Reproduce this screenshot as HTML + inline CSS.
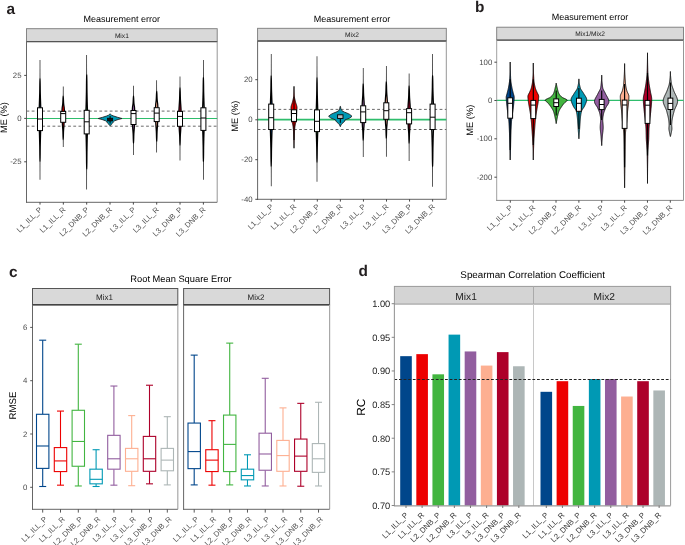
<!DOCTYPE html>
<html><head><meta charset="utf-8"><style>
html,body{margin:0;padding:0;background:#fff;width:685px;height:545px;overflow:hidden}
svg{display:block;will-change:transform}
text{font-family:"Liberation Sans", sans-serif;text-rendering:geometricPrecision}
</style></head><body>
<svg width="685" height="545" viewBox="0 0 685 545">
<rect width="685" height="545" fill="#fff"/>
<text x="6.6" y="14.2" font-size="15.4" font-weight="bold" fill="#231f20">a</text>
<text x="474.9" y="11.9" font-size="15.4" font-weight="bold" fill="#231f20">b</text>
<text x="8.9" y="277.1" font-size="15.4" font-weight="bold" fill="#231f20">c</text>
<text x="358.4" y="275.6" font-size="15.4" font-weight="bold" fill="#231f20">d</text>
<text x="121.85" y="22.10" font-size="9" fill="#000" text-anchor="middle" >Measurement error</text>
<rect x="26.50" y="28.70" width="190.70" height="12.90" fill="#d9d9d9" stroke="#7a7a7a" stroke-width="0.9" />
<line x1="26.50" y1="41.60" x2="217.20" y2="41.60" stroke="#555" stroke-width="1.3" />
<text x="121.85" y="37.80" font-size="6.6" fill="#1a1a1a" text-anchor="middle" >Mix1</text>
<line x1="217.20" y1="41.60" x2="217.20" y2="202.30" stroke="#8a8a8a" stroke-width="0.9" />
<line x1="26.50" y1="111.10" x2="217.20" y2="111.10" stroke="#5a5a5a" stroke-width="0.9" stroke-dasharray="2.8,2.4"/>
<line x1="26.50" y1="126.20" x2="217.20" y2="126.20" stroke="#5a5a5a" stroke-width="0.9" stroke-dasharray="2.8,2.4"/>
<line x1="26.50" y1="118.50" x2="217.20" y2="118.50" stroke="#2fbd6c" stroke-width="1.2" />
<path d="M40.32,59.90 40.32,60.50 40.32,61.10 40.32,61.70 40.32,62.30 40.32,62.89 40.32,63.49 40.32,64.09 40.32,64.69 40.32,65.29 40.32,65.89 40.32,66.49 40.32,67.09 40.32,67.69 40.32,68.29 40.33,68.88 40.33,69.48 40.33,70.08 40.33,70.68 40.33,71.28 40.33,71.88 40.33,72.48 40.34,73.08 40.34,73.68 40.34,74.28 40.34,74.88 40.35,75.47 40.35,76.07 40.35,76.67 40.36,77.27 40.36,77.87 40.36,77.90 40.51,78.47 40.62,78.90 40.63,79.07 40.66,79.67 40.68,80.27 40.71,80.86 40.73,81.46 40.75,82.06 40.76,82.66 40.78,83.26 40.79,83.86 40.80,84.46 40.81,85.06 40.82,85.66 40.83,86.26 40.83,86.85 40.84,87.45 40.85,88.05 40.85,88.65 40.86,89.25 40.87,89.85 40.88,90.45 40.89,91.05 40.90,91.65 40.91,92.25 40.92,92.84 40.93,93.35 40.93,93.44 40.95,94.04 40.97,94.64 40.98,95.24 41.00,95.84 41.02,96.44 41.03,97.04 41.05,97.64 41.07,98.24 41.09,98.83 41.11,99.43 41.13,100.03 41.15,100.63 41.17,101.23 41.19,101.83 41.21,102.43 41.23,103.03 41.25,103.63 41.27,104.23 41.29,104.80 41.29,104.82 41.31,105.42 41.34,106.02 41.37,106.62 41.39,107.22 41.40,107.80 41.40,107.82 41.40,108.42 41.40,109.02 41.40,109.62 41.40,110.22 41.40,110.81 41.40,111.41 41.40,112.01 41.40,112.61 41.40,113.21 41.39,113.81 41.39,114.41 41.39,115.01 41.39,115.61 41.39,116.21 41.39,116.80 41.38,117.40 41.38,118.00 41.38,118.60 41.38,119.20 41.38,119.80 41.37,120.40 41.37,121.00 41.37,121.60 41.36,122.20 41.36,122.79 41.36,123.39 41.35,123.99 41.35,124.59 41.34,125.19 41.34,125.79 41.34,126.39 41.33,126.99 41.33,127.59 41.32,128.19 41.32,128.78 41.31,129.38 41.31,129.98 41.30,130.58 41.30,130.60 41.29,131.18 41.27,131.78 41.24,132.38 41.22,132.98 41.20,133.58 41.20,133.60 41.18,134.18 41.16,134.77 41.14,135.37 41.13,135.97 41.11,136.57 41.10,137.17 41.08,137.77 41.06,138.37 41.05,138.97 41.03,139.57 41.02,140.17 41.01,140.76 40.99,141.36 40.98,141.96 40.96,142.56 40.95,143.16 40.94,143.76 40.92,144.36 40.91,144.96 40.90,145.56 40.89,145.85 40.89,146.16 40.87,146.75 40.87,147.35 40.86,147.95 40.85,148.55 40.84,149.15 40.84,149.75 40.83,150.35 40.82,150.95 40.82,151.55 40.81,152.15 40.81,152.74 40.80,153.34 40.80,153.94 40.79,154.54 40.78,155.14 40.77,155.74 40.76,156.34 40.75,156.94 40.74,157.54 40.72,158.14 40.71,158.73 40.69,159.33 40.67,159.93 40.64,160.53 40.62,161.10 40.62,161.13 40.44,161.73 40.36,162.10 40.36,162.33 40.35,162.93 40.35,163.53 40.35,164.13 40.35,164.72 40.34,165.32 40.34,165.92 40.34,166.52 40.34,167.12 40.33,167.72 40.33,168.32 40.33,168.92 40.33,169.52 40.33,170.12 40.33,170.71 40.33,171.31 40.32,171.91 40.32,172.51 40.32,173.11 40.32,173.71 40.32,174.31 40.32,174.91 40.32,175.51 40.32,176.11 40.32,176.70 40.32,177.30 40.32,177.90 40.32,178.50 40.32,179.10 40.32,179.70 L39.68,179.70 39.68,179.10 39.68,178.50 39.68,177.90 39.68,177.30 39.68,176.70 39.68,176.11 39.68,175.51 39.68,174.91 39.68,174.31 39.68,173.71 39.68,173.11 39.68,172.51 39.68,171.91 39.67,171.31 39.67,170.71 39.67,170.12 39.67,169.52 39.67,168.92 39.67,168.32 39.67,167.72 39.66,167.12 39.66,166.52 39.66,165.92 39.66,165.32 39.65,164.72 39.65,164.13 39.65,163.53 39.65,162.93 39.64,162.33 39.64,162.10 39.56,161.73 39.38,161.13 39.38,161.10 39.36,160.53 39.33,159.93 39.31,159.33 39.29,158.73 39.28,158.14 39.26,157.54 39.25,156.94 39.24,156.34 39.23,155.74 39.22,155.14 39.21,154.54 39.20,153.94 39.20,153.34 39.19,152.74 39.19,152.15 39.18,151.55 39.18,150.95 39.17,150.35 39.16,149.75 39.16,149.15 39.15,148.55 39.14,147.95 39.13,147.35 39.13,146.75 39.11,146.16 39.11,145.85 39.10,145.56 39.09,144.96 39.08,144.36 39.06,143.76 39.05,143.16 39.04,142.56 39.02,141.96 39.01,141.36 38.99,140.76 38.98,140.17 38.97,139.57 38.95,138.97 38.94,138.37 38.92,137.77 38.90,137.17 38.89,136.57 38.87,135.97 38.86,135.37 38.84,134.77 38.82,134.18 38.80,133.60 38.80,133.58 38.78,132.98 38.76,132.38 38.73,131.78 38.71,131.18 38.70,130.60 38.70,130.58 38.69,129.98 38.69,129.38 38.68,128.78 38.68,128.19 38.67,127.59 38.67,126.99 38.66,126.39 38.66,125.79 38.66,125.19 38.65,124.59 38.65,123.99 38.64,123.39 38.64,122.79 38.64,122.20 38.63,121.60 38.63,121.00 38.63,120.40 38.62,119.80 38.62,119.20 38.62,118.60 38.62,118.00 38.62,117.40 38.61,116.80 38.61,116.21 38.61,115.61 38.61,115.01 38.61,114.41 38.61,113.81 38.60,113.21 38.60,112.61 38.60,112.01 38.60,111.41 38.60,110.81 38.60,110.22 38.60,109.62 38.60,109.02 38.60,108.42 38.60,107.82 38.60,107.80 38.61,107.22 38.63,106.62 38.66,106.02 38.69,105.42 38.71,104.82 38.71,104.80 38.73,104.23 38.75,103.63 38.77,103.03 38.79,102.43 38.81,101.83 38.83,101.23 38.85,100.63 38.87,100.03 38.89,99.43 38.91,98.83 38.93,98.24 38.95,97.64 38.97,97.04 38.98,96.44 39.00,95.84 39.02,95.24 39.03,94.64 39.05,94.04 39.07,93.44 39.07,93.35 39.08,92.84 39.09,92.25 39.10,91.65 39.11,91.05 39.12,90.45 39.13,89.85 39.14,89.25 39.15,88.65 39.15,88.05 39.16,87.45 39.17,86.85 39.17,86.26 39.18,85.66 39.19,85.06 39.20,84.46 39.21,83.86 39.22,83.26 39.24,82.66 39.25,82.06 39.27,81.46 39.29,80.86 39.32,80.27 39.34,79.67 39.37,79.07 39.38,78.90 39.49,78.47 39.64,77.90 39.64,77.87 39.64,77.27 39.65,76.67 39.65,76.07 39.65,75.47 39.66,74.88 39.66,74.28 39.66,73.68 39.66,73.08 39.67,72.48 39.67,71.88 39.67,71.28 39.67,70.68 39.67,70.08 39.67,69.48 39.67,68.88 39.68,68.29 39.68,67.69 39.68,67.09 39.68,66.49 39.68,65.89 39.68,65.29 39.68,64.69 39.68,64.09 39.68,63.49 39.68,62.89 39.68,62.30 39.68,61.70 39.68,61.10 39.68,60.50 39.68,59.90 Z" fill="#000" stroke="none"/>
<path d="M40.00,59.90 40.00,60.50 40.00,61.10 40.00,61.70 40.00,62.30 40.00,62.89 40.00,63.49 40.00,64.09 40.00,64.69 40.00,65.29 40.00,65.89 40.00,66.49 40.00,67.09 40.00,67.69 40.00,68.29 40.00,68.88 40.00,69.48 40.00,70.08 40.00,70.68 40.00,71.28 40.00,71.88 40.00,72.48 40.00,73.08 40.00,73.68 40.00,74.28 40.00,74.88 40.00,75.47 40.00,76.07 40.00,76.67 40.00,77.27 40.00,77.87 40.00,77.90 40.00,78.47 40.00,78.90 40.00,79.07 40.00,79.67 40.00,80.27 40.00,80.86 40.00,81.46 40.00,82.06 40.00,82.66 40.00,83.26 40.00,83.86 40.00,84.46 40.00,85.06 40.00,85.66 40.00,86.26 40.00,86.85 40.00,87.45 40.00,88.05 40.00,88.65 40.00,89.25 40.00,89.85 40.00,90.45 40.00,91.05 40.00,91.65 40.00,92.25 40.00,92.84 40.00,93.35 40.00,93.44 40.00,94.04 40.00,94.64 40.00,95.24 40.00,95.84 40.00,96.44 40.00,97.04 40.00,97.64 40.00,98.24 40.00,98.83 40.00,99.43 40.00,100.03 40.00,100.63 40.00,101.23 40.00,101.83 40.00,102.43 40.00,103.03 40.00,103.63 40.02,104.23 40.04,104.80 40.04,104.82 40.06,105.42 40.09,106.02 40.12,106.62 40.14,107.22 40.15,107.80 40.15,107.82 40.15,108.42 40.15,109.02 40.15,109.62 40.15,110.22 40.15,110.81 40.15,111.41 40.15,112.01 40.15,112.61 40.15,113.21 40.14,113.81 40.14,114.41 40.14,115.01 40.14,115.61 40.14,116.21 40.14,116.80 40.13,117.40 40.13,118.00 40.13,118.60 40.13,119.20 40.13,119.80 40.12,120.40 40.12,121.00 40.12,121.60 40.11,122.20 40.11,122.79 40.11,123.39 40.10,123.99 40.10,124.59 40.09,125.19 40.09,125.79 40.09,126.39 40.08,126.99 40.08,127.59 40.07,128.19 40.07,128.78 40.06,129.38 40.06,129.98 40.05,130.58 40.05,130.60 40.04,131.18 40.02,131.78 40.00,132.38 40.00,132.98 40.00,133.58 40.00,133.60 40.00,134.18 40.00,134.77 40.00,135.37 40.00,135.97 40.00,136.57 40.00,137.17 40.00,137.77 40.00,138.37 40.00,138.97 40.00,139.57 40.00,140.17 40.00,140.76 40.00,141.36 40.00,141.96 40.00,142.56 40.00,143.16 40.00,143.76 40.00,144.36 40.00,144.96 40.00,145.56 40.00,145.85 40.00,146.16 40.00,146.75 40.00,147.35 40.00,147.95 40.00,148.55 40.00,149.15 40.00,149.75 40.00,150.35 40.00,150.95 40.00,151.55 40.00,152.15 40.00,152.74 40.00,153.34 40.00,153.94 40.00,154.54 40.00,155.14 40.00,155.74 40.00,156.34 40.00,156.94 40.00,157.54 40.00,158.14 40.00,158.73 40.00,159.33 40.00,159.93 40.00,160.53 40.00,161.10 40.00,161.13 40.00,161.73 40.00,162.10 40.00,162.33 40.00,162.93 40.00,163.53 40.00,164.13 40.00,164.72 40.00,165.32 40.00,165.92 40.00,166.52 40.00,167.12 40.00,167.72 40.00,168.32 40.00,168.92 40.00,169.52 40.00,170.12 40.00,170.71 40.00,171.31 40.00,171.91 40.00,172.51 40.00,173.11 40.00,173.71 40.00,174.31 40.00,174.91 40.00,175.51 40.00,176.11 40.00,176.70 40.00,177.30 40.00,177.90 40.00,178.50 40.00,179.10 40.00,179.70 L40.00,179.70 40.00,179.10 40.00,178.50 40.00,177.90 40.00,177.30 40.00,176.70 40.00,176.11 40.00,175.51 40.00,174.91 40.00,174.31 40.00,173.71 40.00,173.11 40.00,172.51 40.00,171.91 40.00,171.31 40.00,170.71 40.00,170.12 40.00,169.52 40.00,168.92 40.00,168.32 40.00,167.72 40.00,167.12 40.00,166.52 40.00,165.92 40.00,165.32 40.00,164.72 40.00,164.13 40.00,163.53 40.00,162.93 40.00,162.33 40.00,162.10 40.00,161.73 40.00,161.13 40.00,161.10 40.00,160.53 40.00,159.93 40.00,159.33 40.00,158.73 40.00,158.14 40.00,157.54 40.00,156.94 40.00,156.34 40.00,155.74 40.00,155.14 40.00,154.54 40.00,153.94 40.00,153.34 40.00,152.74 40.00,152.15 40.00,151.55 40.00,150.95 40.00,150.35 40.00,149.75 40.00,149.15 40.00,148.55 40.00,147.95 40.00,147.35 40.00,146.75 40.00,146.16 40.00,145.85 40.00,145.56 40.00,144.96 40.00,144.36 40.00,143.76 40.00,143.16 40.00,142.56 40.00,141.96 40.00,141.36 40.00,140.76 40.00,140.17 40.00,139.57 40.00,138.97 40.00,138.37 40.00,137.77 40.00,137.17 40.00,136.57 40.00,135.97 40.00,135.37 40.00,134.77 40.00,134.18 40.00,133.60 40.00,133.58 40.00,132.98 40.00,132.38 39.98,131.78 39.96,131.18 39.95,130.60 39.95,130.58 39.94,129.98 39.94,129.38 39.93,128.78 39.93,128.19 39.92,127.59 39.92,126.99 39.91,126.39 39.91,125.79 39.91,125.19 39.90,124.59 39.90,123.99 39.89,123.39 39.89,122.79 39.89,122.20 39.88,121.60 39.88,121.00 39.88,120.40 39.87,119.80 39.87,119.20 39.87,118.60 39.87,118.00 39.87,117.40 39.86,116.80 39.86,116.21 39.86,115.61 39.86,115.01 39.86,114.41 39.86,113.81 39.85,113.21 39.85,112.61 39.85,112.01 39.85,111.41 39.85,110.81 39.85,110.22 39.85,109.62 39.85,109.02 39.85,108.42 39.85,107.82 39.85,107.80 39.86,107.22 39.88,106.62 39.91,106.02 39.94,105.42 39.96,104.82 39.96,104.80 39.98,104.23 40.00,103.63 40.00,103.03 40.00,102.43 40.00,101.83 40.00,101.23 40.00,100.63 40.00,100.03 40.00,99.43 40.00,98.83 40.00,98.24 40.00,97.64 40.00,97.04 40.00,96.44 40.00,95.84 40.00,95.24 40.00,94.64 40.00,94.04 40.00,93.44 40.00,93.35 40.00,92.84 40.00,92.25 40.00,91.65 40.00,91.05 40.00,90.45 40.00,89.85 40.00,89.25 40.00,88.65 40.00,88.05 40.00,87.45 40.00,86.85 40.00,86.26 40.00,85.66 40.00,85.06 40.00,84.46 40.00,83.86 40.00,83.26 40.00,82.66 40.00,82.06 40.00,81.46 40.00,80.86 40.00,80.27 40.00,79.67 40.00,79.07 40.00,78.90 40.00,78.47 40.00,77.90 40.00,77.87 40.00,77.27 40.00,76.67 40.00,76.07 40.00,75.47 40.00,74.88 40.00,74.28 40.00,73.68 40.00,73.08 40.00,72.48 40.00,71.88 40.00,71.28 40.00,70.68 40.00,70.08 40.00,69.48 40.00,68.88 40.00,68.29 40.00,67.69 40.00,67.09 40.00,66.49 40.00,65.89 40.00,65.29 40.00,64.69 40.00,64.09 40.00,63.49 40.00,62.89 40.00,62.30 40.00,61.70 40.00,61.10 40.00,60.50 40.00,59.90 Z" fill="#00468B" stroke="none"/>
<rect x="37.50" y="107.80" width="5.00" height="22.80" fill="#fff" stroke="#000" stroke-width="1.0" />
<line x1="37.50" y1="119.00" x2="42.50" y2="119.00" stroke="#000" stroke-width="1.0" />
<path d="M63.52,86.40 63.52,86.70 63.52,87.01 63.52,87.31 63.52,87.61 63.52,87.92 63.52,88.22 63.52,88.52 63.52,88.82 63.52,89.13 63.52,89.43 63.52,89.73 63.52,90.04 63.53,90.34 63.53,90.64 63.53,90.95 63.53,91.25 63.53,91.55 63.53,91.85 63.53,92.16 63.53,92.46 63.54,92.76 63.54,93.07 63.54,93.37 63.54,93.67 63.55,93.98 63.55,94.28 63.55,94.58 63.56,94.88 63.56,95.19 63.56,95.30 63.58,95.49 63.67,95.79 63.78,96.10 63.82,96.30 63.83,96.40 63.87,96.70 63.90,97.01 63.93,97.31 63.95,97.61 63.98,97.91 64.00,98.22 64.02,98.52 64.04,98.82 64.05,99.13 64.07,99.43 64.08,99.73 64.10,100.03 64.11,100.34 64.12,100.64 64.14,100.94 64.15,101.25 64.16,101.55 64.18,101.85 64.19,102.16 64.21,102.46 64.23,102.76 64.25,103.06 64.27,103.37 64.30,103.67 64.31,103.85 64.32,103.97 64.36,104.28 64.39,104.58 64.43,104.88 64.47,105.19 64.52,105.49 64.57,105.79 64.61,106.09 64.66,106.40 64.71,106.70 64.75,107.00 64.79,107.31 64.83,107.61 64.86,107.91 64.89,108.22 64.90,108.40 64.91,108.52 64.93,108.82 64.95,109.12 64.97,109.43 64.99,109.73 65.01,110.03 65.02,110.34 65.04,110.64 65.04,110.94 65.05,111.25 65.05,111.40 65.05,111.55 65.05,111.85 65.05,112.16 65.04,112.46 65.04,112.76 65.04,113.06 65.03,113.37 65.02,113.67 65.02,113.97 65.01,114.28 65.00,114.58 64.99,114.88 64.98,115.19 64.97,115.49 64.96,115.79 64.95,116.09 64.94,116.40 64.93,116.70 64.92,117.00 64.91,117.31 64.89,117.61 64.88,117.91 64.87,118.22 64.86,118.52 64.84,118.82 64.83,119.12 64.82,119.43 64.80,119.73 64.79,120.03 64.78,120.34 64.77,120.64 64.75,120.94 64.74,121.25 64.73,121.55 64.72,121.85 64.71,122.15 64.70,122.30 64.69,122.46 64.68,122.76 64.67,123.06 64.66,123.37 64.65,123.67 64.64,123.97 64.63,124.28 64.61,124.58 64.60,124.88 64.59,125.18 64.58,125.30 64.57,125.49 64.55,125.79 64.53,126.09 64.51,126.40 64.49,126.70 64.47,127.00 64.44,127.31 64.42,127.61 64.39,127.91 64.36,128.21 64.34,128.52 64.31,128.82 64.29,129.12 64.26,129.43 64.24,129.73 64.22,130.03 64.20,130.34 64.18,130.64 64.17,130.80 64.16,130.94 64.15,131.24 64.14,131.55 64.12,131.85 64.11,132.15 64.10,132.46 64.09,132.76 64.08,133.06 64.08,133.37 64.07,133.67 64.06,133.97 64.05,134.27 64.04,134.58 64.04,134.88 64.03,135.18 64.02,135.49 64.01,135.79 64.00,136.09 63.99,136.39 63.98,136.70 63.97,137.00 63.95,137.30 63.94,137.61 63.92,137.91 63.90,138.21 63.88,138.52 63.86,138.82 63.84,139.12 63.82,139.30 63.80,139.43 63.71,139.73 63.60,140.03 63.56,140.30 63.56,140.33 63.56,140.64 63.55,140.94 63.55,141.24 63.54,141.55 63.54,141.85 63.54,142.15 63.54,142.45 63.53,142.76 63.53,143.06 63.53,143.36 63.53,143.67 63.53,143.97 63.52,144.27 63.52,144.58 63.52,144.88 63.52,145.18 63.52,145.49 63.52,145.79 63.52,146.09 63.52,146.39 63.52,146.70 63.52,147.00 L62.88,147.00 62.88,146.70 62.88,146.39 62.88,146.09 62.88,145.79 62.88,145.49 62.88,145.18 62.88,144.88 62.88,144.58 62.88,144.27 62.87,143.97 62.87,143.67 62.87,143.36 62.87,143.06 62.87,142.76 62.86,142.45 62.86,142.15 62.86,141.85 62.86,141.55 62.85,141.24 62.85,140.94 62.84,140.64 62.84,140.33 62.84,140.30 62.80,140.03 62.69,139.73 62.60,139.43 62.58,139.30 62.56,139.12 62.54,138.82 62.52,138.52 62.50,138.21 62.48,137.91 62.46,137.61 62.45,137.30 62.43,137.00 62.42,136.70 62.41,136.39 62.40,136.09 62.39,135.79 62.38,135.49 62.37,135.18 62.36,134.88 62.36,134.58 62.35,134.27 62.34,133.97 62.33,133.67 62.32,133.37 62.32,133.06 62.31,132.76 62.30,132.46 62.29,132.15 62.28,131.85 62.26,131.55 62.25,131.24 62.24,130.94 62.23,130.80 62.22,130.64 62.20,130.34 62.18,130.03 62.16,129.73 62.14,129.43 62.11,129.12 62.09,128.82 62.06,128.52 62.04,128.21 62.01,127.91 61.98,127.61 61.96,127.31 61.93,127.00 61.91,126.70 61.89,126.40 61.87,126.09 61.85,125.79 61.83,125.49 61.82,125.30 61.81,125.18 61.80,124.88 61.79,124.58 61.77,124.28 61.76,123.97 61.75,123.67 61.74,123.37 61.73,123.06 61.72,122.76 61.71,122.46 61.70,122.30 61.69,122.15 61.68,121.85 61.67,121.55 61.66,121.25 61.65,120.94 61.63,120.64 61.62,120.34 61.61,120.03 61.60,119.73 61.58,119.43 61.57,119.12 61.56,118.82 61.54,118.52 61.53,118.22 61.52,117.91 61.51,117.61 61.49,117.31 61.48,117.00 61.47,116.70 61.46,116.40 61.45,116.09 61.44,115.79 61.43,115.49 61.42,115.19 61.41,114.88 61.40,114.58 61.39,114.28 61.38,113.97 61.38,113.67 61.37,113.37 61.36,113.06 61.36,112.76 61.36,112.46 61.35,112.16 61.35,111.85 61.35,111.55 61.35,111.40 61.35,111.25 61.36,110.94 61.36,110.64 61.38,110.34 61.39,110.03 61.41,109.73 61.43,109.43 61.45,109.12 61.47,108.82 61.49,108.52 61.50,108.40 61.51,108.22 61.54,107.91 61.57,107.61 61.61,107.31 61.65,107.00 61.69,106.70 61.74,106.40 61.79,106.09 61.83,105.79 61.88,105.49 61.93,105.19 61.97,104.88 62.01,104.58 62.04,104.28 62.08,103.97 62.09,103.85 62.10,103.67 62.13,103.37 62.15,103.06 62.17,102.76 62.19,102.46 62.21,102.16 62.22,101.85 62.24,101.55 62.25,101.25 62.26,100.94 62.28,100.64 62.29,100.34 62.30,100.03 62.32,99.73 62.33,99.43 62.35,99.13 62.36,98.82 62.38,98.52 62.40,98.22 62.42,97.91 62.45,97.61 62.47,97.31 62.50,97.01 62.53,96.70 62.57,96.40 62.58,96.30 62.62,96.10 62.73,95.79 62.82,95.49 62.84,95.30 62.84,95.19 62.84,94.88 62.85,94.58 62.85,94.28 62.85,93.98 62.86,93.67 62.86,93.37 62.86,93.07 62.86,92.76 62.87,92.46 62.87,92.16 62.87,91.85 62.87,91.55 62.87,91.25 62.87,90.95 62.87,90.64 62.87,90.34 62.88,90.04 62.88,89.73 62.88,89.43 62.88,89.13 62.88,88.82 62.88,88.52 62.88,88.22 62.88,87.92 62.88,87.61 62.88,87.31 62.88,87.01 62.88,86.70 62.88,86.40 Z" fill="#000" stroke="none"/>
<path d="M63.20,86.40 63.20,86.70 63.20,87.01 63.20,87.31 63.20,87.61 63.20,87.92 63.20,88.22 63.20,88.52 63.20,88.82 63.20,89.13 63.20,89.43 63.20,89.73 63.20,90.04 63.20,90.34 63.20,90.64 63.20,90.95 63.20,91.25 63.20,91.55 63.20,91.85 63.20,92.16 63.20,92.46 63.20,92.76 63.20,93.07 63.20,93.37 63.20,93.67 63.20,93.98 63.20,94.28 63.20,94.58 63.20,94.88 63.20,95.19 63.20,95.30 63.20,95.49 63.20,95.79 63.20,96.10 63.20,96.30 63.20,96.40 63.20,96.70 63.20,97.01 63.20,97.31 63.20,97.61 63.20,97.91 63.20,98.22 63.20,98.52 63.20,98.82 63.20,99.13 63.20,99.43 63.20,99.73 63.20,100.03 63.20,100.34 63.20,100.64 63.20,100.94 63.20,101.25 63.20,101.55 63.20,101.85 63.20,102.16 63.20,102.46 63.20,102.76 63.20,103.06 63.20,103.37 63.20,103.67 63.20,103.85 63.20,103.97 63.20,104.28 63.20,104.58 63.20,104.88 63.22,105.19 63.27,105.49 63.32,105.79 63.36,106.09 63.41,106.40 63.46,106.70 63.50,107.00 63.54,107.31 63.58,107.61 63.61,107.91 63.64,108.22 63.65,108.40 63.66,108.52 63.68,108.82 63.70,109.12 63.72,109.43 63.74,109.73 63.76,110.03 63.77,110.34 63.79,110.64 63.79,110.94 63.80,111.25 63.80,111.40 63.80,111.55 63.80,111.85 63.80,112.16 63.79,112.46 63.79,112.76 63.79,113.06 63.78,113.37 63.77,113.67 63.77,113.97 63.76,114.28 63.75,114.58 63.74,114.88 63.73,115.19 63.72,115.49 63.71,115.79 63.70,116.09 63.69,116.40 63.68,116.70 63.67,117.00 63.66,117.31 63.64,117.61 63.63,117.91 63.62,118.22 63.61,118.52 63.59,118.82 63.58,119.12 63.57,119.43 63.55,119.73 63.54,120.03 63.53,120.34 63.52,120.64 63.50,120.94 63.49,121.25 63.48,121.55 63.47,121.85 63.46,122.15 63.45,122.30 63.44,122.46 63.43,122.76 63.42,123.06 63.41,123.37 63.40,123.67 63.39,123.97 63.38,124.28 63.36,124.58 63.35,124.88 63.34,125.18 63.33,125.30 63.32,125.49 63.30,125.79 63.28,126.09 63.26,126.40 63.24,126.70 63.22,127.00 63.20,127.31 63.20,127.61 63.20,127.91 63.20,128.21 63.20,128.52 63.20,128.82 63.20,129.12 63.20,129.43 63.20,129.73 63.20,130.03 63.20,130.34 63.20,130.64 63.20,130.80 63.20,130.94 63.20,131.24 63.20,131.55 63.20,131.85 63.20,132.15 63.20,132.46 63.20,132.76 63.20,133.06 63.20,133.37 63.20,133.67 63.20,133.97 63.20,134.27 63.20,134.58 63.20,134.88 63.20,135.18 63.20,135.49 63.20,135.79 63.20,136.09 63.20,136.39 63.20,136.70 63.20,137.00 63.20,137.30 63.20,137.61 63.20,137.91 63.20,138.21 63.20,138.52 63.20,138.82 63.20,139.12 63.20,139.30 63.20,139.43 63.20,139.73 63.20,140.03 63.20,140.30 63.20,140.33 63.20,140.64 63.20,140.94 63.20,141.24 63.20,141.55 63.20,141.85 63.20,142.15 63.20,142.45 63.20,142.76 63.20,143.06 63.20,143.36 63.20,143.67 63.20,143.97 63.20,144.27 63.20,144.58 63.20,144.88 63.20,145.18 63.20,145.49 63.20,145.79 63.20,146.09 63.20,146.39 63.20,146.70 63.20,147.00 L63.20,147.00 63.20,146.70 63.20,146.39 63.20,146.09 63.20,145.79 63.20,145.49 63.20,145.18 63.20,144.88 63.20,144.58 63.20,144.27 63.20,143.97 63.20,143.67 63.20,143.36 63.20,143.06 63.20,142.76 63.20,142.45 63.20,142.15 63.20,141.85 63.20,141.55 63.20,141.24 63.20,140.94 63.20,140.64 63.20,140.33 63.20,140.30 63.20,140.03 63.20,139.73 63.20,139.43 63.20,139.30 63.20,139.12 63.20,138.82 63.20,138.52 63.20,138.21 63.20,137.91 63.20,137.61 63.20,137.30 63.20,137.00 63.20,136.70 63.20,136.39 63.20,136.09 63.20,135.79 63.20,135.49 63.20,135.18 63.20,134.88 63.20,134.58 63.20,134.27 63.20,133.97 63.20,133.67 63.20,133.37 63.20,133.06 63.20,132.76 63.20,132.46 63.20,132.15 63.20,131.85 63.20,131.55 63.20,131.24 63.20,130.94 63.20,130.80 63.20,130.64 63.20,130.34 63.20,130.03 63.20,129.73 63.20,129.43 63.20,129.12 63.20,128.82 63.20,128.52 63.20,128.21 63.20,127.91 63.20,127.61 63.20,127.31 63.18,127.00 63.16,126.70 63.14,126.40 63.12,126.09 63.10,125.79 63.08,125.49 63.07,125.30 63.06,125.18 63.05,124.88 63.04,124.58 63.02,124.28 63.01,123.97 63.00,123.67 62.99,123.37 62.98,123.06 62.97,122.76 62.96,122.46 62.95,122.30 62.94,122.15 62.93,121.85 62.92,121.55 62.91,121.25 62.90,120.94 62.88,120.64 62.87,120.34 62.86,120.03 62.85,119.73 62.83,119.43 62.82,119.12 62.81,118.82 62.79,118.52 62.78,118.22 62.77,117.91 62.76,117.61 62.74,117.31 62.73,117.00 62.72,116.70 62.71,116.40 62.70,116.09 62.69,115.79 62.68,115.49 62.67,115.19 62.66,114.88 62.65,114.58 62.64,114.28 62.63,113.97 62.63,113.67 62.62,113.37 62.61,113.06 62.61,112.76 62.61,112.46 62.60,112.16 62.60,111.85 62.60,111.55 62.60,111.40 62.60,111.25 62.61,110.94 62.61,110.64 62.63,110.34 62.64,110.03 62.66,109.73 62.68,109.43 62.70,109.12 62.72,108.82 62.74,108.52 62.75,108.40 62.76,108.22 62.79,107.91 62.82,107.61 62.86,107.31 62.90,107.00 62.94,106.70 62.99,106.40 63.04,106.09 63.08,105.79 63.13,105.49 63.18,105.19 63.20,104.88 63.20,104.58 63.20,104.28 63.20,103.97 63.20,103.85 63.20,103.67 63.20,103.37 63.20,103.06 63.20,102.76 63.20,102.46 63.20,102.16 63.20,101.85 63.20,101.55 63.20,101.25 63.20,100.94 63.20,100.64 63.20,100.34 63.20,100.03 63.20,99.73 63.20,99.43 63.20,99.13 63.20,98.82 63.20,98.52 63.20,98.22 63.20,97.91 63.20,97.61 63.20,97.31 63.20,97.01 63.20,96.70 63.20,96.40 63.20,96.30 63.20,96.10 63.20,95.79 63.20,95.49 63.20,95.30 63.20,95.19 63.20,94.88 63.20,94.58 63.20,94.28 63.20,93.98 63.20,93.67 63.20,93.37 63.20,93.07 63.20,92.76 63.20,92.46 63.20,92.16 63.20,91.85 63.20,91.55 63.20,91.25 63.20,90.95 63.20,90.64 63.20,90.34 63.20,90.04 63.20,89.73 63.20,89.43 63.20,89.13 63.20,88.82 63.20,88.52 63.20,88.22 63.20,87.92 63.20,87.61 63.20,87.31 63.20,87.01 63.20,86.70 63.20,86.40 Z" fill="#ED0000" stroke="none"/>
<rect x="60.70" y="111.40" width="5.00" height="10.90" fill="#fff" stroke="#000" stroke-width="1.0" />
<line x1="60.70" y1="113.60" x2="65.70" y2="113.60" stroke="#000" stroke-width="1.0" />
<path d="M87.02,55.00 87.02,55.67 87.02,56.34 87.02,57.02 87.02,57.69 87.02,58.36 87.02,59.03 87.02,59.70 87.02,60.38 87.02,61.05 87.02,61.72 87.02,62.39 87.02,63.06 87.02,63.74 87.03,64.41 87.03,65.08 87.03,65.75 87.03,66.42 87.03,67.10 87.03,67.77 87.04,68.44 87.04,69.11 87.04,69.78 87.04,70.46 87.05,71.13 87.05,71.80 87.05,72.47 87.06,73.14 87.06,73.82 87.06,74.00 87.18,74.49 87.32,75.00 87.33,75.16 87.36,75.83 87.38,76.50 87.40,77.18 87.42,77.85 87.44,78.52 87.46,79.19 87.47,79.86 87.48,80.54 87.50,81.21 87.51,81.88 87.51,82.55 87.52,83.22 87.53,83.90 87.54,84.57 87.54,85.24 87.55,85.91 87.55,86.58 87.56,87.26 87.57,87.93 87.57,88.60 87.58,89.27 87.59,89.94 87.60,90.62 87.61,91.29 87.62,91.96 87.63,92.63 87.63,92.65 87.65,93.30 87.66,93.98 87.67,94.65 87.69,95.32 87.70,95.99 87.72,96.66 87.73,97.34 87.75,98.01 87.76,98.68 87.78,99.35 87.79,100.02 87.81,100.70 87.82,101.37 87.84,102.04 87.86,102.71 87.88,103.38 87.89,104.06 87.91,104.73 87.93,105.40 87.95,106.07 87.97,106.74 87.99,107.30 87.99,107.42 88.02,108.09 88.05,108.76 88.08,109.43 88.10,110.10 88.10,110.30 88.10,110.78 88.10,111.45 88.10,112.12 88.10,112.79 88.10,113.46 88.10,114.14 88.10,114.81 88.10,115.48 88.09,116.15 88.09,116.82 88.09,117.50 88.09,118.17 88.09,118.84 88.09,119.51 88.08,120.18 88.08,120.86 88.08,121.53 88.08,122.20 88.07,122.87 88.07,123.54 88.07,124.22 88.07,124.89 88.06,125.56 88.06,126.23 88.05,126.90 88.05,127.58 88.05,128.25 88.04,128.92 88.04,129.59 88.03,130.26 88.03,130.94 88.02,131.61 88.01,132.28 88.01,132.95 88.00,133.62 88.00,133.90 87.99,134.30 87.97,134.97 87.94,135.64 87.92,136.31 87.90,136.90 87.89,136.98 87.88,137.66 87.86,138.33 87.84,139.00 87.82,139.67 87.81,140.34 87.79,141.02 87.78,141.69 87.76,142.36 87.75,143.03 87.74,143.70 87.72,144.38 87.71,145.05 87.70,145.72 87.68,146.39 87.67,147.06 87.66,147.74 87.65,148.41 87.63,149.08 87.62,149.75 87.61,150.42 87.60,151.10 87.59,151.35 87.58,151.77 87.57,152.44 87.57,153.11 87.56,153.78 87.55,154.46 87.54,155.13 87.54,155.80 87.53,156.47 87.53,157.14 87.52,157.82 87.52,158.49 87.51,159.16 87.51,159.83 87.50,160.50 87.49,161.18 87.49,161.85 87.48,162.52 87.47,163.19 87.46,163.86 87.44,164.54 87.43,165.21 87.41,165.88 87.40,166.55 87.38,167.22 87.35,167.90 87.33,168.57 87.32,168.80 87.21,169.24 87.06,169.80 87.06,169.91 87.06,170.58 87.05,171.26 87.05,171.93 87.05,172.60 87.04,173.27 87.04,173.94 87.04,174.62 87.04,175.29 87.03,175.96 87.03,176.63 87.03,177.30 87.03,177.98 87.03,178.65 87.03,179.32 87.03,179.99 87.02,180.66 87.02,181.34 87.02,182.01 87.02,182.68 87.02,183.35 87.02,184.02 87.02,184.70 87.02,185.37 87.02,186.04 87.02,186.71 87.02,187.38 87.02,188.06 87.02,188.73 87.02,189.40 L86.38,189.40 86.38,188.73 86.38,188.06 86.38,187.38 86.38,186.71 86.38,186.04 86.38,185.37 86.38,184.70 86.38,184.02 86.38,183.35 86.38,182.68 86.38,182.01 86.38,181.34 86.38,180.66 86.37,179.99 86.37,179.32 86.37,178.65 86.37,177.98 86.37,177.30 86.37,176.63 86.37,175.96 86.36,175.29 86.36,174.62 86.36,173.94 86.36,173.27 86.35,172.60 86.35,171.93 86.35,171.26 86.34,170.58 86.34,169.91 86.34,169.80 86.19,169.24 86.08,168.80 86.07,168.57 86.05,167.90 86.02,167.22 86.00,166.55 85.99,165.88 85.97,165.21 85.96,164.54 85.94,163.86 85.93,163.19 85.92,162.52 85.91,161.85 85.91,161.18 85.90,160.50 85.89,159.83 85.89,159.16 85.88,158.49 85.88,157.82 85.87,157.14 85.87,156.47 85.86,155.80 85.86,155.13 85.85,154.46 85.84,153.78 85.83,153.11 85.83,152.44 85.82,151.77 85.81,151.35 85.80,151.10 85.79,150.42 85.78,149.75 85.77,149.08 85.75,148.41 85.74,147.74 85.73,147.06 85.72,146.39 85.70,145.72 85.69,145.05 85.68,144.38 85.66,143.70 85.65,143.03 85.64,142.36 85.62,141.69 85.61,141.02 85.59,140.34 85.58,139.67 85.56,139.00 85.54,138.33 85.52,137.66 85.51,136.98 85.50,136.90 85.48,136.31 85.46,135.64 85.43,134.97 85.41,134.30 85.40,133.90 85.40,133.62 85.39,132.95 85.39,132.28 85.38,131.61 85.37,130.94 85.37,130.26 85.36,129.59 85.36,128.92 85.35,128.25 85.35,127.58 85.35,126.90 85.34,126.23 85.34,125.56 85.33,124.89 85.33,124.22 85.33,123.54 85.33,122.87 85.32,122.20 85.32,121.53 85.32,120.86 85.32,120.18 85.31,119.51 85.31,118.84 85.31,118.17 85.31,117.50 85.31,116.82 85.31,116.15 85.30,115.48 85.30,114.81 85.30,114.14 85.30,113.46 85.30,112.79 85.30,112.12 85.30,111.45 85.30,110.78 85.30,110.30 85.30,110.10 85.32,109.43 85.35,108.76 85.38,108.09 85.41,107.42 85.41,107.30 85.43,106.74 85.45,106.07 85.47,105.40 85.49,104.73 85.51,104.06 85.52,103.38 85.54,102.71 85.56,102.04 85.58,101.37 85.59,100.70 85.61,100.02 85.62,99.35 85.64,98.68 85.65,98.01 85.67,97.34 85.68,96.66 85.70,95.99 85.71,95.32 85.73,94.65 85.74,93.98 85.75,93.30 85.77,92.65 85.77,92.63 85.78,91.96 85.79,91.29 85.80,90.62 85.81,89.94 85.82,89.27 85.83,88.60 85.83,87.93 85.84,87.26 85.85,86.58 85.85,85.91 85.86,85.24 85.86,84.57 85.87,83.90 85.88,83.22 85.89,82.55 85.89,81.88 85.90,81.21 85.92,80.54 85.93,79.86 85.94,79.19 85.96,78.52 85.98,77.85 86.00,77.18 86.02,76.50 86.04,75.83 86.07,75.16 86.08,75.00 86.22,74.49 86.34,74.00 86.34,73.82 86.34,73.14 86.35,72.47 86.35,71.80 86.35,71.13 86.36,70.46 86.36,69.78 86.36,69.11 86.36,68.44 86.37,67.77 86.37,67.10 86.37,66.42 86.37,65.75 86.37,65.08 86.37,64.41 86.38,63.74 86.38,63.06 86.38,62.39 86.38,61.72 86.38,61.05 86.38,60.38 86.38,59.70 86.38,59.03 86.38,58.36 86.38,57.69 86.38,57.02 86.38,56.34 86.38,55.67 86.38,55.00 Z" fill="#000" stroke="none"/>
<path d="M86.70,55.00 86.70,55.67 86.70,56.34 86.70,57.02 86.70,57.69 86.70,58.36 86.70,59.03 86.70,59.70 86.70,60.38 86.70,61.05 86.70,61.72 86.70,62.39 86.70,63.06 86.70,63.74 86.70,64.41 86.70,65.08 86.70,65.75 86.70,66.42 86.70,67.10 86.70,67.77 86.70,68.44 86.70,69.11 86.70,69.78 86.70,70.46 86.70,71.13 86.70,71.80 86.70,72.47 86.70,73.14 86.70,73.82 86.70,74.00 86.70,74.49 86.70,75.00 86.70,75.16 86.70,75.83 86.70,76.50 86.70,77.18 86.70,77.85 86.70,78.52 86.70,79.19 86.70,79.86 86.70,80.54 86.70,81.21 86.70,81.88 86.70,82.55 86.70,83.22 86.70,83.90 86.70,84.57 86.70,85.24 86.70,85.91 86.70,86.58 86.70,87.26 86.70,87.93 86.70,88.60 86.70,89.27 86.70,89.94 86.70,90.62 86.70,91.29 86.70,91.96 86.70,92.63 86.70,92.65 86.70,93.30 86.70,93.98 86.70,94.65 86.70,95.32 86.70,95.99 86.70,96.66 86.70,97.34 86.70,98.01 86.70,98.68 86.70,99.35 86.70,100.02 86.70,100.70 86.70,101.37 86.70,102.04 86.70,102.71 86.70,103.38 86.70,104.06 86.70,104.73 86.70,105.40 86.70,106.07 86.72,106.74 86.74,107.30 86.74,107.42 86.77,108.09 86.80,108.76 86.83,109.43 86.85,110.10 86.85,110.30 86.85,110.78 86.85,111.45 86.85,112.12 86.85,112.79 86.85,113.46 86.85,114.14 86.85,114.81 86.85,115.48 86.84,116.15 86.84,116.82 86.84,117.50 86.84,118.17 86.84,118.84 86.84,119.51 86.83,120.18 86.83,120.86 86.83,121.53 86.83,122.20 86.82,122.87 86.82,123.54 86.82,124.22 86.82,124.89 86.81,125.56 86.81,126.23 86.80,126.90 86.80,127.58 86.80,128.25 86.79,128.92 86.79,129.59 86.78,130.26 86.78,130.94 86.77,131.61 86.76,132.28 86.76,132.95 86.75,133.62 86.75,133.90 86.74,134.30 86.72,134.97 86.70,135.64 86.70,136.31 86.70,136.90 86.70,136.98 86.70,137.66 86.70,138.33 86.70,139.00 86.70,139.67 86.70,140.34 86.70,141.02 86.70,141.69 86.70,142.36 86.70,143.03 86.70,143.70 86.70,144.38 86.70,145.05 86.70,145.72 86.70,146.39 86.70,147.06 86.70,147.74 86.70,148.41 86.70,149.08 86.70,149.75 86.70,150.42 86.70,151.10 86.70,151.35 86.70,151.77 86.70,152.44 86.70,153.11 86.70,153.78 86.70,154.46 86.70,155.13 86.70,155.80 86.70,156.47 86.70,157.14 86.70,157.82 86.70,158.49 86.70,159.16 86.70,159.83 86.70,160.50 86.70,161.18 86.70,161.85 86.70,162.52 86.70,163.19 86.70,163.86 86.70,164.54 86.70,165.21 86.70,165.88 86.70,166.55 86.70,167.22 86.70,167.90 86.70,168.57 86.70,168.80 86.70,169.24 86.70,169.80 86.70,169.91 86.70,170.58 86.70,171.26 86.70,171.93 86.70,172.60 86.70,173.27 86.70,173.94 86.70,174.62 86.70,175.29 86.70,175.96 86.70,176.63 86.70,177.30 86.70,177.98 86.70,178.65 86.70,179.32 86.70,179.99 86.70,180.66 86.70,181.34 86.70,182.01 86.70,182.68 86.70,183.35 86.70,184.02 86.70,184.70 86.70,185.37 86.70,186.04 86.70,186.71 86.70,187.38 86.70,188.06 86.70,188.73 86.70,189.40 L86.70,189.40 86.70,188.73 86.70,188.06 86.70,187.38 86.70,186.71 86.70,186.04 86.70,185.37 86.70,184.70 86.70,184.02 86.70,183.35 86.70,182.68 86.70,182.01 86.70,181.34 86.70,180.66 86.70,179.99 86.70,179.32 86.70,178.65 86.70,177.98 86.70,177.30 86.70,176.63 86.70,175.96 86.70,175.29 86.70,174.62 86.70,173.94 86.70,173.27 86.70,172.60 86.70,171.93 86.70,171.26 86.70,170.58 86.70,169.91 86.70,169.80 86.70,169.24 86.70,168.80 86.70,168.57 86.70,167.90 86.70,167.22 86.70,166.55 86.70,165.88 86.70,165.21 86.70,164.54 86.70,163.86 86.70,163.19 86.70,162.52 86.70,161.85 86.70,161.18 86.70,160.50 86.70,159.83 86.70,159.16 86.70,158.49 86.70,157.82 86.70,157.14 86.70,156.47 86.70,155.80 86.70,155.13 86.70,154.46 86.70,153.78 86.70,153.11 86.70,152.44 86.70,151.77 86.70,151.35 86.70,151.10 86.70,150.42 86.70,149.75 86.70,149.08 86.70,148.41 86.70,147.74 86.70,147.06 86.70,146.39 86.70,145.72 86.70,145.05 86.70,144.38 86.70,143.70 86.70,143.03 86.70,142.36 86.70,141.69 86.70,141.02 86.70,140.34 86.70,139.67 86.70,139.00 86.70,138.33 86.70,137.66 86.70,136.98 86.70,136.90 86.70,136.31 86.70,135.64 86.68,134.97 86.66,134.30 86.65,133.90 86.65,133.62 86.64,132.95 86.64,132.28 86.63,131.61 86.62,130.94 86.62,130.26 86.61,129.59 86.61,128.92 86.60,128.25 86.60,127.58 86.60,126.90 86.59,126.23 86.59,125.56 86.58,124.89 86.58,124.22 86.58,123.54 86.58,122.87 86.57,122.20 86.57,121.53 86.57,120.86 86.57,120.18 86.56,119.51 86.56,118.84 86.56,118.17 86.56,117.50 86.56,116.82 86.56,116.15 86.55,115.48 86.55,114.81 86.55,114.14 86.55,113.46 86.55,112.79 86.55,112.12 86.55,111.45 86.55,110.78 86.55,110.30 86.55,110.10 86.57,109.43 86.60,108.76 86.63,108.09 86.66,107.42 86.66,107.30 86.68,106.74 86.70,106.07 86.70,105.40 86.70,104.73 86.70,104.06 86.70,103.38 86.70,102.71 86.70,102.04 86.70,101.37 86.70,100.70 86.70,100.02 86.70,99.35 86.70,98.68 86.70,98.01 86.70,97.34 86.70,96.66 86.70,95.99 86.70,95.32 86.70,94.65 86.70,93.98 86.70,93.30 86.70,92.65 86.70,92.63 86.70,91.96 86.70,91.29 86.70,90.62 86.70,89.94 86.70,89.27 86.70,88.60 86.70,87.93 86.70,87.26 86.70,86.58 86.70,85.91 86.70,85.24 86.70,84.57 86.70,83.90 86.70,83.22 86.70,82.55 86.70,81.88 86.70,81.21 86.70,80.54 86.70,79.86 86.70,79.19 86.70,78.52 86.70,77.85 86.70,77.18 86.70,76.50 86.70,75.83 86.70,75.16 86.70,75.00 86.70,74.49 86.70,74.00 86.70,73.82 86.70,73.14 86.70,72.47 86.70,71.80 86.70,71.13 86.70,70.46 86.70,69.78 86.70,69.11 86.70,68.44 86.70,67.77 86.70,67.10 86.70,66.42 86.70,65.75 86.70,65.08 86.70,64.41 86.70,63.74 86.70,63.06 86.70,62.39 86.70,61.72 86.70,61.05 86.70,60.38 86.70,59.70 86.70,59.03 86.70,58.36 86.70,57.69 86.70,57.02 86.70,56.34 86.70,55.67 86.70,55.00 Z" fill="#42B540" stroke="none"/>
<rect x="84.20" y="110.30" width="5.00" height="23.60" fill="#fff" stroke="#000" stroke-width="1.0" />
<line x1="84.20" y1="121.80" x2="89.20" y2="121.80" stroke="#000" stroke-width="1.0" />
<path d="M133.82,85.70 133.82,86.05 133.82,86.39 133.82,86.74 133.82,87.09 133.82,87.44 133.82,87.78 133.82,88.13 133.82,88.48 133.82,88.82 133.82,89.17 133.82,89.52 133.82,89.86 133.83,90.21 133.83,90.56 133.83,90.91 133.83,91.25 133.83,91.60 133.83,91.95 133.83,92.29 133.84,92.64 133.84,92.99 133.84,93.33 133.84,93.68 133.85,94.03 133.85,94.38 133.85,94.72 133.86,95.07 133.86,95.40 133.86,95.42 133.93,95.76 134.05,96.11 134.12,96.40 134.13,96.46 134.17,96.80 134.20,97.15 134.24,97.50 134.26,97.84 134.29,98.19 134.31,98.54 134.33,98.89 134.35,99.23 134.37,99.58 134.38,99.93 134.40,100.27 134.42,100.62 134.43,100.97 134.45,101.31 134.47,101.66 134.49,102.01 134.51,102.36 134.53,102.70 134.56,103.05 134.59,103.40 134.59,103.45 134.62,103.74 134.67,104.09 134.72,104.44 134.77,104.78 134.83,105.13 134.89,105.48 134.94,105.83 135.00,106.17 135.05,106.52 135.10,106.87 135.13,107.21 135.16,107.50 135.16,107.56 135.18,107.91 135.21,108.25 135.23,108.60 135.25,108.95 135.27,109.30 135.28,109.64 135.29,109.99 135.30,110.34 135.30,110.50 135.30,110.68 135.30,111.03 135.30,111.38 135.30,111.72 135.30,112.07 135.30,112.42 135.29,112.77 135.29,113.11 135.29,113.46 135.29,113.81 135.28,114.15 135.28,114.50 135.28,114.85 135.27,115.19 135.27,115.54 135.26,115.89 135.26,116.24 135.26,116.58 135.25,116.93 135.25,117.28 135.24,117.62 135.23,117.97 135.23,118.32 135.22,118.66 135.22,119.01 135.21,119.36 135.20,119.71 135.20,120.05 135.19,120.40 135.18,120.75 135.18,121.09 135.17,121.44 135.16,121.79 135.15,122.13 135.15,122.48 135.14,122.83 135.13,123.18 135.12,123.52 135.11,123.87 135.11,124.22 135.10,124.50 135.10,124.56 135.09,124.91 135.08,125.26 135.06,125.60 135.05,125.95 135.03,126.30 135.02,126.65 135.00,126.99 134.98,127.34 134.97,127.50 134.96,127.69 134.94,128.03 134.92,128.38 134.89,128.73 134.87,129.07 134.84,129.42 134.81,129.77 134.78,130.12 134.75,130.46 134.72,130.81 134.69,131.16 134.66,131.50 134.63,131.85 134.61,132.20 134.58,132.54 134.56,132.89 134.53,133.24 134.51,133.59 134.51,133.60 134.49,133.93 134.48,134.28 134.46,134.63 134.45,134.97 134.44,135.32 134.42,135.67 134.41,136.01 134.40,136.36 134.39,136.71 134.39,137.06 134.38,137.40 134.37,137.75 134.36,138.10 134.35,138.44 134.34,138.79 134.33,139.14 134.31,139.48 134.30,139.83 134.29,140.18 134.27,140.53 134.25,140.87 134.23,141.22 134.21,141.57 134.18,141.91 134.16,142.26 134.13,142.61 134.12,142.70 134.07,142.95 133.94,143.30 133.86,143.65 133.86,143.70 133.86,144.00 133.85,144.34 133.85,144.69 133.85,145.04 133.85,145.38 133.84,145.73 133.84,146.08 133.84,146.43 133.84,146.77 133.84,147.12 133.83,147.47 133.83,147.81 133.83,148.16 133.83,148.51 133.83,148.85 133.83,149.20 133.83,149.55 133.83,149.89 133.82,150.24 133.82,150.59 133.82,150.94 133.82,151.28 133.82,151.63 133.82,151.98 133.82,152.32 133.82,152.67 133.82,153.02 133.82,153.37 133.82,153.71 133.82,154.06 133.82,154.41 133.82,154.75 133.82,155.10 L133.18,155.10 133.18,154.75 133.18,154.41 133.18,154.06 133.18,153.71 133.18,153.37 133.18,153.02 133.18,152.67 133.18,152.32 133.18,151.98 133.18,151.63 133.18,151.28 133.18,150.94 133.18,150.59 133.18,150.24 133.17,149.89 133.17,149.55 133.17,149.20 133.17,148.85 133.17,148.51 133.17,148.16 133.17,147.81 133.17,147.47 133.16,147.12 133.16,146.77 133.16,146.43 133.16,146.08 133.16,145.73 133.15,145.38 133.15,145.04 133.15,144.69 133.15,144.34 133.14,144.00 133.14,143.70 133.14,143.65 133.06,143.30 132.93,142.95 132.88,142.70 132.87,142.61 132.84,142.26 132.82,141.91 132.79,141.57 132.77,141.22 132.75,140.87 132.73,140.53 132.71,140.18 132.70,139.83 132.69,139.48 132.67,139.14 132.66,138.79 132.65,138.44 132.64,138.10 132.63,137.75 132.62,137.40 132.61,137.06 132.61,136.71 132.60,136.36 132.59,136.01 132.58,135.67 132.56,135.32 132.55,134.97 132.54,134.63 132.52,134.28 132.51,133.93 132.49,133.60 132.49,133.59 132.47,133.24 132.44,132.89 132.42,132.54 132.39,132.20 132.37,131.85 132.34,131.50 132.31,131.16 132.28,130.81 132.25,130.46 132.22,130.12 132.19,129.77 132.16,129.42 132.13,129.07 132.11,128.73 132.08,128.38 132.06,128.03 132.04,127.69 132.03,127.50 132.02,127.34 132.00,126.99 131.98,126.65 131.97,126.30 131.95,125.95 131.94,125.60 131.92,125.26 131.91,124.91 131.90,124.56 131.90,124.50 131.89,124.22 131.89,123.87 131.88,123.52 131.87,123.18 131.86,122.83 131.85,122.48 131.85,122.13 131.84,121.79 131.83,121.44 131.82,121.09 131.82,120.75 131.81,120.40 131.80,120.05 131.80,119.71 131.79,119.36 131.78,119.01 131.78,118.66 131.77,118.32 131.77,117.97 131.76,117.62 131.75,117.28 131.75,116.93 131.74,116.58 131.74,116.24 131.74,115.89 131.73,115.54 131.73,115.19 131.72,114.85 131.72,114.50 131.72,114.15 131.71,113.81 131.71,113.46 131.71,113.11 131.71,112.77 131.70,112.42 131.70,112.07 131.70,111.72 131.70,111.38 131.70,111.03 131.70,110.68 131.70,110.50 131.70,110.34 131.71,109.99 131.72,109.64 131.73,109.30 131.75,108.95 131.77,108.60 131.79,108.25 131.82,107.91 131.84,107.56 131.84,107.50 131.87,107.21 131.90,106.87 131.95,106.52 132.00,106.17 132.06,105.83 132.11,105.48 132.17,105.13 132.23,104.78 132.28,104.44 132.33,104.09 132.38,103.74 132.41,103.45 132.41,103.40 132.44,103.05 132.47,102.70 132.49,102.36 132.51,102.01 132.53,101.66 132.55,101.31 132.57,100.97 132.58,100.62 132.60,100.27 132.62,99.93 132.63,99.58 132.65,99.23 132.67,98.89 132.69,98.54 132.71,98.19 132.74,97.84 132.76,97.50 132.80,97.15 132.83,96.80 132.87,96.46 132.88,96.40 132.95,96.11 133.07,95.76 133.14,95.42 133.14,95.40 133.14,95.07 133.15,94.72 133.15,94.38 133.15,94.03 133.16,93.68 133.16,93.33 133.16,92.99 133.16,92.64 133.17,92.29 133.17,91.95 133.17,91.60 133.17,91.25 133.17,90.91 133.17,90.56 133.17,90.21 133.18,89.86 133.18,89.52 133.18,89.17 133.18,88.82 133.18,88.48 133.18,88.13 133.18,87.78 133.18,87.44 133.18,87.09 133.18,86.74 133.18,86.39 133.18,86.05 133.18,85.70 Z" fill="#000" stroke="none"/>
<path d="M133.50,85.70 133.50,86.05 133.50,86.39 133.50,86.74 133.50,87.09 133.50,87.44 133.50,87.78 133.50,88.13 133.50,88.48 133.50,88.82 133.50,89.17 133.50,89.52 133.50,89.86 133.50,90.21 133.50,90.56 133.50,90.91 133.50,91.25 133.50,91.60 133.50,91.95 133.50,92.29 133.50,92.64 133.50,92.99 133.50,93.33 133.50,93.68 133.50,94.03 133.50,94.38 133.50,94.72 133.50,95.07 133.50,95.40 133.50,95.42 133.50,95.76 133.50,96.11 133.50,96.40 133.50,96.46 133.50,96.80 133.50,97.15 133.50,97.50 133.50,97.84 133.50,98.19 133.50,98.54 133.50,98.89 133.50,99.23 133.50,99.58 133.50,99.93 133.50,100.27 133.50,100.62 133.50,100.97 133.50,101.31 133.50,101.66 133.50,102.01 133.50,102.36 133.50,102.70 133.50,103.05 133.50,103.40 133.50,103.45 133.50,103.74 133.50,104.09 133.50,104.44 133.52,104.78 133.58,105.13 133.64,105.48 133.69,105.83 133.75,106.17 133.80,106.52 133.85,106.87 133.88,107.21 133.91,107.50 133.91,107.56 133.93,107.91 133.96,108.25 133.98,108.60 134.00,108.95 134.02,109.30 134.03,109.64 134.04,109.99 134.05,110.34 134.05,110.50 134.05,110.68 134.05,111.03 134.05,111.38 134.05,111.72 134.05,112.07 134.05,112.42 134.04,112.77 134.04,113.11 134.04,113.46 134.04,113.81 134.03,114.15 134.03,114.50 134.03,114.85 134.02,115.19 134.02,115.54 134.01,115.89 134.01,116.24 134.01,116.58 134.00,116.93 134.00,117.28 133.99,117.62 133.98,117.97 133.98,118.32 133.97,118.66 133.97,119.01 133.96,119.36 133.95,119.71 133.95,120.05 133.94,120.40 133.93,120.75 133.93,121.09 133.92,121.44 133.91,121.79 133.90,122.13 133.90,122.48 133.89,122.83 133.88,123.18 133.87,123.52 133.86,123.87 133.86,124.22 133.85,124.50 133.85,124.56 133.84,124.91 133.83,125.26 133.81,125.60 133.80,125.95 133.78,126.30 133.77,126.65 133.75,126.99 133.73,127.34 133.72,127.50 133.71,127.69 133.69,128.03 133.67,128.38 133.64,128.73 133.62,129.07 133.59,129.42 133.56,129.77 133.53,130.12 133.50,130.46 133.50,130.81 133.50,131.16 133.50,131.50 133.50,131.85 133.50,132.20 133.50,132.54 133.50,132.89 133.50,133.24 133.50,133.59 133.50,133.60 133.50,133.93 133.50,134.28 133.50,134.63 133.50,134.97 133.50,135.32 133.50,135.67 133.50,136.01 133.50,136.36 133.50,136.71 133.50,137.06 133.50,137.40 133.50,137.75 133.50,138.10 133.50,138.44 133.50,138.79 133.50,139.14 133.50,139.48 133.50,139.83 133.50,140.18 133.50,140.53 133.50,140.87 133.50,141.22 133.50,141.57 133.50,141.91 133.50,142.26 133.50,142.61 133.50,142.70 133.50,142.95 133.50,143.30 133.50,143.65 133.50,143.70 133.50,144.00 133.50,144.34 133.50,144.69 133.50,145.04 133.50,145.38 133.50,145.73 133.50,146.08 133.50,146.43 133.50,146.77 133.50,147.12 133.50,147.47 133.50,147.81 133.50,148.16 133.50,148.51 133.50,148.85 133.50,149.20 133.50,149.55 133.50,149.89 133.50,150.24 133.50,150.59 133.50,150.94 133.50,151.28 133.50,151.63 133.50,151.98 133.50,152.32 133.50,152.67 133.50,153.02 133.50,153.37 133.50,153.71 133.50,154.06 133.50,154.41 133.50,154.75 133.50,155.10 L133.50,155.10 133.50,154.75 133.50,154.41 133.50,154.06 133.50,153.71 133.50,153.37 133.50,153.02 133.50,152.67 133.50,152.32 133.50,151.98 133.50,151.63 133.50,151.28 133.50,150.94 133.50,150.59 133.50,150.24 133.50,149.89 133.50,149.55 133.50,149.20 133.50,148.85 133.50,148.51 133.50,148.16 133.50,147.81 133.50,147.47 133.50,147.12 133.50,146.77 133.50,146.43 133.50,146.08 133.50,145.73 133.50,145.38 133.50,145.04 133.50,144.69 133.50,144.34 133.50,144.00 133.50,143.70 133.50,143.65 133.50,143.30 133.50,142.95 133.50,142.70 133.50,142.61 133.50,142.26 133.50,141.91 133.50,141.57 133.50,141.22 133.50,140.87 133.50,140.53 133.50,140.18 133.50,139.83 133.50,139.48 133.50,139.14 133.50,138.79 133.50,138.44 133.50,138.10 133.50,137.75 133.50,137.40 133.50,137.06 133.50,136.71 133.50,136.36 133.50,136.01 133.50,135.67 133.50,135.32 133.50,134.97 133.50,134.63 133.50,134.28 133.50,133.93 133.50,133.60 133.50,133.59 133.50,133.24 133.50,132.89 133.50,132.54 133.50,132.20 133.50,131.85 133.50,131.50 133.50,131.16 133.50,130.81 133.50,130.46 133.47,130.12 133.44,129.77 133.41,129.42 133.38,129.07 133.36,128.73 133.33,128.38 133.31,128.03 133.29,127.69 133.28,127.50 133.27,127.34 133.25,126.99 133.23,126.65 133.22,126.30 133.20,125.95 133.19,125.60 133.17,125.26 133.16,124.91 133.15,124.56 133.15,124.50 133.14,124.22 133.14,123.87 133.13,123.52 133.12,123.18 133.11,122.83 133.10,122.48 133.10,122.13 133.09,121.79 133.08,121.44 133.07,121.09 133.07,120.75 133.06,120.40 133.05,120.05 133.05,119.71 133.04,119.36 133.03,119.01 133.03,118.66 133.02,118.32 133.02,117.97 133.01,117.62 133.00,117.28 133.00,116.93 132.99,116.58 132.99,116.24 132.99,115.89 132.98,115.54 132.98,115.19 132.97,114.85 132.97,114.50 132.97,114.15 132.96,113.81 132.96,113.46 132.96,113.11 132.96,112.77 132.95,112.42 132.95,112.07 132.95,111.72 132.95,111.38 132.95,111.03 132.95,110.68 132.95,110.50 132.95,110.34 132.96,109.99 132.97,109.64 132.98,109.30 133.00,108.95 133.02,108.60 133.04,108.25 133.07,107.91 133.09,107.56 133.09,107.50 133.12,107.21 133.15,106.87 133.20,106.52 133.25,106.17 133.31,105.83 133.36,105.48 133.42,105.13 133.48,104.78 133.50,104.44 133.50,104.09 133.50,103.74 133.50,103.45 133.50,103.40 133.50,103.05 133.50,102.70 133.50,102.36 133.50,102.01 133.50,101.66 133.50,101.31 133.50,100.97 133.50,100.62 133.50,100.27 133.50,99.93 133.50,99.58 133.50,99.23 133.50,98.89 133.50,98.54 133.50,98.19 133.50,97.84 133.50,97.50 133.50,97.15 133.50,96.80 133.50,96.46 133.50,96.40 133.50,96.11 133.50,95.76 133.50,95.42 133.50,95.40 133.50,95.07 133.50,94.72 133.50,94.38 133.50,94.03 133.50,93.68 133.50,93.33 133.50,92.99 133.50,92.64 133.50,92.29 133.50,91.95 133.50,91.60 133.50,91.25 133.50,90.91 133.50,90.56 133.50,90.21 133.50,89.86 133.50,89.52 133.50,89.17 133.50,88.82 133.50,88.48 133.50,88.13 133.50,87.78 133.50,87.44 133.50,87.09 133.50,86.74 133.50,86.39 133.50,86.05 133.50,85.70 Z" fill="#925E9F" stroke="none"/>
<rect x="131.00" y="110.50" width="5.00" height="14.00" fill="#fff" stroke="#000" stroke-width="1.0" />
<line x1="131.00" y1="113.60" x2="136.00" y2="113.60" stroke="#000" stroke-width="1.0" />
<path d="M157.02,80.20 157.02,80.56 157.02,80.92 157.02,81.29 157.02,81.65 157.02,82.01 157.02,82.37 157.02,82.73 157.02,83.10 157.02,83.46 157.02,83.82 157.02,84.18 157.02,84.54 157.03,84.91 157.03,85.27 157.03,85.63 157.03,85.99 157.03,86.35 157.03,86.72 157.03,87.08 157.04,87.44 157.04,87.80 157.04,88.16 157.04,88.53 157.05,88.89 157.05,89.25 157.05,89.61 157.05,89.97 157.06,90.34 157.06,90.50 157.08,90.70 157.20,91.06 157.31,91.42 157.32,91.50 157.35,91.78 157.39,92.15 157.42,92.51 157.45,92.87 157.47,93.23 157.50,93.59 157.52,93.96 157.54,94.32 157.56,94.68 157.57,95.04 157.59,95.40 157.60,95.77 157.61,96.13 157.63,96.49 157.64,96.85 157.66,97.21 157.67,97.58 157.69,97.94 157.71,98.30 157.73,98.66 157.75,99.02 157.78,99.39 157.79,99.60 157.80,99.75 157.84,100.11 157.87,100.47 157.92,100.83 157.96,101.20 158.01,101.56 158.05,101.92 158.10,102.28 158.15,102.64 158.19,103.01 158.23,103.37 158.27,103.73 158.31,104.09 158.34,104.45 158.36,104.70 158.36,104.82 158.39,105.18 158.41,105.54 158.43,105.90 158.46,106.26 158.47,106.63 158.49,106.99 158.50,107.35 158.50,107.70 158.50,107.71 158.50,108.07 158.50,108.44 158.50,108.80 158.50,109.16 158.50,109.52 158.49,109.88 158.49,110.25 158.49,110.61 158.49,110.97 158.48,111.33 158.48,111.69 158.48,112.06 158.47,112.42 158.47,112.78 158.46,113.14 158.46,113.50 158.45,113.87 158.45,114.23 158.44,114.59 158.44,114.95 158.43,115.31 158.42,115.68 158.42,116.04 158.41,116.40 158.41,116.76 158.40,117.12 158.39,117.49 158.38,117.85 158.38,118.21 158.37,118.57 158.36,118.93 158.35,119.30 158.35,119.66 158.34,120.02 158.33,120.38 158.32,120.74 158.31,121.11 158.30,121.47 158.30,121.60 158.29,121.83 158.28,122.19 158.27,122.55 158.25,122.92 158.24,123.28 158.22,123.64 158.20,124.00 158.18,124.36 158.17,124.60 158.17,124.73 158.15,125.09 158.12,125.45 158.10,125.81 158.08,126.17 158.05,126.54 158.02,126.90 158.00,127.26 157.97,127.62 157.94,127.98 157.91,128.35 157.88,128.71 157.86,129.07 157.83,129.43 157.80,129.79 157.78,130.16 157.76,130.52 157.74,130.88 157.72,131.24 157.71,131.30 157.70,131.60 157.68,131.97 157.67,132.33 157.65,132.69 157.64,133.05 157.63,133.41 157.62,133.78 157.61,134.14 157.60,134.50 157.59,134.86 157.58,135.22 157.57,135.59 157.56,135.95 157.55,136.31 157.54,136.67 157.53,137.03 157.52,137.40 157.51,137.76 157.50,138.12 157.48,138.48 157.46,138.84 157.45,139.21 157.42,139.57 157.40,139.93 157.38,140.29 157.35,140.65 157.32,141.00 157.32,141.02 157.22,141.38 157.10,141.74 157.06,142.00 157.06,142.10 157.06,142.46 157.05,142.83 157.05,143.19 157.05,143.55 157.04,143.91 157.04,144.27 157.04,144.64 157.04,145.00 157.03,145.36 157.03,145.72 157.03,146.08 157.03,146.45 157.03,146.81 157.03,147.17 157.03,147.53 157.02,147.89 157.02,148.26 157.02,148.62 157.02,148.98 157.02,149.34 157.02,149.70 157.02,150.07 157.02,150.43 157.02,150.79 157.02,151.15 157.02,151.51 157.02,151.88 157.02,152.24 157.02,152.60 L156.38,152.60 156.38,152.24 156.38,151.88 156.38,151.51 156.38,151.15 156.38,150.79 156.38,150.43 156.38,150.07 156.38,149.70 156.38,149.34 156.38,148.98 156.38,148.62 156.38,148.26 156.38,147.89 156.37,147.53 156.37,147.17 156.37,146.81 156.37,146.45 156.37,146.08 156.37,145.72 156.37,145.36 156.36,145.00 156.36,144.64 156.36,144.27 156.36,143.91 156.35,143.55 156.35,143.19 156.35,142.83 156.34,142.46 156.34,142.10 156.34,142.00 156.30,141.74 156.18,141.38 156.08,141.02 156.08,141.00 156.05,140.65 156.02,140.29 156.00,139.93 155.98,139.57 155.95,139.21 155.94,138.84 155.92,138.48 155.90,138.12 155.89,137.76 155.88,137.40 155.87,137.03 155.86,136.67 155.85,136.31 155.84,135.95 155.83,135.59 155.82,135.22 155.81,134.86 155.80,134.50 155.79,134.14 155.78,133.78 155.77,133.41 155.76,133.05 155.75,132.69 155.73,132.33 155.72,131.97 155.70,131.60 155.69,131.30 155.68,131.24 155.66,130.88 155.64,130.52 155.62,130.16 155.60,129.79 155.57,129.43 155.54,129.07 155.52,128.71 155.49,128.35 155.46,127.98 155.43,127.62 155.40,127.26 155.38,126.90 155.35,126.54 155.32,126.17 155.30,125.81 155.28,125.45 155.25,125.09 155.23,124.73 155.23,124.60 155.22,124.36 155.20,124.00 155.18,123.64 155.16,123.28 155.15,122.92 155.13,122.55 155.12,122.19 155.11,121.83 155.10,121.60 155.10,121.47 155.09,121.11 155.08,120.74 155.07,120.38 155.06,120.02 155.05,119.66 155.05,119.30 155.04,118.93 155.03,118.57 155.02,118.21 155.02,117.85 155.01,117.49 155.00,117.12 154.99,116.76 154.99,116.40 154.98,116.04 154.98,115.68 154.97,115.31 154.96,114.95 154.96,114.59 154.95,114.23 154.95,113.87 154.94,113.50 154.94,113.14 154.93,112.78 154.93,112.42 154.92,112.06 154.92,111.69 154.92,111.33 154.91,110.97 154.91,110.61 154.91,110.25 154.91,109.88 154.90,109.52 154.90,109.16 154.90,108.80 154.90,108.44 154.90,108.07 154.90,107.71 154.90,107.70 154.90,107.35 154.91,106.99 154.93,106.63 154.94,106.26 154.97,105.90 154.99,105.54 155.01,105.18 155.04,104.82 155.04,104.70 155.06,104.45 155.09,104.09 155.13,103.73 155.17,103.37 155.21,103.01 155.25,102.64 155.30,102.28 155.35,101.92 155.39,101.56 155.44,101.20 155.48,100.83 155.53,100.47 155.56,100.11 155.60,99.75 155.61,99.60 155.62,99.39 155.65,99.02 155.67,98.66 155.69,98.30 155.71,97.94 155.73,97.58 155.74,97.21 155.76,96.85 155.77,96.49 155.79,96.13 155.80,95.77 155.81,95.40 155.83,95.04 155.84,94.68 155.86,94.32 155.88,93.96 155.90,93.59 155.93,93.23 155.95,92.87 155.98,92.51 156.01,92.15 156.05,91.78 156.08,91.50 156.09,91.42 156.20,91.06 156.32,90.70 156.34,90.50 156.34,90.34 156.35,89.97 156.35,89.61 156.35,89.25 156.35,88.89 156.36,88.53 156.36,88.16 156.36,87.80 156.36,87.44 156.37,87.08 156.37,86.72 156.37,86.35 156.37,85.99 156.37,85.63 156.37,85.27 156.37,84.91 156.38,84.54 156.38,84.18 156.38,83.82 156.38,83.46 156.38,83.10 156.38,82.73 156.38,82.37 156.38,82.01 156.38,81.65 156.38,81.29 156.38,80.92 156.38,80.56 156.38,80.20 Z" fill="#000" stroke="none"/>
<path d="M156.70,80.20 156.70,80.56 156.70,80.92 156.70,81.29 156.70,81.65 156.70,82.01 156.70,82.37 156.70,82.73 156.70,83.10 156.70,83.46 156.70,83.82 156.70,84.18 156.70,84.54 156.70,84.91 156.70,85.27 156.70,85.63 156.70,85.99 156.70,86.35 156.70,86.72 156.70,87.08 156.70,87.44 156.70,87.80 156.70,88.16 156.70,88.53 156.70,88.89 156.70,89.25 156.70,89.61 156.70,89.97 156.70,90.34 156.70,90.50 156.70,90.70 156.70,91.06 156.70,91.42 156.70,91.50 156.70,91.78 156.70,92.15 156.70,92.51 156.70,92.87 156.70,93.23 156.70,93.59 156.70,93.96 156.70,94.32 156.70,94.68 156.70,95.04 156.70,95.40 156.70,95.77 156.70,96.13 156.70,96.49 156.70,96.85 156.70,97.21 156.70,97.58 156.70,97.94 156.70,98.30 156.70,98.66 156.70,99.02 156.70,99.39 156.70,99.60 156.70,99.75 156.70,100.11 156.70,100.47 156.70,100.83 156.71,101.20 156.76,101.56 156.80,101.92 156.85,102.28 156.90,102.64 156.94,103.01 156.98,103.37 157.02,103.73 157.06,104.09 157.09,104.45 157.11,104.70 157.11,104.82 157.14,105.18 157.16,105.54 157.18,105.90 157.21,106.26 157.22,106.63 157.24,106.99 157.25,107.35 157.25,107.70 157.25,107.71 157.25,108.07 157.25,108.44 157.25,108.80 157.25,109.16 157.25,109.52 157.24,109.88 157.24,110.25 157.24,110.61 157.24,110.97 157.23,111.33 157.23,111.69 157.23,112.06 157.22,112.42 157.22,112.78 157.21,113.14 157.21,113.50 157.20,113.87 157.20,114.23 157.19,114.59 157.19,114.95 157.18,115.31 157.17,115.68 157.17,116.04 157.16,116.40 157.16,116.76 157.15,117.12 157.14,117.49 157.13,117.85 157.13,118.21 157.12,118.57 157.11,118.93 157.10,119.30 157.10,119.66 157.09,120.02 157.08,120.38 157.07,120.74 157.06,121.11 157.05,121.47 157.05,121.60 157.04,121.83 157.03,122.19 157.02,122.55 157.00,122.92 156.99,123.28 156.97,123.64 156.95,124.00 156.93,124.36 156.92,124.60 156.92,124.73 156.90,125.09 156.87,125.45 156.85,125.81 156.83,126.17 156.80,126.54 156.77,126.90 156.75,127.26 156.72,127.62 156.70,127.98 156.70,128.35 156.70,128.71 156.70,129.07 156.70,129.43 156.70,129.79 156.70,130.16 156.70,130.52 156.70,130.88 156.70,131.24 156.70,131.30 156.70,131.60 156.70,131.97 156.70,132.33 156.70,132.69 156.70,133.05 156.70,133.41 156.70,133.78 156.70,134.14 156.70,134.50 156.70,134.86 156.70,135.22 156.70,135.59 156.70,135.95 156.70,136.31 156.70,136.67 156.70,137.03 156.70,137.40 156.70,137.76 156.70,138.12 156.70,138.48 156.70,138.84 156.70,139.21 156.70,139.57 156.70,139.93 156.70,140.29 156.70,140.65 156.70,141.00 156.70,141.02 156.70,141.38 156.70,141.74 156.70,142.00 156.70,142.10 156.70,142.46 156.70,142.83 156.70,143.19 156.70,143.55 156.70,143.91 156.70,144.27 156.70,144.64 156.70,145.00 156.70,145.36 156.70,145.72 156.70,146.08 156.70,146.45 156.70,146.81 156.70,147.17 156.70,147.53 156.70,147.89 156.70,148.26 156.70,148.62 156.70,148.98 156.70,149.34 156.70,149.70 156.70,150.07 156.70,150.43 156.70,150.79 156.70,151.15 156.70,151.51 156.70,151.88 156.70,152.24 156.70,152.60 L156.70,152.60 156.70,152.24 156.70,151.88 156.70,151.51 156.70,151.15 156.70,150.79 156.70,150.43 156.70,150.07 156.70,149.70 156.70,149.34 156.70,148.98 156.70,148.62 156.70,148.26 156.70,147.89 156.70,147.53 156.70,147.17 156.70,146.81 156.70,146.45 156.70,146.08 156.70,145.72 156.70,145.36 156.70,145.00 156.70,144.64 156.70,144.27 156.70,143.91 156.70,143.55 156.70,143.19 156.70,142.83 156.70,142.46 156.70,142.10 156.70,142.00 156.70,141.74 156.70,141.38 156.70,141.02 156.70,141.00 156.70,140.65 156.70,140.29 156.70,139.93 156.70,139.57 156.70,139.21 156.70,138.84 156.70,138.48 156.70,138.12 156.70,137.76 156.70,137.40 156.70,137.03 156.70,136.67 156.70,136.31 156.70,135.95 156.70,135.59 156.70,135.22 156.70,134.86 156.70,134.50 156.70,134.14 156.70,133.78 156.70,133.41 156.70,133.05 156.70,132.69 156.70,132.33 156.70,131.97 156.70,131.60 156.70,131.30 156.70,131.24 156.70,130.88 156.70,130.52 156.70,130.16 156.70,129.79 156.70,129.43 156.70,129.07 156.70,128.71 156.70,128.35 156.70,127.98 156.68,127.62 156.65,127.26 156.63,126.90 156.60,126.54 156.57,126.17 156.55,125.81 156.53,125.45 156.50,125.09 156.48,124.73 156.48,124.60 156.47,124.36 156.45,124.00 156.43,123.64 156.41,123.28 156.40,122.92 156.38,122.55 156.37,122.19 156.36,121.83 156.35,121.60 156.35,121.47 156.34,121.11 156.33,120.74 156.32,120.38 156.31,120.02 156.30,119.66 156.30,119.30 156.29,118.93 156.28,118.57 156.27,118.21 156.27,117.85 156.26,117.49 156.25,117.12 156.24,116.76 156.24,116.40 156.23,116.04 156.23,115.68 156.22,115.31 156.21,114.95 156.21,114.59 156.20,114.23 156.20,113.87 156.19,113.50 156.19,113.14 156.18,112.78 156.18,112.42 156.17,112.06 156.17,111.69 156.17,111.33 156.16,110.97 156.16,110.61 156.16,110.25 156.16,109.88 156.15,109.52 156.15,109.16 156.15,108.80 156.15,108.44 156.15,108.07 156.15,107.71 156.15,107.70 156.15,107.35 156.16,106.99 156.18,106.63 156.19,106.26 156.22,105.90 156.24,105.54 156.26,105.18 156.29,104.82 156.29,104.70 156.31,104.45 156.34,104.09 156.38,103.73 156.42,103.37 156.46,103.01 156.50,102.64 156.55,102.28 156.60,101.92 156.64,101.56 156.69,101.20 156.70,100.83 156.70,100.47 156.70,100.11 156.70,99.75 156.70,99.60 156.70,99.39 156.70,99.02 156.70,98.66 156.70,98.30 156.70,97.94 156.70,97.58 156.70,97.21 156.70,96.85 156.70,96.49 156.70,96.13 156.70,95.77 156.70,95.40 156.70,95.04 156.70,94.68 156.70,94.32 156.70,93.96 156.70,93.59 156.70,93.23 156.70,92.87 156.70,92.51 156.70,92.15 156.70,91.78 156.70,91.50 156.70,91.42 156.70,91.06 156.70,90.70 156.70,90.50 156.70,90.34 156.70,89.97 156.70,89.61 156.70,89.25 156.70,88.89 156.70,88.53 156.70,88.16 156.70,87.80 156.70,87.44 156.70,87.08 156.70,86.72 156.70,86.35 156.70,85.99 156.70,85.63 156.70,85.27 156.70,84.91 156.70,84.54 156.70,84.18 156.70,83.82 156.70,83.46 156.70,83.10 156.70,82.73 156.70,82.37 156.70,82.01 156.70,81.65 156.70,81.29 156.70,80.92 156.70,80.56 156.70,80.20 Z" fill="#FDAF91" stroke="none"/>
<rect x="154.20" y="107.70" width="5.00" height="13.90" fill="#fff" stroke="#000" stroke-width="1.0" />
<line x1="154.20" y1="113.10" x2="159.20" y2="113.10" stroke="#000" stroke-width="1.0" />
<path d="M180.32,76.40 180.32,76.82 180.32,77.24 180.32,77.66 180.32,78.08 180.32,78.50 180.32,78.92 180.32,79.34 180.32,79.76 180.32,80.18 180.32,80.60 180.32,81.02 180.33,81.44 180.33,81.86 180.33,82.28 180.33,82.70 180.33,83.12 180.33,83.54 180.34,83.96 180.34,84.38 180.34,84.80 180.34,85.22 180.35,85.64 180.35,86.06 180.35,86.48 180.36,86.90 180.36,87.00 180.42,87.32 180.56,87.74 180.62,88.00 180.63,88.16 180.67,88.58 180.70,89.00 180.72,89.42 180.75,89.84 180.77,90.26 180.79,90.68 180.81,91.10 180.83,91.52 180.84,91.94 180.86,92.36 180.87,92.78 180.88,93.20 180.89,93.62 180.90,94.04 180.91,94.46 180.92,94.88 180.93,95.30 180.94,95.72 180.95,96.14 180.96,96.56 180.97,96.98 180.99,97.40 181.00,97.82 181.01,98.24 181.03,98.66 181.04,99.08 181.06,99.50 181.07,99.70 181.08,99.92 181.10,100.34 181.13,100.76 181.15,101.18 181.18,101.60 181.20,102.02 181.23,102.44 181.26,102.86 181.28,103.28 181.31,103.70 181.34,104.12 181.37,104.54 181.40,104.96 181.43,105.38 181.45,105.80 181.48,106.22 181.51,106.64 181.53,107.06 181.56,107.48 181.58,107.90 181.61,108.32 181.61,108.40 181.63,108.74 181.65,109.16 181.68,109.58 181.71,110.00 181.73,110.42 181.74,110.84 181.75,111.26 181.75,111.40 181.75,111.68 181.75,112.10 181.75,112.52 181.75,112.94 181.74,113.36 181.74,113.78 181.74,114.20 181.73,114.62 181.73,115.04 181.73,115.46 181.72,115.88 181.71,116.30 181.71,116.72 181.70,117.14 181.70,117.56 181.69,117.98 181.68,118.40 181.67,118.82 181.67,119.24 181.66,119.66 181.65,120.08 181.64,120.50 181.63,120.92 181.62,121.34 181.61,121.76 181.60,122.18 181.59,122.60 181.58,123.02 181.57,123.44 181.56,123.86 181.55,124.28 181.54,124.70 181.53,125.12 181.52,125.54 181.51,125.96 181.50,126.30 181.50,126.38 181.49,126.80 181.47,127.22 181.45,127.64 181.44,128.06 181.42,128.48 181.40,128.90 181.38,129.30 181.38,129.32 181.36,129.74 181.33,130.16 181.31,130.58 181.28,131.00 181.25,131.42 181.22,131.84 181.19,132.26 181.16,132.68 181.13,133.10 181.10,133.52 181.07,133.94 181.05,134.36 181.02,134.78 181.00,135.20 180.97,135.62 180.97,135.65 180.95,136.04 180.94,136.46 180.92,136.88 180.91,137.30 180.90,137.72 180.89,138.14 180.88,138.56 180.87,138.98 180.86,139.40 180.85,139.82 180.84,140.24 180.83,140.66 180.82,141.08 180.80,141.50 180.79,141.92 180.78,142.34 180.76,142.76 180.74,143.18 180.72,143.60 180.69,144.02 180.66,144.44 180.63,144.86 180.62,145.00 180.56,145.28 180.41,145.70 180.36,146.00 180.36,146.12 180.36,146.54 180.35,146.96 180.35,147.38 180.35,147.80 180.35,148.22 180.34,148.64 180.34,149.06 180.34,149.48 180.34,149.90 180.34,150.32 180.33,150.74 180.33,151.16 180.33,151.58 180.33,152.00 180.33,152.42 180.33,152.84 180.33,153.26 180.33,153.68 180.32,154.10 180.32,154.52 180.32,154.94 180.32,155.36 180.32,155.78 180.32,156.20 180.32,156.62 180.32,157.04 180.32,157.46 180.32,157.88 180.32,158.30 180.32,158.72 180.32,159.14 180.32,159.56 180.32,159.98 180.32,160.40 L179.68,160.40 179.68,159.98 179.68,159.56 179.68,159.14 179.68,158.72 179.68,158.30 179.68,157.88 179.68,157.46 179.68,157.04 179.68,156.62 179.68,156.20 179.68,155.78 179.68,155.36 179.68,154.94 179.68,154.52 179.68,154.10 179.67,153.68 179.67,153.26 179.67,152.84 179.67,152.42 179.67,152.00 179.67,151.58 179.67,151.16 179.67,150.74 179.66,150.32 179.66,149.90 179.66,149.48 179.66,149.06 179.66,148.64 179.65,148.22 179.65,147.80 179.65,147.38 179.65,146.96 179.64,146.54 179.64,146.12 179.64,146.00 179.59,145.70 179.44,145.28 179.38,145.00 179.37,144.86 179.34,144.44 179.31,144.02 179.28,143.60 179.26,143.18 179.24,142.76 179.22,142.34 179.21,141.92 179.20,141.50 179.18,141.08 179.17,140.66 179.16,140.24 179.15,139.82 179.14,139.40 179.13,138.98 179.12,138.56 179.11,138.14 179.10,137.72 179.09,137.30 179.08,136.88 179.06,136.46 179.05,136.04 179.03,135.65 179.03,135.62 179.00,135.20 178.98,134.78 178.95,134.36 178.93,133.94 178.90,133.52 178.87,133.10 178.84,132.68 178.81,132.26 178.78,131.84 178.75,131.42 178.72,131.00 178.69,130.58 178.67,130.16 178.64,129.74 178.62,129.32 178.62,129.30 178.60,128.90 178.58,128.48 178.56,128.06 178.55,127.64 178.53,127.22 178.51,126.80 178.50,126.38 178.50,126.30 178.49,125.96 178.48,125.54 178.47,125.12 178.46,124.70 178.45,124.28 178.44,123.86 178.43,123.44 178.42,123.02 178.41,122.60 178.40,122.18 178.39,121.76 178.38,121.34 178.37,120.92 178.36,120.50 178.35,120.08 178.34,119.66 178.33,119.24 178.33,118.82 178.32,118.40 178.31,117.98 178.30,117.56 178.30,117.14 178.29,116.72 178.29,116.30 178.28,115.88 178.27,115.46 178.27,115.04 178.27,114.62 178.26,114.20 178.26,113.78 178.26,113.36 178.25,112.94 178.25,112.52 178.25,112.10 178.25,111.68 178.25,111.40 178.25,111.26 178.26,110.84 178.27,110.42 178.29,110.00 178.32,109.58 178.35,109.16 178.37,108.74 178.39,108.40 178.39,108.32 178.42,107.90 178.44,107.48 178.47,107.06 178.49,106.64 178.52,106.22 178.55,105.80 178.57,105.38 178.60,104.96 178.63,104.54 178.66,104.12 178.69,103.70 178.72,103.28 178.74,102.86 178.77,102.44 178.80,102.02 178.82,101.60 178.85,101.18 178.87,100.76 178.90,100.34 178.92,99.92 178.93,99.70 178.94,99.50 178.96,99.08 178.97,98.66 178.99,98.24 179.00,97.82 179.01,97.40 179.03,96.98 179.04,96.56 179.05,96.14 179.06,95.72 179.07,95.30 179.08,94.88 179.09,94.46 179.10,94.04 179.11,93.62 179.12,93.20 179.13,92.78 179.14,92.36 179.16,91.94 179.17,91.52 179.19,91.10 179.21,90.68 179.23,90.26 179.25,89.84 179.28,89.42 179.30,89.00 179.33,88.58 179.37,88.16 179.38,88.00 179.44,87.74 179.58,87.32 179.64,87.00 179.64,86.90 179.65,86.48 179.65,86.06 179.65,85.64 179.66,85.22 179.66,84.80 179.66,84.38 179.66,83.96 179.67,83.54 179.67,83.12 179.67,82.70 179.67,82.28 179.67,81.86 179.67,81.44 179.68,81.02 179.68,80.60 179.68,80.18 179.68,79.76 179.68,79.34 179.68,78.92 179.68,78.50 179.68,78.08 179.68,77.66 179.68,77.24 179.68,76.82 179.68,76.40 Z" fill="#000" stroke="none"/>
<path d="M180.00,76.40 180.00,76.82 180.00,77.24 180.00,77.66 180.00,78.08 180.00,78.50 180.00,78.92 180.00,79.34 180.00,79.76 180.00,80.18 180.00,80.60 180.00,81.02 180.00,81.44 180.00,81.86 180.00,82.28 180.00,82.70 180.00,83.12 180.00,83.54 180.00,83.96 180.00,84.38 180.00,84.80 180.00,85.22 180.00,85.64 180.00,86.06 180.00,86.48 180.00,86.90 180.00,87.00 180.00,87.32 180.00,87.74 180.00,88.00 180.00,88.16 180.00,88.58 180.00,89.00 180.00,89.42 180.00,89.84 180.00,90.26 180.00,90.68 180.00,91.10 180.00,91.52 180.00,91.94 180.00,92.36 180.00,92.78 180.00,93.20 180.00,93.62 180.00,94.04 180.00,94.46 180.00,94.88 180.00,95.30 180.00,95.72 180.00,96.14 180.00,96.56 180.00,96.98 180.00,97.40 180.00,97.82 180.00,98.24 180.00,98.66 180.00,99.08 180.00,99.50 180.00,99.70 180.00,99.92 180.00,100.34 180.00,100.76 180.00,101.18 180.00,101.60 180.00,102.02 180.00,102.44 180.01,102.86 180.03,103.28 180.06,103.70 180.09,104.12 180.12,104.54 180.15,104.96 180.18,105.38 180.20,105.80 180.23,106.22 180.26,106.64 180.28,107.06 180.31,107.48 180.33,107.90 180.36,108.32 180.36,108.40 180.38,108.74 180.40,109.16 180.43,109.58 180.46,110.00 180.48,110.42 180.49,110.84 180.50,111.26 180.50,111.40 180.50,111.68 180.50,112.10 180.50,112.52 180.50,112.94 180.49,113.36 180.49,113.78 180.49,114.20 180.48,114.62 180.48,115.04 180.48,115.46 180.47,115.88 180.46,116.30 180.46,116.72 180.45,117.14 180.45,117.56 180.44,117.98 180.43,118.40 180.42,118.82 180.42,119.24 180.41,119.66 180.40,120.08 180.39,120.50 180.38,120.92 180.37,121.34 180.36,121.76 180.35,122.18 180.34,122.60 180.33,123.02 180.32,123.44 180.31,123.86 180.30,124.28 180.29,124.70 180.28,125.12 180.27,125.54 180.26,125.96 180.25,126.30 180.25,126.38 180.24,126.80 180.22,127.22 180.20,127.64 180.19,128.06 180.17,128.48 180.15,128.90 180.13,129.30 180.13,129.32 180.11,129.74 180.08,130.16 180.06,130.58 180.03,131.00 180.00,131.42 180.00,131.84 180.00,132.26 180.00,132.68 180.00,133.10 180.00,133.52 180.00,133.94 180.00,134.36 180.00,134.78 180.00,135.20 180.00,135.62 180.00,135.65 180.00,136.04 180.00,136.46 180.00,136.88 180.00,137.30 180.00,137.72 180.00,138.14 180.00,138.56 180.00,138.98 180.00,139.40 180.00,139.82 180.00,140.24 180.00,140.66 180.00,141.08 180.00,141.50 180.00,141.92 180.00,142.34 180.00,142.76 180.00,143.18 180.00,143.60 180.00,144.02 180.00,144.44 180.00,144.86 180.00,145.00 180.00,145.28 180.00,145.70 180.00,146.00 180.00,146.12 180.00,146.54 180.00,146.96 180.00,147.38 180.00,147.80 180.00,148.22 180.00,148.64 180.00,149.06 180.00,149.48 180.00,149.90 180.00,150.32 180.00,150.74 180.00,151.16 180.00,151.58 180.00,152.00 180.00,152.42 180.00,152.84 180.00,153.26 180.00,153.68 180.00,154.10 180.00,154.52 180.00,154.94 180.00,155.36 180.00,155.78 180.00,156.20 180.00,156.62 180.00,157.04 180.00,157.46 180.00,157.88 180.00,158.30 180.00,158.72 180.00,159.14 180.00,159.56 180.00,159.98 180.00,160.40 L180.00,160.40 180.00,159.98 180.00,159.56 180.00,159.14 180.00,158.72 180.00,158.30 180.00,157.88 180.00,157.46 180.00,157.04 180.00,156.62 180.00,156.20 180.00,155.78 180.00,155.36 180.00,154.94 180.00,154.52 180.00,154.10 180.00,153.68 180.00,153.26 180.00,152.84 180.00,152.42 180.00,152.00 180.00,151.58 180.00,151.16 180.00,150.74 180.00,150.32 180.00,149.90 180.00,149.48 180.00,149.06 180.00,148.64 180.00,148.22 180.00,147.80 180.00,147.38 180.00,146.96 180.00,146.54 180.00,146.12 180.00,146.00 180.00,145.70 180.00,145.28 180.00,145.00 180.00,144.86 180.00,144.44 180.00,144.02 180.00,143.60 180.00,143.18 180.00,142.76 180.00,142.34 180.00,141.92 180.00,141.50 180.00,141.08 180.00,140.66 180.00,140.24 180.00,139.82 180.00,139.40 180.00,138.98 180.00,138.56 180.00,138.14 180.00,137.72 180.00,137.30 180.00,136.88 180.00,136.46 180.00,136.04 180.00,135.65 180.00,135.62 180.00,135.20 180.00,134.78 180.00,134.36 180.00,133.94 180.00,133.52 180.00,133.10 180.00,132.68 180.00,132.26 180.00,131.84 180.00,131.42 179.97,131.00 179.94,130.58 179.92,130.16 179.89,129.74 179.87,129.32 179.87,129.30 179.85,128.90 179.83,128.48 179.81,128.06 179.80,127.64 179.78,127.22 179.76,126.80 179.75,126.38 179.75,126.30 179.74,125.96 179.73,125.54 179.72,125.12 179.71,124.70 179.70,124.28 179.69,123.86 179.68,123.44 179.67,123.02 179.66,122.60 179.65,122.18 179.64,121.76 179.63,121.34 179.62,120.92 179.61,120.50 179.60,120.08 179.59,119.66 179.58,119.24 179.58,118.82 179.57,118.40 179.56,117.98 179.55,117.56 179.55,117.14 179.54,116.72 179.54,116.30 179.53,115.88 179.52,115.46 179.52,115.04 179.52,114.62 179.51,114.20 179.51,113.78 179.51,113.36 179.50,112.94 179.50,112.52 179.50,112.10 179.50,111.68 179.50,111.40 179.50,111.26 179.51,110.84 179.52,110.42 179.54,110.00 179.57,109.58 179.60,109.16 179.62,108.74 179.64,108.40 179.64,108.32 179.67,107.90 179.69,107.48 179.72,107.06 179.74,106.64 179.77,106.22 179.80,105.80 179.82,105.38 179.85,104.96 179.88,104.54 179.91,104.12 179.94,103.70 179.97,103.28 179.99,102.86 180.00,102.44 180.00,102.02 180.00,101.60 180.00,101.18 180.00,100.76 180.00,100.34 180.00,99.92 180.00,99.70 180.00,99.50 180.00,99.08 180.00,98.66 180.00,98.24 180.00,97.82 180.00,97.40 180.00,96.98 180.00,96.56 180.00,96.14 180.00,95.72 180.00,95.30 180.00,94.88 180.00,94.46 180.00,94.04 180.00,93.62 180.00,93.20 180.00,92.78 180.00,92.36 180.00,91.94 180.00,91.52 180.00,91.10 180.00,90.68 180.00,90.26 180.00,89.84 180.00,89.42 180.00,89.00 180.00,88.58 180.00,88.16 180.00,88.00 180.00,87.74 180.00,87.32 180.00,87.00 180.00,86.90 180.00,86.48 180.00,86.06 180.00,85.64 180.00,85.22 180.00,84.80 180.00,84.38 180.00,83.96 180.00,83.54 180.00,83.12 180.00,82.70 180.00,82.28 180.00,81.86 180.00,81.44 180.00,81.02 180.00,80.60 180.00,80.18 180.00,79.76 180.00,79.34 180.00,78.92 180.00,78.50 180.00,78.08 180.00,77.66 180.00,77.24 180.00,76.82 180.00,76.40 Z" fill="#AD002A" stroke="none"/>
<rect x="177.50" y="111.40" width="5.00" height="14.90" fill="#fff" stroke="#000" stroke-width="1.0" />
<line x1="177.50" y1="116.40" x2="182.50" y2="116.40" stroke="#000" stroke-width="1.0" />
<path d="M203.72,59.90 203.72,60.50 203.72,61.10 203.72,61.70 203.72,62.30 203.72,62.89 203.72,63.49 203.72,64.09 203.72,64.69 203.72,65.29 203.72,65.89 203.72,66.49 203.72,67.09 203.72,67.69 203.73,68.29 203.73,68.88 203.73,69.48 203.73,70.08 203.73,70.68 203.73,71.28 203.73,71.88 203.74,72.48 203.74,73.08 203.74,73.68 203.74,74.28 203.75,74.88 203.75,75.47 203.75,76.07 203.76,76.67 203.76,77.00 203.81,77.27 204.00,77.87 204.02,78.00 204.04,78.47 204.07,79.07 204.09,79.67 204.12,80.27 204.14,80.86 204.15,81.46 204.17,82.06 204.18,82.66 204.19,83.26 204.20,83.86 204.21,84.46 204.22,85.06 204.23,85.66 204.24,86.26 204.24,86.85 204.25,87.45 204.25,88.05 204.26,88.65 204.27,89.25 204.28,89.85 204.28,90.45 204.29,91.05 204.30,91.65 204.32,92.25 204.33,92.84 204.33,92.90 204.35,93.44 204.36,94.04 204.38,94.64 204.39,95.24 204.41,95.84 204.43,96.44 204.44,97.04 204.46,97.64 204.48,98.24 204.50,98.83 204.51,99.43 204.53,100.03 204.55,100.63 204.57,101.23 204.59,101.83 204.61,102.43 204.63,103.03 204.65,103.63 204.67,104.23 204.69,104.80 204.69,104.82 204.71,105.42 204.74,106.02 204.77,106.62 204.79,107.22 204.80,107.80 204.80,107.82 204.80,108.42 204.80,109.02 204.80,109.62 204.80,110.22 204.80,110.81 204.80,111.41 204.80,112.01 204.80,112.61 204.80,113.21 204.79,113.81 204.79,114.41 204.79,115.01 204.79,115.61 204.79,116.21 204.79,116.80 204.78,117.40 204.78,118.00 204.78,118.60 204.78,119.20 204.77,119.80 204.77,120.40 204.77,121.00 204.77,121.60 204.76,122.20 204.76,122.79 204.76,123.39 204.75,123.99 204.75,124.59 204.74,125.19 204.74,125.79 204.73,126.39 204.73,126.99 204.73,127.59 204.72,128.19 204.72,128.78 204.71,129.38 204.70,129.98 204.70,130.40 204.70,130.58 204.68,131.18 204.66,131.78 204.63,132.38 204.61,132.98 204.60,133.40 204.59,133.58 204.57,134.18 204.56,134.77 204.54,135.37 204.52,135.97 204.51,136.57 204.49,137.17 204.47,137.77 204.46,138.37 204.44,138.97 204.43,139.57 204.42,140.17 204.40,140.76 204.39,141.36 204.37,141.96 204.36,142.56 204.35,143.16 204.33,143.76 204.32,144.36 204.31,144.96 204.29,145.56 204.29,145.70 204.28,146.16 204.27,146.75 204.26,147.35 204.25,147.95 204.25,148.55 204.24,149.15 204.23,149.75 204.23,150.35 204.22,150.95 204.22,151.55 204.21,152.15 204.21,152.74 204.20,153.34 204.20,153.94 204.19,154.54 204.18,155.14 204.17,155.74 204.16,156.34 204.15,156.94 204.14,157.54 204.12,158.14 204.10,158.73 204.08,159.33 204.06,159.93 204.04,160.53 204.02,161.00 204.00,161.13 203.81,161.73 203.76,162.00 203.76,162.33 203.75,162.93 203.75,163.53 203.75,164.13 203.75,164.72 203.74,165.32 203.74,165.92 203.74,166.52 203.74,167.12 203.73,167.72 203.73,168.32 203.73,168.92 203.73,169.52 203.73,170.12 203.73,170.71 203.73,171.31 203.72,171.91 203.72,172.51 203.72,173.11 203.72,173.71 203.72,174.31 203.72,174.91 203.72,175.51 203.72,176.11 203.72,176.70 203.72,177.30 203.72,177.90 203.72,178.50 203.72,179.10 203.72,179.70 L203.08,179.70 203.08,179.10 203.08,178.50 203.08,177.90 203.08,177.30 203.08,176.70 203.08,176.11 203.08,175.51 203.08,174.91 203.08,174.31 203.08,173.71 203.08,173.11 203.08,172.51 203.08,171.91 203.07,171.31 203.07,170.71 203.07,170.12 203.07,169.52 203.07,168.92 203.07,168.32 203.07,167.72 203.06,167.12 203.06,166.52 203.06,165.92 203.06,165.32 203.05,164.72 203.05,164.13 203.05,163.53 203.05,162.93 203.04,162.33 203.04,162.00 202.99,161.73 202.80,161.13 202.78,161.00 202.76,160.53 202.74,159.93 202.72,159.33 202.70,158.73 202.68,158.14 202.66,157.54 202.65,156.94 202.64,156.34 202.63,155.74 202.62,155.14 202.61,154.54 202.60,153.94 202.60,153.34 202.59,152.74 202.59,152.15 202.58,151.55 202.58,150.95 202.57,150.35 202.57,149.75 202.56,149.15 202.55,148.55 202.55,147.95 202.54,147.35 202.53,146.75 202.52,146.16 202.51,145.70 202.51,145.56 202.49,144.96 202.48,144.36 202.47,143.76 202.45,143.16 202.44,142.56 202.43,141.96 202.41,141.36 202.40,140.76 202.38,140.17 202.37,139.57 202.36,138.97 202.34,138.37 202.33,137.77 202.31,137.17 202.29,136.57 202.28,135.97 202.26,135.37 202.24,134.77 202.23,134.18 202.21,133.58 202.20,133.40 202.19,132.98 202.17,132.38 202.14,131.78 202.12,131.18 202.10,130.58 202.10,130.40 202.10,129.98 202.09,129.38 202.08,128.78 202.08,128.19 202.07,127.59 202.07,126.99 202.07,126.39 202.06,125.79 202.06,125.19 202.05,124.59 202.05,123.99 202.04,123.39 202.04,122.79 202.04,122.20 202.03,121.60 202.03,121.00 202.03,120.40 202.03,119.80 202.02,119.20 202.02,118.60 202.02,118.00 202.02,117.40 202.01,116.80 202.01,116.21 202.01,115.61 202.01,115.01 202.01,114.41 202.01,113.81 202.00,113.21 202.00,112.61 202.00,112.01 202.00,111.41 202.00,110.81 202.00,110.22 202.00,109.62 202.00,109.02 202.00,108.42 202.00,107.82 202.00,107.80 202.01,107.22 202.03,106.62 202.06,106.02 202.09,105.42 202.11,104.82 202.11,104.80 202.13,104.23 202.15,103.63 202.17,103.03 202.19,102.43 202.21,101.83 202.23,101.23 202.25,100.63 202.27,100.03 202.29,99.43 202.30,98.83 202.32,98.24 202.34,97.64 202.36,97.04 202.37,96.44 202.39,95.84 202.41,95.24 202.42,94.64 202.44,94.04 202.45,93.44 202.47,92.90 202.47,92.84 202.48,92.25 202.50,91.65 202.51,91.05 202.52,90.45 202.52,89.85 202.53,89.25 202.54,88.65 202.55,88.05 202.55,87.45 202.56,86.85 202.56,86.26 202.57,85.66 202.58,85.06 202.59,84.46 202.60,83.86 202.61,83.26 202.62,82.66 202.63,82.06 202.65,81.46 202.66,80.86 202.68,80.27 202.71,79.67 202.73,79.07 202.76,78.47 202.78,78.00 202.80,77.87 202.99,77.27 203.04,77.00 203.04,76.67 203.05,76.07 203.05,75.47 203.05,74.88 203.06,74.28 203.06,73.68 203.06,73.08 203.06,72.48 203.07,71.88 203.07,71.28 203.07,70.68 203.07,70.08 203.07,69.48 203.07,68.88 203.07,68.29 203.08,67.69 203.08,67.09 203.08,66.49 203.08,65.89 203.08,65.29 203.08,64.69 203.08,64.09 203.08,63.49 203.08,62.89 203.08,62.30 203.08,61.70 203.08,61.10 203.08,60.50 203.08,59.90 Z" fill="#000" stroke="none"/>
<path d="M203.40,59.90 203.40,60.50 203.40,61.10 203.40,61.70 203.40,62.30 203.40,62.89 203.40,63.49 203.40,64.09 203.40,64.69 203.40,65.29 203.40,65.89 203.40,66.49 203.40,67.09 203.40,67.69 203.40,68.29 203.40,68.88 203.40,69.48 203.40,70.08 203.40,70.68 203.40,71.28 203.40,71.88 203.40,72.48 203.40,73.08 203.40,73.68 203.40,74.28 203.40,74.88 203.40,75.47 203.40,76.07 203.40,76.67 203.40,77.00 203.40,77.27 203.40,77.87 203.40,78.00 203.40,78.47 203.40,79.07 203.40,79.67 203.40,80.27 203.40,80.86 203.40,81.46 203.40,82.06 203.40,82.66 203.40,83.26 203.40,83.86 203.40,84.46 203.40,85.06 203.40,85.66 203.40,86.26 203.40,86.85 203.40,87.45 203.40,88.05 203.40,88.65 203.40,89.25 203.40,89.85 203.40,90.45 203.40,91.05 203.40,91.65 203.40,92.25 203.40,92.84 203.40,92.90 203.40,93.44 203.40,94.04 203.40,94.64 203.40,95.24 203.40,95.84 203.40,96.44 203.40,97.04 203.40,97.64 203.40,98.24 203.40,98.83 203.40,99.43 203.40,100.03 203.40,100.63 203.40,101.23 203.40,101.83 203.40,102.43 203.40,103.03 203.40,103.63 203.42,104.23 203.44,104.80 203.44,104.82 203.46,105.42 203.49,106.02 203.52,106.62 203.54,107.22 203.55,107.80 203.55,107.82 203.55,108.42 203.55,109.02 203.55,109.62 203.55,110.22 203.55,110.81 203.55,111.41 203.55,112.01 203.55,112.61 203.55,113.21 203.54,113.81 203.54,114.41 203.54,115.01 203.54,115.61 203.54,116.21 203.54,116.80 203.53,117.40 203.53,118.00 203.53,118.60 203.53,119.20 203.52,119.80 203.52,120.40 203.52,121.00 203.52,121.60 203.51,122.20 203.51,122.79 203.51,123.39 203.50,123.99 203.50,124.59 203.49,125.19 203.49,125.79 203.48,126.39 203.48,126.99 203.48,127.59 203.47,128.19 203.47,128.78 203.46,129.38 203.45,129.98 203.45,130.40 203.45,130.58 203.43,131.18 203.41,131.78 203.40,132.38 203.40,132.98 203.40,133.40 203.40,133.58 203.40,134.18 203.40,134.77 203.40,135.37 203.40,135.97 203.40,136.57 203.40,137.17 203.40,137.77 203.40,138.37 203.40,138.97 203.40,139.57 203.40,140.17 203.40,140.76 203.40,141.36 203.40,141.96 203.40,142.56 203.40,143.16 203.40,143.76 203.40,144.36 203.40,144.96 203.40,145.56 203.40,145.70 203.40,146.16 203.40,146.75 203.40,147.35 203.40,147.95 203.40,148.55 203.40,149.15 203.40,149.75 203.40,150.35 203.40,150.95 203.40,151.55 203.40,152.15 203.40,152.74 203.40,153.34 203.40,153.94 203.40,154.54 203.40,155.14 203.40,155.74 203.40,156.34 203.40,156.94 203.40,157.54 203.40,158.14 203.40,158.73 203.40,159.33 203.40,159.93 203.40,160.53 203.40,161.00 203.40,161.13 203.40,161.73 203.40,162.00 203.40,162.33 203.40,162.93 203.40,163.53 203.40,164.13 203.40,164.72 203.40,165.32 203.40,165.92 203.40,166.52 203.40,167.12 203.40,167.72 203.40,168.32 203.40,168.92 203.40,169.52 203.40,170.12 203.40,170.71 203.40,171.31 203.40,171.91 203.40,172.51 203.40,173.11 203.40,173.71 203.40,174.31 203.40,174.91 203.40,175.51 203.40,176.11 203.40,176.70 203.40,177.30 203.40,177.90 203.40,178.50 203.40,179.10 203.40,179.70 L203.40,179.70 203.40,179.10 203.40,178.50 203.40,177.90 203.40,177.30 203.40,176.70 203.40,176.11 203.40,175.51 203.40,174.91 203.40,174.31 203.40,173.71 203.40,173.11 203.40,172.51 203.40,171.91 203.40,171.31 203.40,170.71 203.40,170.12 203.40,169.52 203.40,168.92 203.40,168.32 203.40,167.72 203.40,167.12 203.40,166.52 203.40,165.92 203.40,165.32 203.40,164.72 203.40,164.13 203.40,163.53 203.40,162.93 203.40,162.33 203.40,162.00 203.40,161.73 203.40,161.13 203.40,161.00 203.40,160.53 203.40,159.93 203.40,159.33 203.40,158.73 203.40,158.14 203.40,157.54 203.40,156.94 203.40,156.34 203.40,155.74 203.40,155.14 203.40,154.54 203.40,153.94 203.40,153.34 203.40,152.74 203.40,152.15 203.40,151.55 203.40,150.95 203.40,150.35 203.40,149.75 203.40,149.15 203.40,148.55 203.40,147.95 203.40,147.35 203.40,146.75 203.40,146.16 203.40,145.70 203.40,145.56 203.40,144.96 203.40,144.36 203.40,143.76 203.40,143.16 203.40,142.56 203.40,141.96 203.40,141.36 203.40,140.76 203.40,140.17 203.40,139.57 203.40,138.97 203.40,138.37 203.40,137.77 203.40,137.17 203.40,136.57 203.40,135.97 203.40,135.37 203.40,134.77 203.40,134.18 203.40,133.58 203.40,133.40 203.40,132.98 203.40,132.38 203.39,131.78 203.37,131.18 203.35,130.58 203.35,130.40 203.35,129.98 203.34,129.38 203.33,128.78 203.33,128.19 203.32,127.59 203.32,126.99 203.32,126.39 203.31,125.79 203.31,125.19 203.30,124.59 203.30,123.99 203.29,123.39 203.29,122.79 203.29,122.20 203.28,121.60 203.28,121.00 203.28,120.40 203.28,119.80 203.27,119.20 203.27,118.60 203.27,118.00 203.27,117.40 203.26,116.80 203.26,116.21 203.26,115.61 203.26,115.01 203.26,114.41 203.26,113.81 203.25,113.21 203.25,112.61 203.25,112.01 203.25,111.41 203.25,110.81 203.25,110.22 203.25,109.62 203.25,109.02 203.25,108.42 203.25,107.82 203.25,107.80 203.26,107.22 203.28,106.62 203.31,106.02 203.34,105.42 203.36,104.82 203.36,104.80 203.38,104.23 203.40,103.63 203.40,103.03 203.40,102.43 203.40,101.83 203.40,101.23 203.40,100.63 203.40,100.03 203.40,99.43 203.40,98.83 203.40,98.24 203.40,97.64 203.40,97.04 203.40,96.44 203.40,95.84 203.40,95.24 203.40,94.64 203.40,94.04 203.40,93.44 203.40,92.90 203.40,92.84 203.40,92.25 203.40,91.65 203.40,91.05 203.40,90.45 203.40,89.85 203.40,89.25 203.40,88.65 203.40,88.05 203.40,87.45 203.40,86.85 203.40,86.26 203.40,85.66 203.40,85.06 203.40,84.46 203.40,83.86 203.40,83.26 203.40,82.66 203.40,82.06 203.40,81.46 203.40,80.86 203.40,80.27 203.40,79.67 203.40,79.07 203.40,78.47 203.40,78.00 203.40,77.87 203.40,77.27 203.40,77.00 203.40,76.67 203.40,76.07 203.40,75.47 203.40,74.88 203.40,74.28 203.40,73.68 203.40,73.08 203.40,72.48 203.40,71.88 203.40,71.28 203.40,70.68 203.40,70.08 203.40,69.48 203.40,68.88 203.40,68.29 203.40,67.69 203.40,67.09 203.40,66.49 203.40,65.89 203.40,65.29 203.40,64.69 203.40,64.09 203.40,63.49 203.40,62.89 203.40,62.30 203.40,61.70 203.40,61.10 203.40,60.50 203.40,59.90 Z" fill="#ADB6B6" stroke="none"/>
<rect x="200.90" y="107.80" width="5.00" height="22.60" fill="#fff" stroke="#000" stroke-width="1.0" />
<line x1="200.90" y1="118.00" x2="205.90" y2="118.00" stroke="#000" stroke-width="1.0" />
<path d="M110.40,114.10 111.60,115.20 113.60,116.00 117.60,117.30 121.95,118.50 118.10,119.50 114.60,120.80 113.30,122.00 112.10,123.50 110.40,125.60 L109.80,125.60 108.10,123.50 106.90,122.00 105.60,120.80 102.10,119.50 98.25,118.50 102.60,117.30 106.60,116.00 108.60,115.20 109.80,114.10 Z" fill="#0099B4" stroke="#1a1a1a" stroke-width="0.85" stroke-linejoin="round"/>
<line x1="110.10" y1="116.00" x2="110.10" y2="123.50" stroke="#000" stroke-width="1.0" />
<rect x="107.50" y="118.20" width="5.20" height="2.80" fill="#111" stroke="#000" stroke-width="0.7" />
<line x1="26.50" y1="41.60" x2="26.50" y2="202.80" stroke="#666" stroke-width="1.0" />
<line x1="26.00" y1="202.30" x2="217.20" y2="202.30" stroke="#666" stroke-width="1.0" />
<line x1="40.00" y1="202.30" x2="40.00" y2="204.60" stroke="#333" stroke-width="0.9" />
<line x1="63.34" y1="202.30" x2="63.34" y2="204.60" stroke="#333" stroke-width="0.9" />
<line x1="86.68" y1="202.30" x2="86.68" y2="204.60" stroke="#333" stroke-width="0.9" />
<line x1="110.02" y1="202.30" x2="110.02" y2="204.60" stroke="#333" stroke-width="0.9" />
<line x1="133.36" y1="202.30" x2="133.36" y2="204.60" stroke="#333" stroke-width="0.9" />
<line x1="156.70" y1="202.30" x2="156.70" y2="204.60" stroke="#333" stroke-width="0.9" />
<line x1="180.04" y1="202.30" x2="180.04" y2="204.60" stroke="#333" stroke-width="0.9" />
<line x1="203.38" y1="202.30" x2="203.38" y2="204.60" stroke="#333" stroke-width="0.9" />
<line x1="24.20" y1="75.40" x2="26.50" y2="75.40" stroke="#333" stroke-width="0.9" />
<text x="21.50" y="78.00" font-size="7.8" fill="#4d4d4d" text-anchor="end" >25</text>
<line x1="24.20" y1="118.40" x2="26.50" y2="118.40" stroke="#333" stroke-width="0.9" />
<text x="21.50" y="121.00" font-size="7.8" fill="#4d4d4d" text-anchor="end" >0</text>
<line x1="24.20" y1="161.80" x2="26.50" y2="161.80" stroke="#333" stroke-width="0.9" />
<text x="21.50" y="164.40" font-size="7.8" fill="#4d4d4d" text-anchor="end" >-25</text>
<text transform="translate(38.80,206.20) rotate(-45)" x="0" y="5.47" font-size="7.6" fill="#4d4d4d" text-anchor="end">L1_ILL_P</text>
<text transform="translate(62.14,206.20) rotate(-45)" x="0" y="5.47" font-size="7.6" fill="#4d4d4d" text-anchor="end">L1_ILL_R</text>
<text transform="translate(85.48,206.20) rotate(-45)" x="0" y="5.47" font-size="7.6" fill="#4d4d4d" text-anchor="end">L2_DNB_P</text>
<text transform="translate(108.82,206.20) rotate(-45)" x="0" y="5.47" font-size="7.6" fill="#4d4d4d" text-anchor="end">L2_DNB_R</text>
<text transform="translate(132.16,206.20) rotate(-45)" x="0" y="5.47" font-size="7.6" fill="#4d4d4d" text-anchor="end">L3_ILL_P</text>
<text transform="translate(155.50,206.20) rotate(-45)" x="0" y="5.47" font-size="7.6" fill="#4d4d4d" text-anchor="end">L3_ILL_R</text>
<text transform="translate(178.84,206.20) rotate(-45)" x="0" y="5.47" font-size="7.6" fill="#4d4d4d" text-anchor="end">L3_DNB_P</text>
<text transform="translate(202.18,206.20) rotate(-45)" x="0" y="5.47" font-size="7.6" fill="#4d4d4d" text-anchor="end">L3_DNB_R</text>
<text x="351.95" y="21.50" font-size="9" fill="#000" text-anchor="middle" >Measurement error</text>
<rect x="257.60" y="28.30" width="188.70" height="12.70" fill="#d9d9d9" stroke="#7a7a7a" stroke-width="0.9" />
<line x1="257.60" y1="41.00" x2="446.30" y2="41.00" stroke="#555" stroke-width="1.3" />
<text x="351.95" y="37.20" font-size="6.6" fill="#1a1a1a" text-anchor="middle" >Mix2</text>
<line x1="446.30" y1="41.00" x2="446.30" y2="199.30" stroke="#8a8a8a" stroke-width="0.9" />
<line x1="257.60" y1="109.40" x2="446.30" y2="109.40" stroke="#5a5a5a" stroke-width="0.9" stroke-dasharray="2.8,2.4"/>
<line x1="257.60" y1="129.50" x2="446.30" y2="129.50" stroke="#5a5a5a" stroke-width="0.9" stroke-dasharray="2.8,2.4"/>
<line x1="257.60" y1="119.60" x2="446.30" y2="119.60" stroke="#2fbd6c" stroke-width="1.6" />
<path d="M271.52,54.10 271.52,54.76 271.52,55.42 271.52,56.08 271.52,56.74 271.52,57.41 271.52,58.07 271.52,58.73 271.52,59.39 271.52,60.05 271.52,60.71 271.52,61.37 271.52,62.03 271.52,62.69 271.52,63.35 271.53,64.02 271.53,64.68 271.53,65.34 271.53,66.00 271.53,66.66 271.53,67.32 271.53,67.98 271.53,68.64 271.54,69.30 271.54,69.96 271.54,70.62 271.54,71.29 271.55,71.95 271.55,72.61 271.55,73.27 271.55,73.93 271.56,74.59 271.56,75.00 271.60,75.25 271.81,75.91 271.82,76.00 271.85,76.57 271.88,77.24 271.91,77.90 271.94,78.56 271.96,79.22 271.98,79.88 271.99,80.54 272.01,81.20 272.02,81.86 272.03,82.52 272.04,83.18 272.05,83.84 272.06,84.51 272.06,85.17 272.07,85.83 272.08,86.49 272.09,87.15 272.10,87.81 272.11,88.47 272.13,89.13 272.14,89.79 272.15,90.05 272.16,90.46 272.18,91.12 272.20,91.78 272.22,92.44 272.25,93.10 272.27,93.76 272.29,94.42 272.31,95.08 272.34,95.74 272.36,96.40 272.38,97.07 272.41,97.73 272.43,98.39 272.46,99.05 272.48,99.71 272.51,100.37 272.53,101.03 272.53,101.10 272.56,101.69 272.59,102.35 272.62,103.01 272.64,103.68 272.65,104.10 272.65,104.34 272.65,105.00 272.66,105.66 272.66,106.32 272.66,106.98 272.67,107.64 272.67,108.30 272.67,108.96 272.67,109.62 272.67,110.29 272.68,110.95 272.68,111.61 272.68,112.27 272.68,112.93 272.68,113.59 272.69,114.25 272.69,114.91 272.69,115.57 272.69,116.23 272.69,116.90 272.69,117.56 272.69,118.22 272.69,118.88 272.69,119.54 272.70,120.20 272.70,120.86 272.70,121.52 272.70,122.18 272.70,122.84 272.70,123.51 272.70,124.17 272.70,124.83 272.70,125.49 272.70,126.15 272.70,126.81 272.70,127.47 272.70,128.13 272.70,128.79 272.70,129.45 272.70,129.50 272.69,130.12 272.66,130.78 272.63,131.44 272.60,132.10 272.58,132.50 272.57,132.76 272.55,133.42 272.53,134.08 272.51,134.74 272.49,135.40 272.47,136.06 272.45,136.73 272.43,137.39 272.41,138.05 272.39,138.71 272.37,139.37 272.36,140.03 272.34,140.69 272.32,141.35 272.31,142.01 272.29,142.67 272.27,143.34 272.26,144.00 272.24,144.66 272.23,145.32 272.21,145.98 272.20,146.64 272.18,147.30 272.17,147.75 272.17,147.96 272.15,148.62 272.14,149.28 272.13,149.95 272.12,150.61 272.11,151.27 272.10,151.93 272.10,152.59 272.09,153.25 272.08,153.91 272.08,154.57 272.07,155.23 272.07,155.89 272.06,156.56 272.05,157.22 272.04,157.88 272.03,158.54 272.02,159.20 272.01,159.86 272.00,160.52 271.99,161.18 271.97,161.84 271.95,162.50 271.93,163.17 271.91,163.83 271.89,164.49 271.86,165.15 271.83,165.81 271.82,166.00 271.70,166.47 271.56,167.00 271.56,167.13 271.56,167.79 271.55,168.45 271.55,169.11 271.55,169.78 271.54,170.44 271.54,171.10 271.54,171.76 271.54,172.42 271.53,173.08 271.53,173.74 271.53,174.40 271.53,175.06 271.53,175.72 271.53,176.39 271.53,177.05 271.52,177.71 271.52,178.37 271.52,179.03 271.52,179.69 271.52,180.35 271.52,181.01 271.52,181.67 271.52,182.33 271.52,183.00 271.52,183.66 271.52,184.32 271.52,184.98 271.52,185.64 271.52,186.30 L270.88,186.30 270.88,185.64 270.88,184.98 270.88,184.32 270.88,183.66 270.88,183.00 270.88,182.33 270.88,181.67 270.88,181.01 270.88,180.35 270.88,179.69 270.88,179.03 270.88,178.37 270.88,177.71 270.87,177.05 270.87,176.39 270.87,175.72 270.87,175.06 270.87,174.40 270.87,173.74 270.87,173.08 270.86,172.42 270.86,171.76 270.86,171.10 270.86,170.44 270.85,169.78 270.85,169.11 270.85,168.45 270.84,167.79 270.84,167.13 270.84,167.00 270.70,166.47 270.58,166.00 270.57,165.81 270.54,165.15 270.51,164.49 270.49,163.83 270.47,163.17 270.45,162.50 270.43,161.84 270.41,161.18 270.40,160.52 270.39,159.86 270.38,159.20 270.37,158.54 270.36,157.88 270.35,157.22 270.34,156.56 270.33,155.89 270.33,155.23 270.32,154.57 270.32,153.91 270.31,153.25 270.30,152.59 270.30,151.93 270.29,151.27 270.28,150.61 270.27,149.95 270.26,149.28 270.25,148.62 270.23,147.96 270.23,147.75 270.22,147.30 270.20,146.64 270.19,145.98 270.17,145.32 270.16,144.66 270.14,144.00 270.13,143.34 270.11,142.67 270.09,142.01 270.08,141.35 270.06,140.69 270.04,140.03 270.03,139.37 270.01,138.71 269.99,138.05 269.97,137.39 269.95,136.73 269.93,136.06 269.91,135.40 269.89,134.74 269.87,134.08 269.85,133.42 269.83,132.76 269.82,132.50 269.80,132.10 269.77,131.44 269.74,130.78 269.71,130.12 269.70,129.50 269.70,129.45 269.70,128.79 269.70,128.13 269.70,127.47 269.70,126.81 269.70,126.15 269.70,125.49 269.70,124.83 269.70,124.17 269.70,123.51 269.70,122.84 269.70,122.18 269.70,121.52 269.70,120.86 269.70,120.20 269.71,119.54 269.71,118.88 269.71,118.22 269.71,117.56 269.71,116.90 269.71,116.23 269.71,115.57 269.71,114.91 269.71,114.25 269.72,113.59 269.72,112.93 269.72,112.27 269.72,111.61 269.72,110.95 269.73,110.29 269.73,109.62 269.73,108.96 269.73,108.30 269.73,107.64 269.74,106.98 269.74,106.32 269.74,105.66 269.75,105.00 269.75,104.34 269.75,104.10 269.76,103.68 269.78,103.01 269.81,102.35 269.84,101.69 269.87,101.10 269.87,101.03 269.89,100.37 269.92,99.71 269.94,99.05 269.97,98.39 269.99,97.73 270.02,97.07 270.04,96.40 270.06,95.74 270.09,95.08 270.11,94.42 270.13,93.76 270.15,93.10 270.18,92.44 270.20,91.78 270.22,91.12 270.24,90.46 270.25,90.05 270.26,89.79 270.27,89.13 270.29,88.47 270.30,87.81 270.31,87.15 270.32,86.49 270.33,85.83 270.34,85.17 270.34,84.51 270.35,83.84 270.36,83.18 270.37,82.52 270.38,81.86 270.39,81.20 270.41,80.54 270.42,79.88 270.44,79.22 270.46,78.56 270.49,77.90 270.52,77.24 270.55,76.57 270.58,76.00 270.59,75.91 270.80,75.25 270.84,75.00 270.84,74.59 270.85,73.93 270.85,73.27 270.85,72.61 270.85,71.95 270.86,71.29 270.86,70.62 270.86,69.96 270.86,69.30 270.87,68.64 270.87,67.98 270.87,67.32 270.87,66.66 270.87,66.00 270.87,65.34 270.87,64.68 270.87,64.02 270.88,63.35 270.88,62.69 270.88,62.03 270.88,61.37 270.88,60.71 270.88,60.05 270.88,59.39 270.88,58.73 270.88,58.07 270.88,57.41 270.88,56.74 270.88,56.08 270.88,55.42 270.88,54.76 270.88,54.10 Z" fill="#000" stroke="none"/>
<path d="M271.20,54.10 271.20,54.76 271.20,55.42 271.20,56.08 271.20,56.74 271.20,57.41 271.20,58.07 271.20,58.73 271.20,59.39 271.20,60.05 271.20,60.71 271.20,61.37 271.20,62.03 271.20,62.69 271.20,63.35 271.20,64.02 271.20,64.68 271.20,65.34 271.20,66.00 271.20,66.66 271.20,67.32 271.20,67.98 271.20,68.64 271.20,69.30 271.20,69.96 271.20,70.62 271.20,71.29 271.20,71.95 271.20,72.61 271.20,73.27 271.20,73.93 271.20,74.59 271.20,75.00 271.20,75.25 271.20,75.91 271.20,76.00 271.20,76.57 271.20,77.24 271.20,77.90 271.20,78.56 271.20,79.22 271.20,79.88 271.20,80.54 271.20,81.20 271.20,81.86 271.20,82.52 271.20,83.18 271.20,83.84 271.20,84.51 271.20,85.17 271.20,85.83 271.20,86.49 271.20,87.15 271.20,87.81 271.20,88.47 271.20,89.13 271.20,89.79 271.20,90.05 271.20,90.46 271.20,91.12 271.20,91.78 271.20,92.44 271.20,93.10 271.20,93.76 271.20,94.42 271.20,95.08 271.20,95.74 271.20,96.40 271.20,97.07 271.20,97.73 271.20,98.39 271.21,99.05 271.23,99.71 271.26,100.37 271.28,101.03 271.28,101.10 271.31,101.69 271.34,102.35 271.37,103.01 271.39,103.68 271.40,104.10 271.40,104.34 271.40,105.00 271.41,105.66 271.41,106.32 271.41,106.98 271.42,107.64 271.42,108.30 271.42,108.96 271.42,109.62 271.42,110.29 271.43,110.95 271.43,111.61 271.43,112.27 271.43,112.93 271.43,113.59 271.44,114.25 271.44,114.91 271.44,115.57 271.44,116.23 271.44,116.90 271.44,117.56 271.44,118.22 271.44,118.88 271.44,119.54 271.45,120.20 271.45,120.86 271.45,121.52 271.45,122.18 271.45,122.84 271.45,123.51 271.45,124.17 271.45,124.83 271.45,125.49 271.45,126.15 271.45,126.81 271.45,127.47 271.45,128.13 271.45,128.79 271.45,129.45 271.45,129.50 271.44,130.12 271.41,130.78 271.38,131.44 271.35,132.10 271.33,132.50 271.32,132.76 271.30,133.42 271.28,134.08 271.26,134.74 271.24,135.40 271.22,136.06 271.20,136.73 271.20,137.39 271.20,138.05 271.20,138.71 271.20,139.37 271.20,140.03 271.20,140.69 271.20,141.35 271.20,142.01 271.20,142.67 271.20,143.34 271.20,144.00 271.20,144.66 271.20,145.32 271.20,145.98 271.20,146.64 271.20,147.30 271.20,147.75 271.20,147.96 271.20,148.62 271.20,149.28 271.20,149.95 271.20,150.61 271.20,151.27 271.20,151.93 271.20,152.59 271.20,153.25 271.20,153.91 271.20,154.57 271.20,155.23 271.20,155.89 271.20,156.56 271.20,157.22 271.20,157.88 271.20,158.54 271.20,159.20 271.20,159.86 271.20,160.52 271.20,161.18 271.20,161.84 271.20,162.50 271.20,163.17 271.20,163.83 271.20,164.49 271.20,165.15 271.20,165.81 271.20,166.00 271.20,166.47 271.20,167.00 271.20,167.13 271.20,167.79 271.20,168.45 271.20,169.11 271.20,169.78 271.20,170.44 271.20,171.10 271.20,171.76 271.20,172.42 271.20,173.08 271.20,173.74 271.20,174.40 271.20,175.06 271.20,175.72 271.20,176.39 271.20,177.05 271.20,177.71 271.20,178.37 271.20,179.03 271.20,179.69 271.20,180.35 271.20,181.01 271.20,181.67 271.20,182.33 271.20,183.00 271.20,183.66 271.20,184.32 271.20,184.98 271.20,185.64 271.20,186.30 L271.20,186.30 271.20,185.64 271.20,184.98 271.20,184.32 271.20,183.66 271.20,183.00 271.20,182.33 271.20,181.67 271.20,181.01 271.20,180.35 271.20,179.69 271.20,179.03 271.20,178.37 271.20,177.71 271.20,177.05 271.20,176.39 271.20,175.72 271.20,175.06 271.20,174.40 271.20,173.74 271.20,173.08 271.20,172.42 271.20,171.76 271.20,171.10 271.20,170.44 271.20,169.78 271.20,169.11 271.20,168.45 271.20,167.79 271.20,167.13 271.20,167.00 271.20,166.47 271.20,166.00 271.20,165.81 271.20,165.15 271.20,164.49 271.20,163.83 271.20,163.17 271.20,162.50 271.20,161.84 271.20,161.18 271.20,160.52 271.20,159.86 271.20,159.20 271.20,158.54 271.20,157.88 271.20,157.22 271.20,156.56 271.20,155.89 271.20,155.23 271.20,154.57 271.20,153.91 271.20,153.25 271.20,152.59 271.20,151.93 271.20,151.27 271.20,150.61 271.20,149.95 271.20,149.28 271.20,148.62 271.20,147.96 271.20,147.75 271.20,147.30 271.20,146.64 271.20,145.98 271.20,145.32 271.20,144.66 271.20,144.00 271.20,143.34 271.20,142.67 271.20,142.01 271.20,141.35 271.20,140.69 271.20,140.03 271.20,139.37 271.20,138.71 271.20,138.05 271.20,137.39 271.20,136.73 271.18,136.06 271.16,135.40 271.14,134.74 271.12,134.08 271.10,133.42 271.08,132.76 271.07,132.50 271.05,132.10 271.02,131.44 270.99,130.78 270.96,130.12 270.95,129.50 270.95,129.45 270.95,128.79 270.95,128.13 270.95,127.47 270.95,126.81 270.95,126.15 270.95,125.49 270.95,124.83 270.95,124.17 270.95,123.51 270.95,122.84 270.95,122.18 270.95,121.52 270.95,120.86 270.95,120.20 270.96,119.54 270.96,118.88 270.96,118.22 270.96,117.56 270.96,116.90 270.96,116.23 270.96,115.57 270.96,114.91 270.96,114.25 270.97,113.59 270.97,112.93 270.97,112.27 270.97,111.61 270.97,110.95 270.98,110.29 270.98,109.62 270.98,108.96 270.98,108.30 270.98,107.64 270.99,106.98 270.99,106.32 270.99,105.66 271.00,105.00 271.00,104.34 271.00,104.10 271.01,103.68 271.03,103.01 271.06,102.35 271.09,101.69 271.12,101.10 271.12,101.03 271.14,100.37 271.17,99.71 271.19,99.05 271.20,98.39 271.20,97.73 271.20,97.07 271.20,96.40 271.20,95.74 271.20,95.08 271.20,94.42 271.20,93.76 271.20,93.10 271.20,92.44 271.20,91.78 271.20,91.12 271.20,90.46 271.20,90.05 271.20,89.79 271.20,89.13 271.20,88.47 271.20,87.81 271.20,87.15 271.20,86.49 271.20,85.83 271.20,85.17 271.20,84.51 271.20,83.84 271.20,83.18 271.20,82.52 271.20,81.86 271.20,81.20 271.20,80.54 271.20,79.88 271.20,79.22 271.20,78.56 271.20,77.90 271.20,77.24 271.20,76.57 271.20,76.00 271.20,75.91 271.20,75.25 271.20,75.00 271.20,74.59 271.20,73.93 271.20,73.27 271.20,72.61 271.20,71.95 271.20,71.29 271.20,70.62 271.20,69.96 271.20,69.30 271.20,68.64 271.20,67.98 271.20,67.32 271.20,66.66 271.20,66.00 271.20,65.34 271.20,64.68 271.20,64.02 271.20,63.35 271.20,62.69 271.20,62.03 271.20,61.37 271.20,60.71 271.20,60.05 271.20,59.39 271.20,58.73 271.20,58.07 271.20,57.41 271.20,56.74 271.20,56.08 271.20,55.42 271.20,54.76 271.20,54.10 Z" fill="#00468B" stroke="none"/>
<rect x="268.70" y="104.10" width="5.00" height="25.40" fill="#fff" stroke="#000" stroke-width="1.0" />
<line x1="268.70" y1="117.70" x2="273.70" y2="117.70" stroke="#000" stroke-width="1.0" />
<path d="M294.00,86.40 294.00,86.71 294.00,87.02 294.00,87.33 294.01,87.64 294.01,87.95 294.01,88.25 294.02,88.56 294.03,88.87 294.03,89.18 294.04,89.49 294.05,89.80 294.06,90.11 294.07,90.42 294.08,90.73 294.09,91.04 294.10,91.34 294.11,91.65 294.13,91.96 294.14,92.27 294.15,92.58 294.17,92.89 294.18,93.20 294.20,93.51 294.22,93.82 294.23,94.12 294.25,94.43 294.27,94.74 294.29,95.05 294.31,95.36 294.33,95.67 294.35,95.98 294.37,96.29 294.39,96.60 294.40,96.70 294.42,96.91 294.45,97.22 294.49,97.52 294.54,97.83 294.59,98.14 294.65,98.45 294.72,98.76 294.79,99.07 294.86,99.38 294.94,99.69 295.02,100.00 295.10,100.31 295.18,100.61 295.26,100.92 295.34,101.23 295.41,101.54 295.49,101.85 295.50,101.90 295.56,102.16 295.65,102.47 295.74,102.78 295.84,103.09 295.94,103.39 296.04,103.70 296.15,104.01 296.26,104.32 296.36,104.63 296.46,104.94 296.56,105.25 296.65,105.56 296.74,105.87 296.81,106.18 296.88,106.48 296.93,106.79 296.97,107.10 296.99,107.41 297.00,107.70 297.00,107.72 296.99,108.03 296.98,108.34 296.96,108.65 296.93,108.96 296.90,109.27 296.87,109.58 296.84,109.88 296.82,110.19 296.80,110.50 296.80,110.50 296.79,110.81 296.77,111.12 296.76,111.43 296.75,111.74 296.74,112.05 296.73,112.36 296.72,112.66 296.71,112.97 296.70,113.28 296.69,113.59 296.68,113.90 296.67,114.21 296.66,114.52 296.65,114.83 296.64,115.14 296.63,115.45 296.61,115.75 296.60,116.00 296.60,116.06 296.58,116.37 296.56,116.68 296.54,116.99 296.52,117.30 296.50,117.61 296.48,117.92 296.45,118.23 296.43,118.54 296.40,118.84 296.37,119.15 296.34,119.46 296.31,119.77 296.27,120.08 296.24,120.39 296.20,120.70 296.16,121.01 296.11,121.32 296.10,121.40 296.06,121.63 295.99,121.94 295.91,122.24 295.82,122.55 295.72,122.86 295.62,123.17 295.53,123.48 295.45,123.79 295.40,124.00 295.38,124.10 295.32,124.41 295.25,124.72 295.19,125.03 295.14,125.33 295.08,125.64 295.02,125.95 294.97,126.26 294.92,126.57 294.88,126.88 294.84,127.19 294.80,127.50 294.77,127.81 294.75,128.00 294.74,128.12 294.71,128.42 294.69,128.73 294.66,129.04 294.64,129.35 294.62,129.66 294.60,129.97 294.58,130.28 294.56,130.59 294.54,130.90 294.52,131.20 294.50,131.51 294.49,131.82 294.47,132.13 294.46,132.44 294.44,132.75 294.43,133.06 294.42,133.37 294.40,133.68 294.39,133.99 294.38,134.29 294.37,134.60 294.35,134.91 294.35,135.00 294.34,135.22 294.33,135.53 294.32,135.84 294.31,136.15 294.30,136.46 294.28,136.77 294.27,137.08 294.26,137.38 294.25,137.69 294.24,138.00 294.23,138.31 294.22,138.62 294.21,138.93 294.20,139.24 294.19,139.55 294.18,139.86 294.17,140.17 294.16,140.47 294.15,140.78 294.14,141.09 294.13,141.40 294.12,141.71 294.11,142.02 294.10,142.33 294.10,142.64 294.09,142.95 294.08,143.26 294.07,143.56 294.06,143.87 294.06,144.18 294.05,144.49 294.05,144.80 294.04,145.11 294.03,145.42 294.03,145.73 294.02,146.04 294.02,146.35 294.02,146.65 294.01,146.96 294.01,147.27 294.00,147.58 294.00,147.89 294.00,148.20 L294.00,148.20 294.00,147.89 294.00,147.58 293.99,147.27 293.99,146.96 293.98,146.65 293.98,146.35 293.98,146.04 293.97,145.73 293.97,145.42 293.96,145.11 293.95,144.80 293.95,144.49 293.94,144.18 293.94,143.87 293.93,143.56 293.92,143.26 293.91,142.95 293.90,142.64 293.90,142.33 293.89,142.02 293.88,141.71 293.87,141.40 293.86,141.09 293.85,140.78 293.84,140.47 293.83,140.17 293.82,139.86 293.81,139.55 293.80,139.24 293.79,138.93 293.78,138.62 293.77,138.31 293.76,138.00 293.75,137.69 293.74,137.38 293.73,137.08 293.72,136.77 293.70,136.46 293.69,136.15 293.68,135.84 293.67,135.53 293.66,135.22 293.65,135.00 293.65,134.91 293.63,134.60 293.62,134.29 293.61,133.99 293.60,133.68 293.58,133.37 293.57,133.06 293.56,132.75 293.54,132.44 293.53,132.13 293.51,131.82 293.50,131.51 293.48,131.20 293.46,130.90 293.44,130.59 293.42,130.28 293.40,129.97 293.38,129.66 293.36,129.35 293.34,129.04 293.31,128.73 293.29,128.42 293.26,128.12 293.25,128.00 293.23,127.81 293.20,127.50 293.16,127.19 293.12,126.88 293.08,126.57 293.03,126.26 292.98,125.95 292.92,125.64 292.86,125.33 292.81,125.03 292.75,124.72 292.68,124.41 292.62,124.10 292.60,124.00 292.55,123.79 292.47,123.48 292.38,123.17 292.28,122.86 292.18,122.55 292.09,122.24 292.01,121.94 291.94,121.63 291.90,121.40 291.89,121.32 291.84,121.01 291.80,120.70 291.76,120.39 291.73,120.08 291.69,119.77 291.66,119.46 291.63,119.15 291.60,118.84 291.57,118.54 291.55,118.23 291.52,117.92 291.50,117.61 291.48,117.30 291.46,116.99 291.44,116.68 291.42,116.37 291.40,116.06 291.40,116.00 291.39,115.75 291.37,115.45 291.36,115.14 291.35,114.83 291.34,114.52 291.33,114.21 291.32,113.90 291.31,113.59 291.30,113.28 291.29,112.97 291.28,112.66 291.27,112.36 291.26,112.05 291.25,111.74 291.24,111.43 291.23,111.12 291.21,110.81 291.20,110.50 291.20,110.50 291.18,110.19 291.16,109.88 291.13,109.58 291.10,109.27 291.07,108.96 291.04,108.65 291.02,108.34 291.01,108.03 291.00,107.72 291.00,107.70 291.01,107.41 291.03,107.10 291.07,106.79 291.12,106.48 291.19,106.18 291.26,105.87 291.35,105.56 291.44,105.25 291.54,104.94 291.64,104.63 291.74,104.32 291.85,104.01 291.96,103.70 292.06,103.39 292.16,103.09 292.26,102.78 292.35,102.47 292.44,102.16 292.50,101.90 292.51,101.85 292.59,101.54 292.66,101.23 292.74,100.92 292.82,100.61 292.90,100.31 292.98,100.00 293.06,99.69 293.14,99.38 293.21,99.07 293.28,98.76 293.35,98.45 293.41,98.14 293.46,97.83 293.51,97.52 293.55,97.22 293.58,96.91 293.60,96.70 293.61,96.60 293.63,96.29 293.65,95.98 293.67,95.67 293.69,95.36 293.71,95.05 293.73,94.74 293.75,94.43 293.77,94.12 293.78,93.82 293.80,93.51 293.82,93.20 293.83,92.89 293.85,92.58 293.86,92.27 293.87,91.96 293.89,91.65 293.90,91.34 293.91,91.04 293.92,90.73 293.93,90.42 293.94,90.11 293.95,89.80 293.96,89.49 293.97,89.18 293.97,88.87 293.98,88.56 293.99,88.25 293.99,87.95 293.99,87.64 294.00,87.33 294.00,87.02 294.00,86.71 294.00,86.40 Z" fill="#ED0000" stroke="#000" stroke-width="0.9" stroke-linejoin="round"/>
<line x1="294.00" y1="96.70" x2="294.00" y2="140.00" stroke="#000" stroke-width="1.0" />
<rect x="291.50" y="109.80" width="5.00" height="11.60" fill="#fff" stroke="#000" stroke-width="1.0" />
<line x1="291.50" y1="113.50" x2="296.50" y2="113.50" stroke="#000" stroke-width="1.0" />
<path d="M317.32,56.20 317.32,56.83 317.32,57.46 317.32,58.08 317.32,58.71 317.32,59.34 317.32,59.97 317.32,60.60 317.32,61.22 317.32,61.85 317.32,62.48 317.32,63.11 317.32,63.74 317.32,64.36 317.32,64.99 317.32,65.62 317.33,66.25 317.33,66.88 317.33,67.50 317.33,68.13 317.33,68.76 317.33,69.39 317.33,70.02 317.33,70.64 317.34,71.27 317.34,71.90 317.34,72.53 317.34,73.16 317.34,73.78 317.35,74.41 317.35,75.04 317.35,75.67 317.36,76.30 317.36,76.92 317.36,77.00 317.50,77.55 317.62,78.00 317.63,78.18 317.66,78.81 317.68,79.44 317.71,80.06 317.73,80.69 317.74,81.32 317.76,81.95 317.77,82.58 317.79,83.20 317.80,83.83 317.81,84.46 317.82,85.09 317.82,85.72 317.83,86.34 317.84,86.97 317.84,87.60 317.85,88.23 317.86,88.86 317.86,89.48 317.87,90.11 317.88,90.74 317.89,91.37 317.89,92.00 317.91,92.62 317.92,93.25 317.93,93.88 317.93,93.95 317.94,94.51 317.96,95.14 317.97,95.76 317.99,96.39 318.01,97.02 318.02,97.65 318.04,98.28 318.05,98.90 318.07,99.53 318.09,100.16 318.10,100.79 318.12,101.42 318.14,102.04 318.16,102.67 318.18,103.30 318.19,103.93 318.21,104.56 318.23,105.18 318.25,105.81 318.27,106.44 318.29,106.90 318.29,107.07 318.32,107.70 318.35,108.32 318.38,108.95 318.40,109.58 318.40,109.90 318.40,110.21 318.40,110.84 318.40,111.46 318.40,112.09 318.40,112.72 318.40,113.35 318.40,113.98 318.40,114.60 318.40,115.23 318.40,115.86 318.40,116.49 318.40,117.12 318.40,117.74 318.40,118.37 318.40,119.00 318.40,119.63 318.40,120.26 318.40,120.88 318.40,121.51 318.40,122.14 318.40,122.77 318.40,123.40 318.40,124.02 318.40,124.65 318.40,125.28 318.40,125.91 318.40,126.54 318.40,127.16 318.40,127.79 318.40,128.42 318.40,129.05 318.40,129.68 318.40,130.30 318.40,130.93 318.40,131.56 318.40,131.60 318.39,132.19 318.37,132.82 318.34,133.44 318.31,134.07 318.29,134.60 318.28,134.70 318.26,135.33 318.24,135.96 318.22,136.58 318.20,137.21 318.18,137.84 318.16,138.47 318.14,139.10 318.12,139.72 318.11,140.35 318.09,140.98 318.07,141.61 318.05,142.24 318.03,142.86 318.02,143.49 318.00,144.12 317.98,144.75 317.97,145.38 317.95,146.00 317.94,146.63 317.93,146.80 317.92,147.26 317.91,147.89 317.90,148.52 317.89,149.14 317.88,149.77 317.87,150.40 317.86,151.03 317.86,151.66 317.85,152.28 317.84,152.91 317.84,153.54 317.83,154.17 317.82,154.80 317.81,155.42 317.80,156.05 317.79,156.68 317.78,157.31 317.77,157.94 317.75,158.56 317.73,159.19 317.71,159.82 317.69,160.45 317.66,161.08 317.63,161.70 317.62,162.00 317.55,162.33 317.36,162.96 317.36,163.00 317.36,163.59 317.35,164.22 317.35,164.84 317.35,165.47 317.34,166.10 317.34,166.73 317.34,167.36 317.34,167.98 317.33,168.61 317.33,169.24 317.33,169.87 317.33,170.50 317.33,171.12 317.33,171.75 317.33,172.38 317.32,173.01 317.32,173.64 317.32,174.26 317.32,174.89 317.32,175.52 317.32,176.15 317.32,176.78 317.32,177.40 317.32,178.03 317.32,178.66 317.32,179.29 317.32,179.92 317.32,180.54 317.32,181.17 317.32,181.80 L316.68,181.80 316.68,181.17 316.68,180.54 316.68,179.92 316.68,179.29 316.68,178.66 316.68,178.03 316.68,177.40 316.68,176.78 316.68,176.15 316.68,175.52 316.68,174.89 316.68,174.26 316.68,173.64 316.68,173.01 316.67,172.38 316.67,171.75 316.67,171.12 316.67,170.50 316.67,169.87 316.67,169.24 316.67,168.61 316.66,167.98 316.66,167.36 316.66,166.73 316.66,166.10 316.65,165.47 316.65,164.84 316.65,164.22 316.64,163.59 316.64,163.00 316.64,162.96 316.45,162.33 316.38,162.00 316.37,161.70 316.34,161.08 316.31,160.45 316.29,159.82 316.27,159.19 316.25,158.56 316.23,157.94 316.22,157.31 316.21,156.68 316.20,156.05 316.19,155.42 316.18,154.80 316.17,154.17 316.16,153.54 316.16,152.91 316.15,152.28 316.14,151.66 316.14,151.03 316.13,150.40 316.12,149.77 316.11,149.14 316.10,148.52 316.09,147.89 316.08,147.26 316.07,146.80 316.06,146.63 316.05,146.00 316.03,145.38 316.02,144.75 316.00,144.12 315.98,143.49 315.97,142.86 315.95,142.24 315.93,141.61 315.91,140.98 315.89,140.35 315.88,139.72 315.86,139.10 315.84,138.47 315.82,137.84 315.80,137.21 315.78,136.58 315.76,135.96 315.74,135.33 315.72,134.70 315.71,134.60 315.69,134.07 315.66,133.44 315.63,132.82 315.61,132.19 315.60,131.60 315.60,131.56 315.60,130.93 315.60,130.30 315.60,129.68 315.60,129.05 315.60,128.42 315.60,127.79 315.60,127.16 315.60,126.54 315.60,125.91 315.60,125.28 315.60,124.65 315.60,124.02 315.60,123.40 315.60,122.77 315.60,122.14 315.60,121.51 315.60,120.88 315.60,120.26 315.60,119.63 315.60,119.00 315.60,118.37 315.60,117.74 315.60,117.12 315.60,116.49 315.60,115.86 315.60,115.23 315.60,114.60 315.60,113.98 315.60,113.35 315.60,112.72 315.60,112.09 315.60,111.46 315.60,110.84 315.60,110.21 315.60,109.90 315.60,109.58 315.62,108.95 315.65,108.32 315.68,107.70 315.71,107.07 315.71,106.90 315.73,106.44 315.75,105.81 315.77,105.18 315.79,104.56 315.81,103.93 315.82,103.30 315.84,102.67 315.86,102.04 315.88,101.42 315.90,100.79 315.91,100.16 315.93,99.53 315.95,98.90 315.96,98.28 315.98,97.65 315.99,97.02 316.01,96.39 316.03,95.76 316.04,95.14 316.06,94.51 316.07,93.95 316.07,93.88 316.08,93.25 316.09,92.62 316.11,92.00 316.11,91.37 316.12,90.74 316.13,90.11 316.14,89.48 316.14,88.86 316.15,88.23 316.16,87.60 316.16,86.97 316.17,86.34 316.18,85.72 316.18,85.09 316.19,84.46 316.20,83.83 316.21,83.20 316.23,82.58 316.24,81.95 316.26,81.32 316.27,80.69 316.29,80.06 316.32,79.44 316.34,78.81 316.37,78.18 316.38,78.00 316.50,77.55 316.64,77.00 316.64,76.92 316.64,76.30 316.65,75.67 316.65,75.04 316.65,74.41 316.66,73.78 316.66,73.16 316.66,72.53 316.66,71.90 316.66,71.27 316.67,70.64 316.67,70.02 316.67,69.39 316.67,68.76 316.67,68.13 316.67,67.50 316.67,66.88 316.67,66.25 316.68,65.62 316.68,64.99 316.68,64.36 316.68,63.74 316.68,63.11 316.68,62.48 316.68,61.85 316.68,61.22 316.68,60.60 316.68,59.97 316.68,59.34 316.68,58.71 316.68,58.08 316.68,57.46 316.68,56.83 316.68,56.20 Z" fill="#000" stroke="none"/>
<path d="M317.00,56.20 317.00,56.83 317.00,57.46 317.00,58.08 317.00,58.71 317.00,59.34 317.00,59.97 317.00,60.60 317.00,61.22 317.00,61.85 317.00,62.48 317.00,63.11 317.00,63.74 317.00,64.36 317.00,64.99 317.00,65.62 317.00,66.25 317.00,66.88 317.00,67.50 317.00,68.13 317.00,68.76 317.00,69.39 317.00,70.02 317.00,70.64 317.00,71.27 317.00,71.90 317.00,72.53 317.00,73.16 317.00,73.78 317.00,74.41 317.00,75.04 317.00,75.67 317.00,76.30 317.00,76.92 317.00,77.00 317.00,77.55 317.00,78.00 317.00,78.18 317.00,78.81 317.00,79.44 317.00,80.06 317.00,80.69 317.00,81.32 317.00,81.95 317.00,82.58 317.00,83.20 317.00,83.83 317.00,84.46 317.00,85.09 317.00,85.72 317.00,86.34 317.00,86.97 317.00,87.60 317.00,88.23 317.00,88.86 317.00,89.48 317.00,90.11 317.00,90.74 317.00,91.37 317.00,92.00 317.00,92.62 317.00,93.25 317.00,93.88 317.00,93.95 317.00,94.51 317.00,95.14 317.00,95.76 317.00,96.39 317.00,97.02 317.00,97.65 317.00,98.28 317.00,98.90 317.00,99.53 317.00,100.16 317.00,100.79 317.00,101.42 317.00,102.04 317.00,102.67 317.00,103.30 317.00,103.93 317.00,104.56 317.00,105.18 317.00,105.81 317.02,106.44 317.04,106.90 317.04,107.07 317.07,107.70 317.10,108.32 317.13,108.95 317.15,109.58 317.15,109.90 317.15,110.21 317.15,110.84 317.15,111.46 317.15,112.09 317.15,112.72 317.15,113.35 317.15,113.98 317.15,114.60 317.15,115.23 317.15,115.86 317.15,116.49 317.15,117.12 317.15,117.74 317.15,118.37 317.15,119.00 317.15,119.63 317.15,120.26 317.15,120.88 317.15,121.51 317.15,122.14 317.15,122.77 317.15,123.40 317.15,124.02 317.15,124.65 317.15,125.28 317.15,125.91 317.15,126.54 317.15,127.16 317.15,127.79 317.15,128.42 317.15,129.05 317.15,129.68 317.15,130.30 317.15,130.93 317.15,131.56 317.15,131.60 317.14,132.19 317.12,132.82 317.09,133.44 317.06,134.07 317.04,134.60 317.03,134.70 317.01,135.33 317.00,135.96 317.00,136.58 317.00,137.21 317.00,137.84 317.00,138.47 317.00,139.10 317.00,139.72 317.00,140.35 317.00,140.98 317.00,141.61 317.00,142.24 317.00,142.86 317.00,143.49 317.00,144.12 317.00,144.75 317.00,145.38 317.00,146.00 317.00,146.63 317.00,146.80 317.00,147.26 317.00,147.89 317.00,148.52 317.00,149.14 317.00,149.77 317.00,150.40 317.00,151.03 317.00,151.66 317.00,152.28 317.00,152.91 317.00,153.54 317.00,154.17 317.00,154.80 317.00,155.42 317.00,156.05 317.00,156.68 317.00,157.31 317.00,157.94 317.00,158.56 317.00,159.19 317.00,159.82 317.00,160.45 317.00,161.08 317.00,161.70 317.00,162.00 317.00,162.33 317.00,162.96 317.00,163.00 317.00,163.59 317.00,164.22 317.00,164.84 317.00,165.47 317.00,166.10 317.00,166.73 317.00,167.36 317.00,167.98 317.00,168.61 317.00,169.24 317.00,169.87 317.00,170.50 317.00,171.12 317.00,171.75 317.00,172.38 317.00,173.01 317.00,173.64 317.00,174.26 317.00,174.89 317.00,175.52 317.00,176.15 317.00,176.78 317.00,177.40 317.00,178.03 317.00,178.66 317.00,179.29 317.00,179.92 317.00,180.54 317.00,181.17 317.00,181.80 L317.00,181.80 317.00,181.17 317.00,180.54 317.00,179.92 317.00,179.29 317.00,178.66 317.00,178.03 317.00,177.40 317.00,176.78 317.00,176.15 317.00,175.52 317.00,174.89 317.00,174.26 317.00,173.64 317.00,173.01 317.00,172.38 317.00,171.75 317.00,171.12 317.00,170.50 317.00,169.87 317.00,169.24 317.00,168.61 317.00,167.98 317.00,167.36 317.00,166.73 317.00,166.10 317.00,165.47 317.00,164.84 317.00,164.22 317.00,163.59 317.00,163.00 317.00,162.96 317.00,162.33 317.00,162.00 317.00,161.70 317.00,161.08 317.00,160.45 317.00,159.82 317.00,159.19 317.00,158.56 317.00,157.94 317.00,157.31 317.00,156.68 317.00,156.05 317.00,155.42 317.00,154.80 317.00,154.17 317.00,153.54 317.00,152.91 317.00,152.28 317.00,151.66 317.00,151.03 317.00,150.40 317.00,149.77 317.00,149.14 317.00,148.52 317.00,147.89 317.00,147.26 317.00,146.80 317.00,146.63 317.00,146.00 317.00,145.38 317.00,144.75 317.00,144.12 317.00,143.49 317.00,142.86 317.00,142.24 317.00,141.61 317.00,140.98 317.00,140.35 317.00,139.72 317.00,139.10 317.00,138.47 317.00,137.84 317.00,137.21 317.00,136.58 317.00,135.96 316.99,135.33 316.97,134.70 316.96,134.60 316.94,134.07 316.91,133.44 316.88,132.82 316.86,132.19 316.85,131.60 316.85,131.56 316.85,130.93 316.85,130.30 316.85,129.68 316.85,129.05 316.85,128.42 316.85,127.79 316.85,127.16 316.85,126.54 316.85,125.91 316.85,125.28 316.85,124.65 316.85,124.02 316.85,123.40 316.85,122.77 316.85,122.14 316.85,121.51 316.85,120.88 316.85,120.26 316.85,119.63 316.85,119.00 316.85,118.37 316.85,117.74 316.85,117.12 316.85,116.49 316.85,115.86 316.85,115.23 316.85,114.60 316.85,113.98 316.85,113.35 316.85,112.72 316.85,112.09 316.85,111.46 316.85,110.84 316.85,110.21 316.85,109.90 316.85,109.58 316.87,108.95 316.90,108.32 316.93,107.70 316.96,107.07 316.96,106.90 316.98,106.44 317.00,105.81 317.00,105.18 317.00,104.56 317.00,103.93 317.00,103.30 317.00,102.67 317.00,102.04 317.00,101.42 317.00,100.79 317.00,100.16 317.00,99.53 317.00,98.90 317.00,98.28 317.00,97.65 317.00,97.02 317.00,96.39 317.00,95.76 317.00,95.14 317.00,94.51 317.00,93.95 317.00,93.88 317.00,93.25 317.00,92.62 317.00,92.00 317.00,91.37 317.00,90.74 317.00,90.11 317.00,89.48 317.00,88.86 317.00,88.23 317.00,87.60 317.00,86.97 317.00,86.34 317.00,85.72 317.00,85.09 317.00,84.46 317.00,83.83 317.00,83.20 317.00,82.58 317.00,81.95 317.00,81.32 317.00,80.69 317.00,80.06 317.00,79.44 317.00,78.81 317.00,78.18 317.00,78.00 317.00,77.55 317.00,77.00 317.00,76.92 317.00,76.30 317.00,75.67 317.00,75.04 317.00,74.41 317.00,73.78 317.00,73.16 317.00,72.53 317.00,71.90 317.00,71.27 317.00,70.64 317.00,70.02 317.00,69.39 317.00,68.76 317.00,68.13 317.00,67.50 317.00,66.88 317.00,66.25 317.00,65.62 317.00,64.99 317.00,64.36 317.00,63.74 317.00,63.11 317.00,62.48 317.00,61.85 317.00,61.22 317.00,60.60 317.00,59.97 317.00,59.34 317.00,58.71 317.00,58.08 317.00,57.46 317.00,56.83 317.00,56.20 Z" fill="#42B540" stroke="none"/>
<rect x="314.50" y="109.90" width="5.00" height="21.70" fill="#fff" stroke="#000" stroke-width="1.0" />
<line x1="314.50" y1="121.30" x2="319.50" y2="121.30" stroke="#000" stroke-width="1.0" />
<path d="M363.52,68.10 363.52,68.54 363.52,68.99 363.52,69.43 363.52,69.88 363.52,70.32 363.52,70.77 363.52,71.21 363.52,71.66 363.52,72.10 363.52,72.55 363.52,72.99 363.52,73.44 363.52,73.88 363.52,74.33 363.52,74.77 363.53,75.22 363.53,75.66 363.53,76.11 363.53,76.55 363.53,77.00 363.53,77.44 363.53,77.89 363.53,78.33 363.54,78.78 363.54,79.22 363.54,79.67 363.54,80.11 363.54,80.56 363.55,81.00 363.55,81.45 363.55,81.89 363.56,82.34 363.56,82.78 363.56,83.00 363.59,83.23 363.74,83.67 363.82,84.00 363.83,84.12 363.87,84.56 363.90,85.01 363.93,85.45 363.95,85.90 363.98,86.34 364.00,86.79 364.02,87.23 364.03,87.68 364.05,88.12 364.06,88.57 364.07,89.01 364.09,89.46 364.10,89.91 364.11,90.35 364.12,90.79 364.13,91.24 364.14,91.69 364.15,92.13 364.16,92.57 364.18,93.02 364.19,93.46 364.21,93.91 364.23,94.35 364.25,94.80 364.25,94.90 364.27,95.24 364.29,95.69 364.32,96.13 364.35,96.58 364.38,97.02 364.41,97.47 364.44,97.91 364.47,98.36 364.50,98.80 364.53,99.25 364.57,99.69 364.60,100.14 364.63,100.58 364.66,101.03 364.69,101.47 364.71,101.92 364.74,102.36 364.76,102.80 364.76,102.81 364.79,103.25 364.82,103.70 364.84,104.14 364.87,104.59 364.89,105.03 364.90,105.48 364.90,105.80 364.90,105.92 364.90,106.37 364.90,106.81 364.90,107.26 364.90,107.70 364.90,108.15 364.90,108.59 364.90,109.04 364.90,109.48 364.89,109.93 364.89,110.38 364.89,110.82 364.89,111.26 364.89,111.71 364.89,112.16 364.88,112.60 364.88,113.04 364.88,113.49 364.88,113.94 364.88,114.38 364.87,114.82 364.87,115.27 364.87,115.72 364.86,116.16 364.86,116.60 364.86,117.05 364.85,117.50 364.85,117.94 364.85,118.38 364.84,118.83 364.84,119.27 364.83,119.72 364.83,120.16 364.82,120.61 364.82,121.05 364.81,121.50 364.81,121.94 364.80,122.39 364.80,122.60 364.80,122.83 364.78,123.28 364.77,123.72 364.75,124.17 364.73,124.61 364.70,125.06 364.68,125.50 364.67,125.60 364.65,125.95 364.62,126.39 364.59,126.84 364.55,127.28 364.51,127.73 364.47,128.18 364.43,128.62 364.39,129.06 364.35,129.51 364.31,129.95 364.27,130.40 364.24,130.84 364.21,131.29 364.21,131.30 364.19,131.73 364.17,132.18 364.15,132.62 364.13,133.07 364.12,133.51 364.10,133.96 364.09,134.41 364.08,134.85 364.06,135.29 364.05,135.74 364.04,136.19 364.02,136.63 364.01,137.07 363.99,137.52 363.97,137.96 363.94,138.41 363.91,138.85 363.88,139.30 363.84,139.75 363.82,140.00 363.78,140.19 363.63,140.63 363.56,141.00 363.56,141.08 363.56,141.52 363.55,141.97 363.55,142.41 363.55,142.86 363.55,143.31 363.54,143.75 363.54,144.19 363.54,144.64 363.54,145.08 363.54,145.53 363.53,145.97 363.53,146.42 363.53,146.87 363.53,147.31 363.53,147.75 363.53,148.20 363.53,148.64 363.53,149.09 363.53,149.53 363.52,149.98 363.52,150.43 363.52,150.87 363.52,151.31 363.52,151.76 363.52,152.20 363.52,152.65 363.52,153.09 363.52,153.54 363.52,153.99 363.52,154.43 363.52,154.88 363.52,155.32 363.52,155.76 363.52,156.21 363.52,156.66 363.52,157.10 L362.88,157.10 362.88,156.66 362.88,156.21 362.88,155.76 362.88,155.32 362.88,154.88 362.88,154.43 362.88,153.99 362.88,153.54 362.88,153.09 362.88,152.65 362.88,152.20 362.88,151.76 362.88,151.31 362.88,150.87 362.88,150.43 362.88,149.98 362.87,149.53 362.87,149.09 362.87,148.64 362.87,148.20 362.87,147.75 362.87,147.31 362.87,146.87 362.87,146.42 362.87,145.97 362.86,145.53 362.86,145.08 362.86,144.64 362.86,144.19 362.86,143.75 362.85,143.31 362.85,142.86 362.85,142.41 362.85,141.97 362.84,141.52 362.84,141.08 362.84,141.00 362.77,140.63 362.62,140.19 362.58,140.00 362.56,139.75 362.52,139.30 362.49,138.85 362.46,138.41 362.43,137.96 362.41,137.52 362.39,137.07 362.38,136.63 362.36,136.19 362.35,135.74 362.34,135.29 362.32,134.85 362.31,134.41 362.30,133.96 362.28,133.51 362.27,133.07 362.25,132.62 362.23,132.18 362.21,131.73 362.19,131.30 362.19,131.29 362.16,130.84 362.13,130.40 362.09,129.95 362.05,129.51 362.01,129.06 361.97,128.62 361.93,128.18 361.89,127.73 361.85,127.28 361.81,126.84 361.78,126.39 361.75,125.95 361.73,125.60 361.72,125.50 361.70,125.06 361.67,124.61 361.65,124.17 361.63,123.72 361.62,123.28 361.60,122.83 361.60,122.60 361.60,122.39 361.59,121.94 361.59,121.50 361.58,121.05 361.58,120.61 361.57,120.16 361.57,119.72 361.56,119.27 361.56,118.83 361.55,118.38 361.55,117.94 361.55,117.50 361.54,117.05 361.54,116.60 361.54,116.16 361.53,115.72 361.53,115.27 361.53,114.82 361.52,114.38 361.52,113.94 361.52,113.49 361.52,113.04 361.52,112.60 361.51,112.16 361.51,111.71 361.51,111.26 361.51,110.82 361.51,110.38 361.51,109.93 361.50,109.48 361.50,109.04 361.50,108.59 361.50,108.15 361.50,107.70 361.50,107.26 361.50,106.81 361.50,106.37 361.50,105.92 361.50,105.80 361.50,105.48 361.51,105.03 361.53,104.59 361.56,104.14 361.58,103.70 361.61,103.25 361.64,102.81 361.64,102.80 361.66,102.36 361.69,101.92 361.71,101.47 361.74,101.03 361.77,100.58 361.80,100.14 361.83,99.69 361.87,99.25 361.90,98.80 361.93,98.36 361.96,97.91 361.99,97.47 362.02,97.02 362.05,96.58 362.08,96.13 362.11,95.69 362.13,95.24 362.15,94.90 362.15,94.80 362.17,94.35 362.19,93.91 362.21,93.46 362.22,93.02 362.24,92.57 362.25,92.13 362.26,91.69 362.27,91.24 362.28,90.79 362.29,90.35 362.30,89.91 362.31,89.46 362.33,89.01 362.34,88.57 362.35,88.12 362.37,87.68 362.38,87.23 362.40,86.79 362.42,86.34 362.45,85.90 362.47,85.45 362.50,85.01 362.53,84.56 362.57,84.12 362.58,84.00 362.66,83.67 362.81,83.23 362.84,83.00 362.84,82.78 362.84,82.34 362.85,81.89 362.85,81.45 362.85,81.00 362.86,80.56 362.86,80.11 362.86,79.67 362.86,79.22 362.86,78.78 362.87,78.33 362.87,77.89 362.87,77.44 362.87,77.00 362.87,76.55 362.87,76.11 362.87,75.66 362.87,75.22 362.88,74.77 362.88,74.33 362.88,73.88 362.88,73.44 362.88,72.99 362.88,72.55 362.88,72.10 362.88,71.66 362.88,71.21 362.88,70.77 362.88,70.32 362.88,69.88 362.88,69.43 362.88,68.99 362.88,68.54 362.88,68.10 Z" fill="#000" stroke="none"/>
<path d="M363.20,68.10 363.20,68.54 363.20,68.99 363.20,69.43 363.20,69.88 363.20,70.32 363.20,70.77 363.20,71.21 363.20,71.66 363.20,72.10 363.20,72.55 363.20,72.99 363.20,73.44 363.20,73.88 363.20,74.33 363.20,74.77 363.20,75.22 363.20,75.66 363.20,76.11 363.20,76.55 363.20,77.00 363.20,77.44 363.20,77.89 363.20,78.33 363.20,78.78 363.20,79.22 363.20,79.67 363.20,80.11 363.20,80.56 363.20,81.00 363.20,81.45 363.20,81.89 363.20,82.34 363.20,82.78 363.20,83.00 363.20,83.23 363.20,83.67 363.20,84.00 363.20,84.12 363.20,84.56 363.20,85.01 363.20,85.45 363.20,85.90 363.20,86.34 363.20,86.79 363.20,87.23 363.20,87.68 363.20,88.12 363.20,88.57 363.20,89.01 363.20,89.46 363.20,89.91 363.20,90.35 363.20,90.79 363.20,91.24 363.20,91.69 363.20,92.13 363.20,92.57 363.20,93.02 363.20,93.46 363.20,93.91 363.20,94.35 363.20,94.80 363.20,94.90 363.20,95.24 363.20,95.69 363.20,96.13 363.20,96.58 363.20,97.02 363.20,97.47 363.20,97.91 363.22,98.36 363.25,98.80 363.28,99.25 363.32,99.69 363.35,100.14 363.38,100.58 363.41,101.03 363.44,101.47 363.46,101.92 363.49,102.36 363.51,102.80 363.51,102.81 363.54,103.25 363.57,103.70 363.59,104.14 363.62,104.59 363.64,105.03 363.65,105.48 363.65,105.80 363.65,105.92 363.65,106.37 363.65,106.81 363.65,107.26 363.65,107.70 363.65,108.15 363.65,108.59 363.65,109.04 363.65,109.48 363.64,109.93 363.64,110.38 363.64,110.82 363.64,111.26 363.64,111.71 363.64,112.16 363.63,112.60 363.63,113.04 363.63,113.49 363.63,113.94 363.63,114.38 363.62,114.82 363.62,115.27 363.62,115.72 363.61,116.16 363.61,116.60 363.61,117.05 363.60,117.50 363.60,117.94 363.60,118.38 363.59,118.83 363.59,119.27 363.58,119.72 363.58,120.16 363.57,120.61 363.57,121.05 363.56,121.50 363.56,121.94 363.55,122.39 363.55,122.60 363.55,122.83 363.53,123.28 363.52,123.72 363.50,124.17 363.48,124.61 363.45,125.06 363.43,125.50 363.42,125.60 363.40,125.95 363.37,126.39 363.34,126.84 363.30,127.28 363.26,127.73 363.22,128.18 363.20,128.62 363.20,129.06 363.20,129.51 363.20,129.95 363.20,130.40 363.20,130.84 363.20,131.29 363.20,131.30 363.20,131.73 363.20,132.18 363.20,132.62 363.20,133.07 363.20,133.51 363.20,133.96 363.20,134.41 363.20,134.85 363.20,135.29 363.20,135.74 363.20,136.19 363.20,136.63 363.20,137.07 363.20,137.52 363.20,137.96 363.20,138.41 363.20,138.85 363.20,139.30 363.20,139.75 363.20,140.00 363.20,140.19 363.20,140.63 363.20,141.00 363.20,141.08 363.20,141.52 363.20,141.97 363.20,142.41 363.20,142.86 363.20,143.31 363.20,143.75 363.20,144.19 363.20,144.64 363.20,145.08 363.20,145.53 363.20,145.97 363.20,146.42 363.20,146.87 363.20,147.31 363.20,147.75 363.20,148.20 363.20,148.64 363.20,149.09 363.20,149.53 363.20,149.98 363.20,150.43 363.20,150.87 363.20,151.31 363.20,151.76 363.20,152.20 363.20,152.65 363.20,153.09 363.20,153.54 363.20,153.99 363.20,154.43 363.20,154.88 363.20,155.32 363.20,155.76 363.20,156.21 363.20,156.66 363.20,157.10 L363.20,157.10 363.20,156.66 363.20,156.21 363.20,155.76 363.20,155.32 363.20,154.88 363.20,154.43 363.20,153.99 363.20,153.54 363.20,153.09 363.20,152.65 363.20,152.20 363.20,151.76 363.20,151.31 363.20,150.87 363.20,150.43 363.20,149.98 363.20,149.53 363.20,149.09 363.20,148.64 363.20,148.20 363.20,147.75 363.20,147.31 363.20,146.87 363.20,146.42 363.20,145.97 363.20,145.53 363.20,145.08 363.20,144.64 363.20,144.19 363.20,143.75 363.20,143.31 363.20,142.86 363.20,142.41 363.20,141.97 363.20,141.52 363.20,141.08 363.20,141.00 363.20,140.63 363.20,140.19 363.20,140.00 363.20,139.75 363.20,139.30 363.20,138.85 363.20,138.41 363.20,137.96 363.20,137.52 363.20,137.07 363.20,136.63 363.20,136.19 363.20,135.74 363.20,135.29 363.20,134.85 363.20,134.41 363.20,133.96 363.20,133.51 363.20,133.07 363.20,132.62 363.20,132.18 363.20,131.73 363.20,131.30 363.20,131.29 363.20,130.84 363.20,130.40 363.20,129.95 363.20,129.51 363.20,129.06 363.20,128.62 363.18,128.18 363.14,127.73 363.10,127.28 363.06,126.84 363.03,126.39 363.00,125.95 362.98,125.60 362.97,125.50 362.95,125.06 362.92,124.61 362.90,124.17 362.88,123.72 362.87,123.28 362.85,122.83 362.85,122.60 362.85,122.39 362.84,121.94 362.84,121.50 362.83,121.05 362.83,120.61 362.82,120.16 362.82,119.72 362.81,119.27 362.81,118.83 362.80,118.38 362.80,117.94 362.80,117.50 362.79,117.05 362.79,116.60 362.79,116.16 362.78,115.72 362.78,115.27 362.78,114.82 362.77,114.38 362.77,113.94 362.77,113.49 362.77,113.04 362.77,112.60 362.76,112.16 362.76,111.71 362.76,111.26 362.76,110.82 362.76,110.38 362.76,109.93 362.75,109.48 362.75,109.04 362.75,108.59 362.75,108.15 362.75,107.70 362.75,107.26 362.75,106.81 362.75,106.37 362.75,105.92 362.75,105.80 362.75,105.48 362.76,105.03 362.78,104.59 362.81,104.14 362.83,103.70 362.86,103.25 362.89,102.81 362.89,102.80 362.91,102.36 362.94,101.92 362.96,101.47 362.99,101.03 363.02,100.58 363.05,100.14 363.08,99.69 363.12,99.25 363.15,98.80 363.18,98.36 363.20,97.91 363.20,97.47 363.20,97.02 363.20,96.58 363.20,96.13 363.20,95.69 363.20,95.24 363.20,94.90 363.20,94.80 363.20,94.35 363.20,93.91 363.20,93.46 363.20,93.02 363.20,92.57 363.20,92.13 363.20,91.69 363.20,91.24 363.20,90.79 363.20,90.35 363.20,89.91 363.20,89.46 363.20,89.01 363.20,88.57 363.20,88.12 363.20,87.68 363.20,87.23 363.20,86.79 363.20,86.34 363.20,85.90 363.20,85.45 363.20,85.01 363.20,84.56 363.20,84.12 363.20,84.00 363.20,83.67 363.20,83.23 363.20,83.00 363.20,82.78 363.20,82.34 363.20,81.89 363.20,81.45 363.20,81.00 363.20,80.56 363.20,80.11 363.20,79.67 363.20,79.22 363.20,78.78 363.20,78.33 363.20,77.89 363.20,77.44 363.20,77.00 363.20,76.55 363.20,76.11 363.20,75.66 363.20,75.22 363.20,74.77 363.20,74.33 363.20,73.88 363.20,73.44 363.20,72.99 363.20,72.55 363.20,72.10 363.20,71.66 363.20,71.21 363.20,70.77 363.20,70.32 363.20,69.88 363.20,69.43 363.20,68.99 363.20,68.54 363.20,68.10 Z" fill="#925E9F" stroke="none"/>
<rect x="360.70" y="105.80" width="5.00" height="16.80" fill="#fff" stroke="#000" stroke-width="1.0" />
<line x1="360.70" y1="111.90" x2="365.70" y2="111.90" stroke="#000" stroke-width="1.0" />
<path d="M386.62,66.10 386.62,66.55 386.62,67.01 386.62,67.46 386.62,67.91 386.62,68.36 386.62,68.82 386.62,69.27 386.62,69.72 386.62,70.18 386.62,70.63 386.62,71.08 386.62,71.54 386.62,71.99 386.62,72.44 386.62,72.89 386.63,73.35 386.63,73.80 386.63,74.25 386.63,74.71 386.63,75.16 386.63,75.61 386.63,76.07 386.64,76.52 386.64,76.97 386.64,77.42 386.64,77.88 386.64,78.33 386.65,78.78 386.65,79.24 386.65,79.69 386.65,80.14 386.66,80.60 386.66,81.00 386.66,81.05 386.78,81.50 386.91,81.95 386.92,82.00 386.95,82.41 386.99,82.86 387.02,83.31 387.05,83.77 387.07,84.22 387.10,84.67 387.12,85.13 387.13,85.58 387.15,86.03 387.16,86.48 387.18,86.94 387.19,87.39 387.20,87.84 387.21,88.30 387.22,88.75 387.23,89.20 387.25,89.66 387.26,90.11 387.27,90.56 387.29,91.01 387.31,91.47 387.33,91.92 387.35,92.37 387.35,92.40 387.38,92.83 387.40,93.28 387.43,93.73 387.46,94.19 387.50,94.64 387.53,95.09 387.56,95.54 387.60,96.00 387.63,96.45 387.67,96.90 387.70,97.36 387.74,97.81 387.77,98.26 387.80,98.72 387.83,99.17 387.85,99.62 387.86,99.80 387.88,100.07 387.91,100.53 387.93,100.98 387.96,101.43 387.98,101.89 387.99,102.34 388.00,102.79 388.00,102.80 388.00,103.25 388.00,103.70 388.00,104.15 388.00,104.60 388.00,105.06 388.00,105.51 388.00,105.96 388.00,106.42 387.99,106.87 387.99,107.32 387.99,107.78 387.99,108.23 387.99,108.68 387.99,109.13 387.98,109.59 387.98,110.04 387.98,110.49 387.98,110.95 387.97,111.40 387.97,111.85 387.97,112.31 387.97,112.76 387.96,113.21 387.96,113.66 387.95,114.12 387.95,114.57 387.95,115.02 387.94,115.48 387.94,115.93 387.93,116.38 387.93,116.84 387.92,117.29 387.92,117.74 387.91,118.19 387.91,118.65 387.90,119.10 387.90,119.30 387.90,119.55 387.88,120.01 387.87,120.46 387.85,120.91 387.82,121.37 387.80,121.82 387.77,122.27 387.77,122.30 387.75,122.72 387.72,123.18 387.69,123.63 387.65,124.08 387.62,124.54 387.58,124.99 387.55,125.44 387.51,125.90 387.47,126.35 387.44,126.80 387.40,127.25 387.37,127.71 387.34,128.16 387.31,128.61 387.31,128.65 387.29,129.07 387.27,129.52 387.25,129.97 387.24,130.43 387.22,130.88 387.21,131.33 387.20,131.78 387.19,132.24 387.17,132.69 387.16,133.14 387.15,133.60 387.14,134.05 387.12,134.50 387.11,134.96 387.09,135.41 387.07,135.86 387.04,136.31 387.01,136.77 386.98,137.22 386.95,137.67 386.92,138.00 386.90,138.13 386.75,138.58 386.66,139.00 386.66,139.03 386.66,139.49 386.65,139.94 386.65,140.39 386.65,140.84 386.65,141.30 386.64,141.75 386.64,142.20 386.64,142.66 386.64,143.11 386.64,143.56 386.64,144.02 386.63,144.47 386.63,144.92 386.63,145.38 386.63,145.83 386.63,146.28 386.63,146.73 386.63,147.19 386.63,147.64 386.63,148.09 386.62,148.55 386.62,149.00 386.62,149.45 386.62,149.91 386.62,150.36 386.62,150.81 386.62,151.26 386.62,151.72 386.62,152.17 386.62,152.62 386.62,153.08 386.62,153.53 386.62,153.98 386.62,154.44 386.62,154.89 386.62,155.34 386.62,155.79 386.62,156.25 386.62,156.70 L385.98,156.70 385.98,156.25 385.98,155.79 385.98,155.34 385.98,154.89 385.98,154.44 385.98,153.98 385.98,153.53 385.98,153.08 385.98,152.62 385.98,152.17 385.98,151.72 385.98,151.26 385.98,150.81 385.98,150.36 385.98,149.91 385.98,149.45 385.98,149.00 385.98,148.55 385.97,148.09 385.97,147.64 385.97,147.19 385.97,146.73 385.97,146.28 385.97,145.83 385.97,145.38 385.97,144.92 385.97,144.47 385.96,144.02 385.96,143.56 385.96,143.11 385.96,142.66 385.96,142.20 385.96,141.75 385.95,141.30 385.95,140.84 385.95,140.39 385.95,139.94 385.94,139.49 385.94,139.03 385.94,139.00 385.85,138.58 385.70,138.13 385.68,138.00 385.65,137.67 385.62,137.22 385.59,136.77 385.56,136.31 385.53,135.86 385.51,135.41 385.49,134.96 385.48,134.50 385.46,134.05 385.45,133.60 385.44,133.14 385.43,132.69 385.41,132.24 385.40,131.78 385.39,131.33 385.38,130.88 385.36,130.43 385.35,129.97 385.33,129.52 385.31,129.07 385.29,128.65 385.29,128.61 385.26,128.16 385.23,127.71 385.20,127.25 385.16,126.80 385.13,126.35 385.09,125.90 385.05,125.44 385.02,124.99 384.98,124.54 384.95,124.08 384.91,123.63 384.88,123.18 384.85,122.72 384.83,122.30 384.83,122.27 384.80,121.82 384.78,121.37 384.75,120.91 384.73,120.46 384.72,120.01 384.70,119.55 384.70,119.30 384.70,119.10 384.69,118.65 384.69,118.19 384.68,117.74 384.68,117.29 384.67,116.84 384.67,116.38 384.66,115.93 384.66,115.48 384.65,115.02 384.65,114.57 384.65,114.12 384.64,113.66 384.64,113.21 384.63,112.76 384.63,112.31 384.63,111.85 384.63,111.40 384.62,110.95 384.62,110.49 384.62,110.04 384.62,109.59 384.61,109.13 384.61,108.68 384.61,108.23 384.61,107.78 384.61,107.32 384.61,106.87 384.60,106.42 384.60,105.96 384.60,105.51 384.60,105.06 384.60,104.60 384.60,104.15 384.60,103.70 384.60,103.25 384.60,102.80 384.60,102.79 384.61,102.34 384.62,101.89 384.64,101.43 384.67,100.98 384.69,100.53 384.72,100.07 384.74,99.80 384.75,99.62 384.77,99.17 384.80,98.72 384.83,98.26 384.86,97.81 384.90,97.36 384.93,96.90 384.97,96.45 385.00,96.00 385.04,95.54 385.07,95.09 385.10,94.64 385.14,94.19 385.17,93.73 385.20,93.28 385.22,92.83 385.25,92.40 385.25,92.37 385.27,91.92 385.29,91.47 385.31,91.01 385.33,90.56 385.34,90.11 385.35,89.66 385.37,89.20 385.38,88.75 385.39,88.30 385.40,87.84 385.41,87.39 385.42,86.94 385.44,86.48 385.45,86.03 385.47,85.58 385.48,85.13 385.50,84.67 385.53,84.22 385.55,83.77 385.58,83.31 385.61,82.86 385.65,82.41 385.68,82.00 385.69,81.95 385.82,81.50 385.94,81.05 385.94,81.00 385.94,80.60 385.95,80.14 385.95,79.69 385.95,79.24 385.95,78.78 385.96,78.33 385.96,77.88 385.96,77.42 385.96,76.97 385.96,76.52 385.97,76.07 385.97,75.61 385.97,75.16 385.97,74.71 385.97,74.25 385.97,73.80 385.97,73.35 385.98,72.89 385.98,72.44 385.98,71.99 385.98,71.54 385.98,71.08 385.98,70.63 385.98,70.18 385.98,69.72 385.98,69.27 385.98,68.82 385.98,68.36 385.98,67.91 385.98,67.46 385.98,67.01 385.98,66.55 385.98,66.10 Z" fill="#000" stroke="none"/>
<path d="M386.30,66.10 386.30,66.55 386.30,67.01 386.30,67.46 386.30,67.91 386.30,68.36 386.30,68.82 386.30,69.27 386.30,69.72 386.30,70.18 386.30,70.63 386.30,71.08 386.30,71.54 386.30,71.99 386.30,72.44 386.30,72.89 386.30,73.35 386.30,73.80 386.30,74.25 386.30,74.71 386.30,75.16 386.30,75.61 386.30,76.07 386.30,76.52 386.30,76.97 386.30,77.42 386.30,77.88 386.30,78.33 386.30,78.78 386.30,79.24 386.30,79.69 386.30,80.14 386.30,80.60 386.30,81.00 386.30,81.05 386.30,81.50 386.30,81.95 386.30,82.00 386.30,82.41 386.30,82.86 386.30,83.31 386.30,83.77 386.30,84.22 386.30,84.67 386.30,85.13 386.30,85.58 386.30,86.03 386.30,86.48 386.30,86.94 386.30,87.39 386.30,87.84 386.30,88.30 386.30,88.75 386.30,89.20 386.30,89.66 386.30,90.11 386.30,90.56 386.30,91.01 386.30,91.47 386.30,91.92 386.30,92.37 386.30,92.40 386.30,92.83 386.30,93.28 386.30,93.73 386.30,94.19 386.30,94.64 386.30,95.09 386.31,95.54 386.35,96.00 386.38,96.45 386.42,96.90 386.45,97.36 386.49,97.81 386.52,98.26 386.55,98.72 386.58,99.17 386.60,99.62 386.61,99.80 386.63,100.07 386.66,100.53 386.68,100.98 386.71,101.43 386.73,101.89 386.74,102.34 386.75,102.79 386.75,102.80 386.75,103.25 386.75,103.70 386.75,104.15 386.75,104.60 386.75,105.06 386.75,105.51 386.75,105.96 386.75,106.42 386.74,106.87 386.74,107.32 386.74,107.78 386.74,108.23 386.74,108.68 386.74,109.13 386.73,109.59 386.73,110.04 386.73,110.49 386.73,110.95 386.72,111.40 386.72,111.85 386.72,112.31 386.72,112.76 386.71,113.21 386.71,113.66 386.70,114.12 386.70,114.57 386.70,115.02 386.69,115.48 386.69,115.93 386.68,116.38 386.68,116.84 386.67,117.29 386.67,117.74 386.66,118.19 386.66,118.65 386.65,119.10 386.65,119.30 386.65,119.55 386.63,120.01 386.62,120.46 386.60,120.91 386.57,121.37 386.55,121.82 386.52,122.27 386.52,122.30 386.50,122.72 386.47,123.18 386.44,123.63 386.40,124.08 386.37,124.54 386.33,124.99 386.30,125.44 386.30,125.90 386.30,126.35 386.30,126.80 386.30,127.25 386.30,127.71 386.30,128.16 386.30,128.61 386.30,128.65 386.30,129.07 386.30,129.52 386.30,129.97 386.30,130.43 386.30,130.88 386.30,131.33 386.30,131.78 386.30,132.24 386.30,132.69 386.30,133.14 386.30,133.60 386.30,134.05 386.30,134.50 386.30,134.96 386.30,135.41 386.30,135.86 386.30,136.31 386.30,136.77 386.30,137.22 386.30,137.67 386.30,138.00 386.30,138.13 386.30,138.58 386.30,139.00 386.30,139.03 386.30,139.49 386.30,139.94 386.30,140.39 386.30,140.84 386.30,141.30 386.30,141.75 386.30,142.20 386.30,142.66 386.30,143.11 386.30,143.56 386.30,144.02 386.30,144.47 386.30,144.92 386.30,145.38 386.30,145.83 386.30,146.28 386.30,146.73 386.30,147.19 386.30,147.64 386.30,148.09 386.30,148.55 386.30,149.00 386.30,149.45 386.30,149.91 386.30,150.36 386.30,150.81 386.30,151.26 386.30,151.72 386.30,152.17 386.30,152.62 386.30,153.08 386.30,153.53 386.30,153.98 386.30,154.44 386.30,154.89 386.30,155.34 386.30,155.79 386.30,156.25 386.30,156.70 L386.30,156.70 386.30,156.25 386.30,155.79 386.30,155.34 386.30,154.89 386.30,154.44 386.30,153.98 386.30,153.53 386.30,153.08 386.30,152.62 386.30,152.17 386.30,151.72 386.30,151.26 386.30,150.81 386.30,150.36 386.30,149.91 386.30,149.45 386.30,149.00 386.30,148.55 386.30,148.09 386.30,147.64 386.30,147.19 386.30,146.73 386.30,146.28 386.30,145.83 386.30,145.38 386.30,144.92 386.30,144.47 386.30,144.02 386.30,143.56 386.30,143.11 386.30,142.66 386.30,142.20 386.30,141.75 386.30,141.30 386.30,140.84 386.30,140.39 386.30,139.94 386.30,139.49 386.30,139.03 386.30,139.00 386.30,138.58 386.30,138.13 386.30,138.00 386.30,137.67 386.30,137.22 386.30,136.77 386.30,136.31 386.30,135.86 386.30,135.41 386.30,134.96 386.30,134.50 386.30,134.05 386.30,133.60 386.30,133.14 386.30,132.69 386.30,132.24 386.30,131.78 386.30,131.33 386.30,130.88 386.30,130.43 386.30,129.97 386.30,129.52 386.30,129.07 386.30,128.65 386.30,128.61 386.30,128.16 386.30,127.71 386.30,127.25 386.30,126.80 386.30,126.35 386.30,125.90 386.30,125.44 386.27,124.99 386.23,124.54 386.20,124.08 386.16,123.63 386.13,123.18 386.10,122.72 386.08,122.30 386.08,122.27 386.05,121.82 386.03,121.37 386.00,120.91 385.98,120.46 385.97,120.01 385.95,119.55 385.95,119.30 385.95,119.10 385.94,118.65 385.94,118.19 385.93,117.74 385.93,117.29 385.92,116.84 385.92,116.38 385.91,115.93 385.91,115.48 385.90,115.02 385.90,114.57 385.90,114.12 385.89,113.66 385.89,113.21 385.88,112.76 385.88,112.31 385.88,111.85 385.88,111.40 385.87,110.95 385.87,110.49 385.87,110.04 385.87,109.59 385.86,109.13 385.86,108.68 385.86,108.23 385.86,107.78 385.86,107.32 385.86,106.87 385.85,106.42 385.85,105.96 385.85,105.51 385.85,105.06 385.85,104.60 385.85,104.15 385.85,103.70 385.85,103.25 385.85,102.80 385.85,102.79 385.86,102.34 385.87,101.89 385.89,101.43 385.92,100.98 385.94,100.53 385.97,100.07 385.99,99.80 386.00,99.62 386.02,99.17 386.05,98.72 386.08,98.26 386.11,97.81 386.15,97.36 386.18,96.90 386.22,96.45 386.25,96.00 386.29,95.54 386.30,95.09 386.30,94.64 386.30,94.19 386.30,93.73 386.30,93.28 386.30,92.83 386.30,92.40 386.30,92.37 386.30,91.92 386.30,91.47 386.30,91.01 386.30,90.56 386.30,90.11 386.30,89.66 386.30,89.20 386.30,88.75 386.30,88.30 386.30,87.84 386.30,87.39 386.30,86.94 386.30,86.48 386.30,86.03 386.30,85.58 386.30,85.13 386.30,84.67 386.30,84.22 386.30,83.77 386.30,83.31 386.30,82.86 386.30,82.41 386.30,82.00 386.30,81.95 386.30,81.50 386.30,81.05 386.30,81.00 386.30,80.60 386.30,80.14 386.30,79.69 386.30,79.24 386.30,78.78 386.30,78.33 386.30,77.88 386.30,77.42 386.30,76.97 386.30,76.52 386.30,76.07 386.30,75.61 386.30,75.16 386.30,74.71 386.30,74.25 386.30,73.80 386.30,73.35 386.30,72.89 386.30,72.44 386.30,71.99 386.30,71.54 386.30,71.08 386.30,70.63 386.30,70.18 386.30,69.72 386.30,69.27 386.30,68.82 386.30,68.36 386.30,67.91 386.30,67.46 386.30,67.01 386.30,66.55 386.30,66.10 Z" fill="#FDAF91" stroke="none"/>
<rect x="383.80" y="102.80" width="5.00" height="16.50" fill="#fff" stroke="#000" stroke-width="1.0" />
<line x1="383.80" y1="110.70" x2="388.80" y2="110.70" stroke="#000" stroke-width="1.0" />
<path d="M409.42,73.40 409.42,73.84 409.42,74.28 409.42,74.71 409.42,75.15 409.42,75.59 409.42,76.03 409.42,76.46 409.42,76.90 409.42,77.34 409.42,77.78 409.42,78.21 409.42,78.65 409.43,79.09 409.43,79.53 409.43,79.96 409.43,80.40 409.43,80.84 409.43,81.28 409.44,81.71 409.44,82.15 409.44,82.59 409.44,83.03 409.45,83.46 409.45,83.90 409.45,84.34 409.46,84.78 409.46,85.00 409.49,85.21 409.63,85.65 409.72,86.00 409.73,86.09 409.76,86.53 409.80,86.96 409.83,87.40 409.86,87.84 409.88,88.28 409.90,88.71 409.92,89.15 409.94,89.59 409.96,90.03 409.97,90.46 409.99,90.90 410.00,91.34 410.01,91.78 410.02,92.21 410.04,92.65 410.05,93.09 410.06,93.53 410.07,93.96 410.08,94.40 410.09,94.84 410.11,95.28 410.12,95.71 410.14,96.15 410.16,96.59 410.18,97.03 410.19,97.30 410.20,97.46 410.23,97.90 410.25,98.34 410.28,98.78 410.31,99.21 410.34,99.65 410.37,100.09 410.40,100.53 410.43,100.96 410.47,101.40 410.50,101.84 410.53,102.28 410.57,102.71 410.60,103.15 410.63,103.59 410.66,104.03 410.69,104.46 410.72,104.90 410.74,105.34 410.76,105.60 410.77,105.78 410.79,106.21 410.82,106.65 410.85,107.09 410.87,107.53 410.89,107.96 410.90,108.40 410.90,108.60 410.90,108.84 410.90,109.28 410.90,109.71 410.90,110.15 410.90,110.59 410.89,111.03 410.89,111.46 410.89,111.90 410.89,112.34 410.88,112.78 410.88,113.21 410.87,113.65 410.87,114.09 410.87,114.53 410.86,114.96 410.85,115.40 410.85,115.84 410.84,116.28 410.84,116.71 410.83,117.15 410.82,117.59 410.82,118.03 410.81,118.46 410.80,118.90 410.79,119.34 410.79,119.78 410.78,120.21 410.77,120.65 410.76,121.09 410.75,121.53 410.74,121.96 410.73,122.40 410.72,122.84 410.71,123.28 410.70,123.71 410.70,123.90 410.69,124.15 410.68,124.59 410.66,125.03 410.64,125.46 410.62,125.90 410.60,126.34 410.58,126.78 410.57,126.90 410.56,127.21 410.53,127.65 410.50,128.09 410.47,128.53 410.44,128.96 410.40,129.40 410.37,129.84 410.34,130.28 410.30,130.71 410.27,131.15 410.23,131.59 410.20,132.03 410.17,132.46 410.14,132.90 410.12,133.34 410.11,133.45 410.10,133.78 410.08,134.21 410.06,134.65 410.04,135.09 410.03,135.53 410.02,135.96 410.00,136.40 409.99,136.84 409.98,137.28 409.97,137.71 409.96,138.15 409.95,138.59 409.94,139.03 409.92,139.46 409.91,139.90 409.89,140.34 409.87,140.78 409.85,141.21 409.82,141.65 409.79,142.09 409.76,142.53 409.72,142.96 409.72,143.00 409.62,143.40 409.48,143.84 409.46,144.00 409.46,144.28 409.46,144.71 409.45,145.15 409.45,145.59 409.45,146.03 409.45,146.46 409.44,146.90 409.44,147.34 409.44,147.78 409.44,148.21 409.44,148.65 409.43,149.09 409.43,149.53 409.43,149.96 409.43,150.40 409.43,150.84 409.43,151.28 409.43,151.71 409.43,152.15 409.43,152.59 409.43,153.03 409.42,153.46 409.42,153.90 409.42,154.34 409.42,154.78 409.42,155.21 409.42,155.65 409.42,156.09 409.42,156.53 409.42,156.96 409.42,157.40 409.42,157.84 409.42,158.28 409.42,158.71 409.42,159.15 409.42,159.59 409.42,160.03 409.42,160.46 409.42,160.90 L408.78,160.90 408.78,160.46 408.78,160.03 408.78,159.59 408.78,159.15 408.78,158.71 408.78,158.28 408.78,157.84 408.78,157.40 408.78,156.96 408.78,156.53 408.78,156.09 408.78,155.65 408.78,155.21 408.78,154.78 408.78,154.34 408.78,153.90 408.78,153.46 408.77,153.03 408.77,152.59 408.77,152.15 408.77,151.71 408.77,151.28 408.77,150.84 408.77,150.40 408.77,149.96 408.77,149.53 408.77,149.09 408.76,148.65 408.76,148.21 408.76,147.78 408.76,147.34 408.76,146.90 408.75,146.46 408.75,146.03 408.75,145.59 408.75,145.15 408.74,144.71 408.74,144.28 408.74,144.00 408.72,143.84 408.58,143.40 408.48,143.00 408.48,142.96 408.44,142.53 408.41,142.09 408.38,141.65 408.35,141.21 408.33,140.78 408.31,140.34 408.29,139.90 408.28,139.46 408.26,139.03 408.25,138.59 408.24,138.15 408.23,137.71 408.22,137.28 408.21,136.84 408.20,136.40 408.18,135.96 408.17,135.53 408.16,135.09 408.14,134.65 408.12,134.21 408.10,133.78 408.09,133.45 408.08,133.34 408.06,132.90 408.03,132.46 408.00,132.03 407.97,131.59 407.93,131.15 407.90,130.71 407.86,130.28 407.83,129.84 407.80,129.40 407.76,128.96 407.73,128.53 407.70,128.09 407.67,127.65 407.64,127.21 407.63,126.90 407.62,126.78 407.60,126.34 407.58,125.90 407.56,125.46 407.54,125.03 407.52,124.59 407.51,124.15 407.50,123.90 407.50,123.71 407.49,123.28 407.48,122.84 407.47,122.40 407.46,121.96 407.45,121.53 407.44,121.09 407.43,120.65 407.42,120.21 407.41,119.78 407.41,119.34 407.40,118.90 407.39,118.46 407.38,118.03 407.38,117.59 407.37,117.15 407.36,116.71 407.36,116.28 407.35,115.84 407.35,115.40 407.34,114.96 407.33,114.53 407.33,114.09 407.33,113.65 407.32,113.21 407.32,112.78 407.31,112.34 407.31,111.90 407.31,111.46 407.31,111.03 407.30,110.59 407.30,110.15 407.30,109.71 407.30,109.28 407.30,108.84 407.30,108.60 407.30,108.40 407.31,107.96 407.33,107.53 407.35,107.09 407.38,106.65 407.41,106.21 407.43,105.78 407.44,105.60 407.46,105.34 407.48,104.90 407.51,104.46 407.54,104.03 407.57,103.59 407.60,103.15 407.63,102.71 407.67,102.28 407.70,101.84 407.73,101.40 407.77,100.96 407.80,100.53 407.83,100.09 407.86,99.65 407.89,99.21 407.92,98.78 407.95,98.34 407.97,97.90 408.00,97.46 408.01,97.30 408.02,97.03 408.04,96.59 408.06,96.15 408.08,95.71 408.09,95.28 408.11,94.84 408.12,94.40 408.13,93.96 408.14,93.53 408.15,93.09 408.16,92.65 408.18,92.21 408.19,91.78 408.20,91.34 408.21,90.90 408.23,90.46 408.24,90.03 408.26,89.59 408.28,89.15 408.30,88.71 408.32,88.28 408.34,87.84 408.37,87.40 408.40,86.96 408.44,86.53 408.47,86.09 408.48,86.00 408.57,85.65 408.71,85.21 408.74,85.00 408.74,84.78 408.75,84.34 408.75,83.90 408.75,83.46 408.76,83.03 408.76,82.59 408.76,82.15 408.76,81.71 408.77,81.28 408.77,80.84 408.77,80.40 408.77,79.96 408.77,79.53 408.77,79.09 408.78,78.65 408.78,78.21 408.78,77.78 408.78,77.34 408.78,76.90 408.78,76.46 408.78,76.03 408.78,75.59 408.78,75.15 408.78,74.71 408.78,74.28 408.78,73.84 408.78,73.40 Z" fill="#000" stroke="none"/>
<path d="M409.10,73.40 409.10,73.84 409.10,74.28 409.10,74.71 409.10,75.15 409.10,75.59 409.10,76.03 409.10,76.46 409.10,76.90 409.10,77.34 409.10,77.78 409.10,78.21 409.10,78.65 409.10,79.09 409.10,79.53 409.10,79.96 409.10,80.40 409.10,80.84 409.10,81.28 409.10,81.71 409.10,82.15 409.10,82.59 409.10,83.03 409.10,83.46 409.10,83.90 409.10,84.34 409.10,84.78 409.10,85.00 409.10,85.21 409.10,85.65 409.10,86.00 409.10,86.09 409.10,86.53 409.10,86.96 409.10,87.40 409.10,87.84 409.10,88.28 409.10,88.71 409.10,89.15 409.10,89.59 409.10,90.03 409.10,90.46 409.10,90.90 409.10,91.34 409.10,91.78 409.10,92.21 409.10,92.65 409.10,93.09 409.10,93.53 409.10,93.96 409.10,94.40 409.10,94.84 409.10,95.28 409.10,95.71 409.10,96.15 409.10,96.59 409.10,97.03 409.10,97.30 409.10,97.46 409.10,97.90 409.10,98.34 409.10,98.78 409.10,99.21 409.10,99.65 409.12,100.09 409.15,100.53 409.18,100.96 409.22,101.40 409.25,101.84 409.28,102.28 409.32,102.71 409.35,103.15 409.38,103.59 409.41,104.03 409.44,104.46 409.47,104.90 409.49,105.34 409.51,105.60 409.52,105.78 409.54,106.21 409.57,106.65 409.60,107.09 409.62,107.53 409.64,107.96 409.65,108.40 409.65,108.60 409.65,108.84 409.65,109.28 409.65,109.71 409.65,110.15 409.65,110.59 409.64,111.03 409.64,111.46 409.64,111.90 409.64,112.34 409.63,112.78 409.63,113.21 409.62,113.65 409.62,114.09 409.62,114.53 409.61,114.96 409.60,115.40 409.60,115.84 409.59,116.28 409.59,116.71 409.58,117.15 409.57,117.59 409.57,118.03 409.56,118.46 409.55,118.90 409.54,119.34 409.54,119.78 409.53,120.21 409.52,120.65 409.51,121.09 409.50,121.53 409.49,121.96 409.48,122.40 409.47,122.84 409.46,123.28 409.45,123.71 409.45,123.90 409.44,124.15 409.43,124.59 409.41,125.03 409.39,125.46 409.37,125.90 409.35,126.34 409.33,126.78 409.32,126.90 409.31,127.21 409.28,127.65 409.25,128.09 409.22,128.53 409.19,128.96 409.15,129.40 409.12,129.84 409.10,130.28 409.10,130.71 409.10,131.15 409.10,131.59 409.10,132.03 409.10,132.46 409.10,132.90 409.10,133.34 409.10,133.45 409.10,133.78 409.10,134.21 409.10,134.65 409.10,135.09 409.10,135.53 409.10,135.96 409.10,136.40 409.10,136.84 409.10,137.28 409.10,137.71 409.10,138.15 409.10,138.59 409.10,139.03 409.10,139.46 409.10,139.90 409.10,140.34 409.10,140.78 409.10,141.21 409.10,141.65 409.10,142.09 409.10,142.53 409.10,142.96 409.10,143.00 409.10,143.40 409.10,143.84 409.10,144.00 409.10,144.28 409.10,144.71 409.10,145.15 409.10,145.59 409.10,146.03 409.10,146.46 409.10,146.90 409.10,147.34 409.10,147.78 409.10,148.21 409.10,148.65 409.10,149.09 409.10,149.53 409.10,149.96 409.10,150.40 409.10,150.84 409.10,151.28 409.10,151.71 409.10,152.15 409.10,152.59 409.10,153.03 409.10,153.46 409.10,153.90 409.10,154.34 409.10,154.78 409.10,155.21 409.10,155.65 409.10,156.09 409.10,156.53 409.10,156.96 409.10,157.40 409.10,157.84 409.10,158.28 409.10,158.71 409.10,159.15 409.10,159.59 409.10,160.03 409.10,160.46 409.10,160.90 L409.10,160.90 409.10,160.46 409.10,160.03 409.10,159.59 409.10,159.15 409.10,158.71 409.10,158.28 409.10,157.84 409.10,157.40 409.10,156.96 409.10,156.53 409.10,156.09 409.10,155.65 409.10,155.21 409.10,154.78 409.10,154.34 409.10,153.90 409.10,153.46 409.10,153.03 409.10,152.59 409.10,152.15 409.10,151.71 409.10,151.28 409.10,150.84 409.10,150.40 409.10,149.96 409.10,149.53 409.10,149.09 409.10,148.65 409.10,148.21 409.10,147.78 409.10,147.34 409.10,146.90 409.10,146.46 409.10,146.03 409.10,145.59 409.10,145.15 409.10,144.71 409.10,144.28 409.10,144.00 409.10,143.84 409.10,143.40 409.10,143.00 409.10,142.96 409.10,142.53 409.10,142.09 409.10,141.65 409.10,141.21 409.10,140.78 409.10,140.34 409.10,139.90 409.10,139.46 409.10,139.03 409.10,138.59 409.10,138.15 409.10,137.71 409.10,137.28 409.10,136.84 409.10,136.40 409.10,135.96 409.10,135.53 409.10,135.09 409.10,134.65 409.10,134.21 409.10,133.78 409.10,133.45 409.10,133.34 409.10,132.90 409.10,132.46 409.10,132.03 409.10,131.59 409.10,131.15 409.10,130.71 409.10,130.28 409.08,129.84 409.05,129.40 409.01,128.96 408.98,128.53 408.95,128.09 408.92,127.65 408.89,127.21 408.88,126.90 408.87,126.78 408.85,126.34 408.83,125.90 408.81,125.46 408.79,125.03 408.77,124.59 408.76,124.15 408.75,123.90 408.75,123.71 408.74,123.28 408.73,122.84 408.72,122.40 408.71,121.96 408.70,121.53 408.69,121.09 408.68,120.65 408.67,120.21 408.66,119.78 408.66,119.34 408.65,118.90 408.64,118.46 408.63,118.03 408.63,117.59 408.62,117.15 408.61,116.71 408.61,116.28 408.60,115.84 408.60,115.40 408.59,114.96 408.58,114.53 408.58,114.09 408.58,113.65 408.57,113.21 408.57,112.78 408.56,112.34 408.56,111.90 408.56,111.46 408.56,111.03 408.55,110.59 408.55,110.15 408.55,109.71 408.55,109.28 408.55,108.84 408.55,108.60 408.55,108.40 408.56,107.96 408.58,107.53 408.60,107.09 408.63,106.65 408.66,106.21 408.68,105.78 408.69,105.60 408.71,105.34 408.73,104.90 408.76,104.46 408.79,104.03 408.82,103.59 408.85,103.15 408.88,102.71 408.92,102.28 408.95,101.84 408.98,101.40 409.02,100.96 409.05,100.53 409.08,100.09 409.10,99.65 409.10,99.21 409.10,98.78 409.10,98.34 409.10,97.90 409.10,97.46 409.10,97.30 409.10,97.03 409.10,96.59 409.10,96.15 409.10,95.71 409.10,95.28 409.10,94.84 409.10,94.40 409.10,93.96 409.10,93.53 409.10,93.09 409.10,92.65 409.10,92.21 409.10,91.78 409.10,91.34 409.10,90.90 409.10,90.46 409.10,90.03 409.10,89.59 409.10,89.15 409.10,88.71 409.10,88.28 409.10,87.84 409.10,87.40 409.10,86.96 409.10,86.53 409.10,86.09 409.10,86.00 409.10,85.65 409.10,85.21 409.10,85.00 409.10,84.78 409.10,84.34 409.10,83.90 409.10,83.46 409.10,83.03 409.10,82.59 409.10,82.15 409.10,81.71 409.10,81.28 409.10,80.84 409.10,80.40 409.10,79.96 409.10,79.53 409.10,79.09 409.10,78.65 409.10,78.21 409.10,77.78 409.10,77.34 409.10,76.90 409.10,76.46 409.10,76.03 409.10,75.59 409.10,75.15 409.10,74.71 409.10,74.28 409.10,73.84 409.10,73.40 Z" fill="#AD002A" stroke="none"/>
<rect x="406.60" y="108.60" width="5.00" height="15.30" fill="#fff" stroke="#000" stroke-width="1.0" />
<line x1="406.60" y1="112.70" x2="411.60" y2="112.70" stroke="#000" stroke-width="1.0" />
<path d="M432.92,54.10 432.92,54.76 432.92,55.43 432.92,56.09 432.92,56.75 432.92,57.42 432.92,58.08 432.92,58.74 432.92,59.41 432.92,60.07 432.92,60.73 432.92,61.40 432.92,62.06 432.92,62.73 432.92,63.39 432.93,64.05 432.93,64.72 432.93,65.38 432.93,66.04 432.93,66.71 432.93,67.37 432.93,68.03 432.93,68.70 432.94,69.36 432.94,70.02 432.94,70.69 432.94,71.35 432.95,72.01 432.95,72.68 432.95,73.34 432.95,74.00 432.96,74.67 432.96,75.00 433.02,75.33 433.22,76.00 433.22,76.00 433.26,76.66 433.29,77.32 433.31,77.99 433.34,78.65 433.36,79.31 433.38,79.98 433.39,80.64 433.41,81.30 433.42,81.97 433.43,82.63 433.44,83.29 433.45,83.96 433.46,84.62 433.47,85.28 433.47,85.95 433.48,86.61 433.49,87.28 433.50,87.94 433.52,88.60 433.53,89.27 433.55,89.93 433.55,90.05 433.57,90.59 433.59,91.26 433.61,91.92 433.63,92.58 433.65,93.25 433.67,93.91 433.70,94.57 433.72,95.24 433.74,95.90 433.77,96.56 433.79,97.23 433.82,97.89 433.84,98.55 433.86,99.22 433.89,99.88 433.91,100.55 433.93,101.10 433.94,101.21 433.97,101.87 434.00,102.54 434.03,103.20 434.05,103.86 434.05,104.10 434.05,104.53 434.06,105.19 434.06,105.85 434.06,106.52 434.06,107.18 434.07,107.84 434.07,108.51 434.07,109.17 434.07,109.83 434.08,110.50 434.08,111.16 434.08,111.82 434.08,112.49 434.08,113.15 434.08,113.82 434.09,114.48 434.09,115.14 434.09,115.81 434.09,116.47 434.09,117.13 434.09,117.80 434.09,118.46 434.09,119.12 434.09,119.79 434.10,120.45 434.10,121.11 434.10,121.78 434.10,122.44 434.10,123.10 434.10,123.77 434.10,124.43 434.10,125.09 434.10,125.76 434.10,126.42 434.10,127.09 434.10,127.75 434.10,128.41 434.10,129.08 434.10,129.50 434.10,129.74 434.08,130.40 434.05,131.07 434.01,131.73 433.98,132.39 433.98,132.50 433.96,133.06 433.94,133.72 433.92,134.38 433.90,135.05 433.88,135.71 433.86,136.37 433.84,137.04 433.82,137.70 433.80,138.36 433.78,139.03 433.77,139.69 433.75,140.36 433.73,141.02 433.72,141.68 433.70,142.35 433.68,143.01 433.67,143.67 433.65,144.34 433.64,145.00 433.62,145.66 433.60,146.33 433.59,146.99 433.57,147.65 433.57,147.75 433.56,148.32 433.55,148.98 433.54,149.64 433.53,150.31 433.52,150.97 433.51,151.63 433.50,152.30 433.49,152.96 433.49,153.63 433.48,154.29 433.47,154.95 433.47,155.62 433.46,156.28 433.45,156.94 433.45,157.61 433.44,158.27 433.43,158.93 433.42,159.60 433.41,160.26 433.39,160.92 433.38,161.59 433.36,162.25 433.34,162.91 433.32,163.58 433.30,164.24 433.27,164.90 433.24,165.57 433.22,166.00 433.18,166.23 432.97,166.90 432.96,167.00 432.96,167.56 432.95,168.22 432.95,168.89 432.95,169.55 432.94,170.21 432.94,170.88 432.94,171.54 432.94,172.20 432.93,172.87 432.93,173.53 432.93,174.19 432.93,174.86 432.93,175.52 432.93,176.18 432.93,176.85 432.92,177.51 432.92,178.17 432.92,178.84 432.92,179.50 432.92,180.17 432.92,180.83 432.92,181.49 432.92,182.16 432.92,182.82 432.92,183.48 432.92,184.15 432.92,184.81 432.92,185.47 432.92,186.14 432.92,186.80 L432.28,186.80 432.28,186.14 432.28,185.47 432.28,184.81 432.28,184.15 432.28,183.48 432.28,182.82 432.28,182.16 432.28,181.49 432.28,180.83 432.28,180.17 432.28,179.50 432.28,178.84 432.28,178.17 432.28,177.51 432.27,176.85 432.27,176.18 432.27,175.52 432.27,174.86 432.27,174.19 432.27,173.53 432.27,172.87 432.26,172.20 432.26,171.54 432.26,170.88 432.26,170.21 432.25,169.55 432.25,168.89 432.25,168.22 432.24,167.56 432.24,167.00 432.23,166.90 432.02,166.23 431.98,166.00 431.96,165.57 431.93,164.90 431.90,164.24 431.88,163.58 431.86,162.91 431.84,162.25 431.82,161.59 431.81,160.92 431.79,160.26 431.78,159.60 431.77,158.93 431.76,158.27 431.75,157.61 431.75,156.94 431.74,156.28 431.73,155.62 431.73,154.95 431.72,154.29 431.71,153.63 431.71,152.96 431.70,152.30 431.69,151.63 431.68,150.97 431.67,150.31 431.66,149.64 431.65,148.98 431.64,148.32 431.63,147.75 431.63,147.65 431.61,146.99 431.60,146.33 431.58,145.66 431.56,145.00 431.55,144.34 431.53,143.67 431.52,143.01 431.50,142.35 431.48,141.68 431.47,141.02 431.45,140.36 431.43,139.69 431.42,139.03 431.40,138.36 431.38,137.70 431.36,137.04 431.34,136.37 431.32,135.71 431.30,135.05 431.28,134.38 431.26,133.72 431.24,133.06 431.22,132.50 431.22,132.39 431.19,131.73 431.15,131.07 431.12,130.40 431.10,129.74 431.10,129.50 431.10,129.08 431.10,128.41 431.10,127.75 431.10,127.09 431.10,126.42 431.10,125.76 431.10,125.09 431.10,124.43 431.10,123.77 431.10,123.10 431.10,122.44 431.10,121.78 431.10,121.11 431.10,120.45 431.11,119.79 431.11,119.12 431.11,118.46 431.11,117.80 431.11,117.13 431.11,116.47 431.11,115.81 431.11,115.14 431.11,114.48 431.12,113.82 431.12,113.15 431.12,112.49 431.12,111.82 431.12,111.16 431.12,110.50 431.13,109.83 431.13,109.17 431.13,108.51 431.13,107.84 431.14,107.18 431.14,106.52 431.14,105.85 431.14,105.19 431.15,104.53 431.15,104.10 431.15,103.86 431.17,103.20 431.20,102.54 431.23,101.87 431.26,101.21 431.27,101.10 431.29,100.55 431.31,99.88 431.34,99.22 431.36,98.55 431.38,97.89 431.41,97.23 431.43,96.56 431.46,95.90 431.48,95.24 431.50,94.57 431.53,93.91 431.55,93.25 431.57,92.58 431.59,91.92 431.61,91.26 431.63,90.59 431.65,90.05 431.65,89.93 431.67,89.27 431.68,88.60 431.70,87.94 431.71,87.28 431.72,86.61 431.73,85.95 431.73,85.28 431.74,84.62 431.75,83.96 431.76,83.29 431.77,82.63 431.78,81.97 431.79,81.30 431.81,80.64 431.82,79.98 431.84,79.31 431.86,78.65 431.89,77.99 431.91,77.32 431.94,76.66 431.98,76.00 431.98,76.00 432.18,75.33 432.24,75.00 432.24,74.67 432.25,74.00 432.25,73.34 432.25,72.68 432.25,72.01 432.26,71.35 432.26,70.69 432.26,70.02 432.26,69.36 432.27,68.70 432.27,68.03 432.27,67.37 432.27,66.71 432.27,66.04 432.27,65.38 432.27,64.72 432.27,64.05 432.28,63.39 432.28,62.73 432.28,62.06 432.28,61.40 432.28,60.73 432.28,60.07 432.28,59.41 432.28,58.74 432.28,58.08 432.28,57.42 432.28,56.75 432.28,56.09 432.28,55.43 432.28,54.76 432.28,54.10 Z" fill="#000" stroke="none"/>
<path d="M432.60,54.10 432.60,54.76 432.60,55.43 432.60,56.09 432.60,56.75 432.60,57.42 432.60,58.08 432.60,58.74 432.60,59.41 432.60,60.07 432.60,60.73 432.60,61.40 432.60,62.06 432.60,62.73 432.60,63.39 432.60,64.05 432.60,64.72 432.60,65.38 432.60,66.04 432.60,66.71 432.60,67.37 432.60,68.03 432.60,68.70 432.60,69.36 432.60,70.02 432.60,70.69 432.60,71.35 432.60,72.01 432.60,72.68 432.60,73.34 432.60,74.00 432.60,74.67 432.60,75.00 432.60,75.33 432.60,76.00 432.60,76.00 432.60,76.66 432.60,77.32 432.60,77.99 432.60,78.65 432.60,79.31 432.60,79.98 432.60,80.64 432.60,81.30 432.60,81.97 432.60,82.63 432.60,83.29 432.60,83.96 432.60,84.62 432.60,85.28 432.60,85.95 432.60,86.61 432.60,87.28 432.60,87.94 432.60,88.60 432.60,89.27 432.60,89.93 432.60,90.05 432.60,90.59 432.60,91.26 432.60,91.92 432.60,92.58 432.60,93.25 432.60,93.91 432.60,94.57 432.60,95.24 432.60,95.90 432.60,96.56 432.60,97.23 432.60,97.89 432.60,98.55 432.61,99.22 432.64,99.88 432.66,100.55 432.68,101.10 432.69,101.21 432.72,101.87 432.75,102.54 432.78,103.20 432.80,103.86 432.80,104.10 432.80,104.53 432.81,105.19 432.81,105.85 432.81,106.52 432.81,107.18 432.82,107.84 432.82,108.51 432.82,109.17 432.82,109.83 432.83,110.50 432.83,111.16 432.83,111.82 432.83,112.49 432.83,113.15 432.83,113.82 432.84,114.48 432.84,115.14 432.84,115.81 432.84,116.47 432.84,117.13 432.84,117.80 432.84,118.46 432.84,119.12 432.84,119.79 432.85,120.45 432.85,121.11 432.85,121.78 432.85,122.44 432.85,123.10 432.85,123.77 432.85,124.43 432.85,125.09 432.85,125.76 432.85,126.42 432.85,127.09 432.85,127.75 432.85,128.41 432.85,129.08 432.85,129.50 432.85,129.74 432.83,130.40 432.80,131.07 432.76,131.73 432.73,132.39 432.73,132.50 432.71,133.06 432.69,133.72 432.67,134.38 432.65,135.05 432.63,135.71 432.61,136.37 432.60,137.04 432.60,137.70 432.60,138.36 432.60,139.03 432.60,139.69 432.60,140.36 432.60,141.02 432.60,141.68 432.60,142.35 432.60,143.01 432.60,143.67 432.60,144.34 432.60,145.00 432.60,145.66 432.60,146.33 432.60,146.99 432.60,147.65 432.60,147.75 432.60,148.32 432.60,148.98 432.60,149.64 432.60,150.31 432.60,150.97 432.60,151.63 432.60,152.30 432.60,152.96 432.60,153.63 432.60,154.29 432.60,154.95 432.60,155.62 432.60,156.28 432.60,156.94 432.60,157.61 432.60,158.27 432.60,158.93 432.60,159.60 432.60,160.26 432.60,160.92 432.60,161.59 432.60,162.25 432.60,162.91 432.60,163.58 432.60,164.24 432.60,164.90 432.60,165.57 432.60,166.00 432.60,166.23 432.60,166.90 432.60,167.00 432.60,167.56 432.60,168.22 432.60,168.89 432.60,169.55 432.60,170.21 432.60,170.88 432.60,171.54 432.60,172.20 432.60,172.87 432.60,173.53 432.60,174.19 432.60,174.86 432.60,175.52 432.60,176.18 432.60,176.85 432.60,177.51 432.60,178.17 432.60,178.84 432.60,179.50 432.60,180.17 432.60,180.83 432.60,181.49 432.60,182.16 432.60,182.82 432.60,183.48 432.60,184.15 432.60,184.81 432.60,185.47 432.60,186.14 432.60,186.80 L432.60,186.80 432.60,186.14 432.60,185.47 432.60,184.81 432.60,184.15 432.60,183.48 432.60,182.82 432.60,182.16 432.60,181.49 432.60,180.83 432.60,180.17 432.60,179.50 432.60,178.84 432.60,178.17 432.60,177.51 432.60,176.85 432.60,176.18 432.60,175.52 432.60,174.86 432.60,174.19 432.60,173.53 432.60,172.87 432.60,172.20 432.60,171.54 432.60,170.88 432.60,170.21 432.60,169.55 432.60,168.89 432.60,168.22 432.60,167.56 432.60,167.00 432.60,166.90 432.60,166.23 432.60,166.00 432.60,165.57 432.60,164.90 432.60,164.24 432.60,163.58 432.60,162.91 432.60,162.25 432.60,161.59 432.60,160.92 432.60,160.26 432.60,159.60 432.60,158.93 432.60,158.27 432.60,157.61 432.60,156.94 432.60,156.28 432.60,155.62 432.60,154.95 432.60,154.29 432.60,153.63 432.60,152.96 432.60,152.30 432.60,151.63 432.60,150.97 432.60,150.31 432.60,149.64 432.60,148.98 432.60,148.32 432.60,147.75 432.60,147.65 432.60,146.99 432.60,146.33 432.60,145.66 432.60,145.00 432.60,144.34 432.60,143.67 432.60,143.01 432.60,142.35 432.60,141.68 432.60,141.02 432.60,140.36 432.60,139.69 432.60,139.03 432.60,138.36 432.60,137.70 432.60,137.04 432.59,136.37 432.57,135.71 432.55,135.05 432.53,134.38 432.51,133.72 432.49,133.06 432.47,132.50 432.47,132.39 432.44,131.73 432.40,131.07 432.37,130.40 432.35,129.74 432.35,129.50 432.35,129.08 432.35,128.41 432.35,127.75 432.35,127.09 432.35,126.42 432.35,125.76 432.35,125.09 432.35,124.43 432.35,123.77 432.35,123.10 432.35,122.44 432.35,121.78 432.35,121.11 432.35,120.45 432.36,119.79 432.36,119.12 432.36,118.46 432.36,117.80 432.36,117.13 432.36,116.47 432.36,115.81 432.36,115.14 432.36,114.48 432.37,113.82 432.37,113.15 432.37,112.49 432.37,111.82 432.37,111.16 432.37,110.50 432.38,109.83 432.38,109.17 432.38,108.51 432.38,107.84 432.39,107.18 432.39,106.52 432.39,105.85 432.39,105.19 432.40,104.53 432.40,104.10 432.40,103.86 432.42,103.20 432.45,102.54 432.48,101.87 432.51,101.21 432.52,101.10 432.54,100.55 432.56,99.88 432.59,99.22 432.60,98.55 432.60,97.89 432.60,97.23 432.60,96.56 432.60,95.90 432.60,95.24 432.60,94.57 432.60,93.91 432.60,93.25 432.60,92.58 432.60,91.92 432.60,91.26 432.60,90.59 432.60,90.05 432.60,89.93 432.60,89.27 432.60,88.60 432.60,87.94 432.60,87.28 432.60,86.61 432.60,85.95 432.60,85.28 432.60,84.62 432.60,83.96 432.60,83.29 432.60,82.63 432.60,81.97 432.60,81.30 432.60,80.64 432.60,79.98 432.60,79.31 432.60,78.65 432.60,77.99 432.60,77.32 432.60,76.66 432.60,76.00 432.60,76.00 432.60,75.33 432.60,75.00 432.60,74.67 432.60,74.00 432.60,73.34 432.60,72.68 432.60,72.01 432.60,71.35 432.60,70.69 432.60,70.02 432.60,69.36 432.60,68.70 432.60,68.03 432.60,67.37 432.60,66.71 432.60,66.04 432.60,65.38 432.60,64.72 432.60,64.05 432.60,63.39 432.60,62.73 432.60,62.06 432.60,61.40 432.60,60.73 432.60,60.07 432.60,59.41 432.60,58.74 432.60,58.08 432.60,57.42 432.60,56.75 432.60,56.09 432.60,55.43 432.60,54.76 432.60,54.10 Z" fill="#ADB6B6" stroke="none"/>
<rect x="430.10" y="104.10" width="5.00" height="25.40" fill="#fff" stroke="#000" stroke-width="1.0" />
<line x1="430.10" y1="117.20" x2="435.10" y2="117.20" stroke="#000" stroke-width="1.0" />
<path d="M340.50,106.40 340.90,109.00 342.00,110.80 344.60,112.20 346.80,113.00 349.70,114.40 352.00,116.30 349.70,118.10 346.80,119.20 344.90,120.00 344.70,121.00 343.70,122.30 342.00,123.60 340.90,125.00 340.50,126.50 L340.10,126.50 339.70,125.00 338.60,123.60 336.90,122.30 335.90,121.00 335.70,120.00 333.80,119.20 330.90,118.10 328.60,116.30 330.90,114.40 333.80,113.00 336.00,112.20 338.60,110.80 339.70,109.00 340.10,106.40 Z" fill="#0099B4" stroke="#1a1a1a" stroke-width="0.85" stroke-linejoin="round"/>
<line x1="340.30" y1="118.50" x2="340.30" y2="122.90" stroke="#000" stroke-width="1.0" />
<rect x="337.60" y="114.80" width="5.40" height="3.70" fill="#bbb" stroke="#000" stroke-width="0.9" />
<line x1="257.60" y1="41.00" x2="257.60" y2="199.80" stroke="#666" stroke-width="1.0" />
<line x1="257.10" y1="199.30" x2="446.30" y2="199.30" stroke="#666" stroke-width="1.0" />
<line x1="271.20" y1="199.30" x2="271.20" y2="201.60" stroke="#333" stroke-width="0.9" />
<line x1="294.26" y1="199.30" x2="294.26" y2="201.60" stroke="#333" stroke-width="0.9" />
<line x1="317.32" y1="199.30" x2="317.32" y2="201.60" stroke="#333" stroke-width="0.9" />
<line x1="340.38" y1="199.30" x2="340.38" y2="201.60" stroke="#333" stroke-width="0.9" />
<line x1="363.44" y1="199.30" x2="363.44" y2="201.60" stroke="#333" stroke-width="0.9" />
<line x1="386.50" y1="199.30" x2="386.50" y2="201.60" stroke="#333" stroke-width="0.9" />
<line x1="409.56" y1="199.30" x2="409.56" y2="201.60" stroke="#333" stroke-width="0.9" />
<line x1="432.62" y1="199.30" x2="432.62" y2="201.60" stroke="#333" stroke-width="0.9" />
<line x1="255.30" y1="79.70" x2="257.60" y2="79.70" stroke="#333" stroke-width="0.9" />
<text x="252.60" y="82.30" font-size="7.8" fill="#4d4d4d" text-anchor="end" >20</text>
<line x1="255.30" y1="119.80" x2="257.60" y2="119.80" stroke="#333" stroke-width="0.9" />
<text x="252.60" y="122.40" font-size="7.8" fill="#4d4d4d" text-anchor="end" >0</text>
<line x1="255.30" y1="159.70" x2="257.60" y2="159.70" stroke="#333" stroke-width="0.9" />
<text x="252.60" y="162.30" font-size="7.8" fill="#4d4d4d" text-anchor="end" >-20</text>
<line x1="255.30" y1="199.30" x2="257.60" y2="199.30" stroke="#333" stroke-width="0.9" />
<text x="252.60" y="201.90" font-size="7.8" fill="#4d4d4d" text-anchor="end" >-40</text>
<text transform="translate(270.00,203.20) rotate(-45)" x="0" y="5.47" font-size="7.6" fill="#4d4d4d" text-anchor="end">L1_ILL_P</text>
<text transform="translate(293.06,203.20) rotate(-45)" x="0" y="5.47" font-size="7.6" fill="#4d4d4d" text-anchor="end">L1_ILL_R</text>
<text transform="translate(316.12,203.20) rotate(-45)" x="0" y="5.47" font-size="7.6" fill="#4d4d4d" text-anchor="end">L2_DNB_P</text>
<text transform="translate(339.18,203.20) rotate(-45)" x="0" y="5.47" font-size="7.6" fill="#4d4d4d" text-anchor="end">L2_DNB_R</text>
<text transform="translate(362.24,203.20) rotate(-45)" x="0" y="5.47" font-size="7.6" fill="#4d4d4d" text-anchor="end">L3_ILL_P</text>
<text transform="translate(385.30,203.20) rotate(-45)" x="0" y="5.47" font-size="7.6" fill="#4d4d4d" text-anchor="end">L3_ILL_R</text>
<text transform="translate(408.36,203.20) rotate(-45)" x="0" y="5.47" font-size="7.6" fill="#4d4d4d" text-anchor="end">L3_DNB_P</text>
<text transform="translate(431.42,203.20) rotate(-45)" x="0" y="5.47" font-size="7.6" fill="#4d4d4d" text-anchor="end">L3_DNB_R</text>
<text transform="translate(7.0,117.6) rotate(-90)" font-size="9.3" fill="#000" text-anchor="middle">ME (%)</text>
<text transform="translate(238.2,116.2) rotate(-90)" font-size="9.3" fill="#000" text-anchor="middle">ME (%)</text>
<text x="590.10" y="20.30" font-size="9" fill="#000" text-anchor="middle" >Measurement error</text>
<rect x="496.70" y="27.20" width="186.80" height="12.90" fill="#d9d9d9" stroke="#7a7a7a" stroke-width="0.9" />
<line x1="496.70" y1="40.10" x2="683.50" y2="40.10" stroke="#555" stroke-width="1.3" />
<text x="590.10" y="36.30" font-size="6.6" fill="#1a1a1a" text-anchor="middle" >Mix1/Mix2</text>
<line x1="683.50" y1="40.10" x2="683.50" y2="200.40" stroke="#8a8a8a" stroke-width="0.9" />
<line x1="496.70" y1="100.30" x2="683.50" y2="100.30" stroke="#2fbd6c" stroke-width="1.2" />
<path d="M510.20,62.00 510.20,62.49 510.20,62.98 510.20,63.47 510.21,63.96 510.21,64.45 510.22,64.94 510.22,65.43 510.23,65.92 510.24,66.41 510.25,66.90 510.26,67.39 510.27,67.88 510.28,68.37 510.29,68.86 510.30,69.35 510.32,69.84 510.33,70.33 510.34,70.82 510.36,71.31 510.38,71.80 510.39,72.29 510.41,72.78 510.43,73.27 510.45,73.76 510.47,74.25 510.49,74.74 510.51,75.23 510.53,75.72 510.55,76.21 510.58,76.70 510.60,77.19 510.62,77.68 510.65,78.17 510.67,78.66 510.70,79.15 510.70,79.20 510.73,79.64 510.76,80.13 510.81,80.62 510.86,81.11 510.91,81.60 510.98,82.09 511.05,82.58 511.12,83.07 511.20,83.56 511.28,84.05 511.36,84.54 511.45,85.03 511.54,85.52 511.63,86.01 511.72,86.50 511.81,86.99 511.90,87.48 511.99,87.97 512.00,88.00 512.09,88.46 512.20,88.95 512.31,89.44 512.43,89.93 512.55,90.42 512.68,90.91 512.80,91.40 512.93,91.89 513.05,92.38 513.17,92.87 513.20,93.00 513.29,93.36 513.43,93.85 513.57,94.34 513.72,94.83 513.86,95.32 513.99,95.81 514.09,96.30 514.16,96.79 514.20,97.28 514.20,97.40 514.20,97.77 514.18,98.26 514.16,98.75 514.13,99.24 514.10,99.73 514.06,100.22 514.02,100.71 513.97,101.20 513.92,101.69 513.88,102.18 513.83,102.67 513.80,103.00 513.79,103.16 513.74,103.65 513.69,104.14 513.64,104.63 513.59,105.12 513.54,105.61 513.48,106.10 513.43,106.59 513.37,107.08 513.31,107.57 513.25,108.06 513.18,108.55 513.12,109.04 513.06,109.53 513.00,110.00 513.00,110.02 512.93,110.51 512.86,111.00 512.79,111.49 512.71,111.98 512.64,112.47 512.56,112.96 512.47,113.45 512.39,113.94 512.31,114.43 512.24,114.92 512.16,115.41 512.09,115.90 512.02,116.39 511.95,116.88 511.89,117.37 511.83,117.86 511.80,118.20 511.79,118.35 511.74,118.84 511.70,119.33 511.65,119.82 511.61,120.31 511.58,120.80 511.54,121.29 511.50,121.78 511.47,122.27 511.44,122.76 511.41,123.25 511.37,123.74 511.34,124.23 511.32,124.72 511.30,125.00 511.29,125.21 511.26,125.70 511.23,126.19 511.21,126.68 511.18,127.17 511.16,127.66 511.13,128.15 511.11,128.64 511.08,129.13 511.06,129.62 511.04,130.11 511.02,130.60 511.00,131.09 510.98,131.58 510.96,132.07 510.94,132.56 510.92,133.05 510.91,133.54 510.90,133.70 510.89,134.03 510.87,134.52 510.86,135.01 510.84,135.50 510.83,135.99 510.82,136.48 510.80,136.97 510.79,137.46 510.78,137.95 510.77,138.44 510.75,138.93 510.74,139.42 510.73,139.91 510.72,140.40 510.71,140.89 510.70,141.38 510.69,141.87 510.68,142.36 510.67,142.85 510.65,143.34 510.64,143.83 510.63,144.32 510.62,144.81 510.61,145.30 510.60,145.79 510.59,146.28 510.58,146.77 510.57,147.26 510.55,147.75 510.54,148.24 510.53,148.73 510.52,149.22 510.51,149.71 510.50,149.90 510.49,150.20 510.48,150.69 510.46,151.18 510.45,151.67 510.44,152.16 510.42,152.65 510.41,153.14 510.39,153.63 510.38,154.12 510.37,154.61 510.35,155.10 510.34,155.59 510.32,156.08 510.31,156.57 510.29,157.06 510.28,157.55 510.26,158.04 510.25,158.53 510.23,159.02 510.22,159.51 510.20,160.00 L510.20,160.00 510.18,159.51 510.17,159.02 510.15,158.53 510.14,158.04 510.12,157.55 510.11,157.06 510.09,156.57 510.08,156.08 510.06,155.59 510.05,155.10 510.03,154.61 510.02,154.12 510.01,153.63 509.99,153.14 509.98,152.65 509.96,152.16 509.95,151.67 509.94,151.18 509.92,150.69 509.91,150.20 509.90,149.90 509.89,149.71 509.88,149.22 509.87,148.73 509.86,148.24 509.85,147.75 509.83,147.26 509.82,146.77 509.81,146.28 509.80,145.79 509.79,145.30 509.78,144.81 509.77,144.32 509.76,143.83 509.75,143.34 509.73,142.85 509.72,142.36 509.71,141.87 509.70,141.38 509.69,140.89 509.68,140.40 509.67,139.91 509.66,139.42 509.65,138.93 509.63,138.44 509.62,137.95 509.61,137.46 509.60,136.97 509.58,136.48 509.57,135.99 509.56,135.50 509.54,135.01 509.53,134.52 509.51,134.03 509.50,133.70 509.49,133.54 509.48,133.05 509.46,132.56 509.44,132.07 509.42,131.58 509.40,131.09 509.38,130.60 509.36,130.11 509.34,129.62 509.32,129.13 509.29,128.64 509.27,128.15 509.24,127.66 509.22,127.17 509.19,126.68 509.17,126.19 509.14,125.70 509.11,125.21 509.10,125.00 509.08,124.72 509.06,124.23 509.03,123.74 508.99,123.25 508.96,122.76 508.93,122.27 508.90,121.78 508.86,121.29 508.82,120.80 508.79,120.31 508.75,119.82 508.70,119.33 508.66,118.84 508.61,118.35 508.60,118.20 508.57,117.86 508.51,117.37 508.45,116.88 508.38,116.39 508.31,115.90 508.24,115.41 508.16,114.92 508.09,114.43 508.01,113.94 507.93,113.45 507.84,112.96 507.76,112.47 507.69,111.98 507.61,111.49 507.54,111.00 507.47,110.51 507.40,110.02 507.40,110.00 507.34,109.53 507.28,109.04 507.22,108.55 507.15,108.06 507.09,107.57 507.03,107.08 506.97,106.59 506.92,106.10 506.86,105.61 506.81,105.12 506.76,104.63 506.71,104.14 506.66,103.65 506.61,103.16 506.60,103.00 506.57,102.67 506.52,102.18 506.48,101.69 506.43,101.20 506.38,100.71 506.34,100.22 506.30,99.73 506.27,99.24 506.24,98.75 506.22,98.26 506.20,97.77 506.20,97.40 506.20,97.28 506.24,96.79 506.31,96.30 506.41,95.81 506.54,95.32 506.68,94.83 506.83,94.34 506.97,93.85 507.11,93.36 507.20,93.00 507.23,92.87 507.35,92.38 507.47,91.89 507.60,91.40 507.72,90.91 507.85,90.42 507.97,89.93 508.09,89.44 508.20,88.95 508.31,88.46 508.40,88.00 508.41,87.97 508.50,87.48 508.59,86.99 508.68,86.50 508.77,86.01 508.86,85.52 508.95,85.03 509.04,84.54 509.12,84.05 509.20,83.56 509.28,83.07 509.35,82.58 509.42,82.09 509.49,81.60 509.54,81.11 509.59,80.62 509.64,80.13 509.67,79.64 509.70,79.20 509.70,79.15 509.73,78.66 509.75,78.17 509.78,77.68 509.80,77.19 509.82,76.70 509.85,76.21 509.87,75.72 509.89,75.23 509.91,74.74 509.93,74.25 509.95,73.76 509.97,73.27 509.99,72.78 510.01,72.29 510.02,71.80 510.04,71.31 510.06,70.82 510.07,70.33 510.08,69.84 510.10,69.35 510.11,68.86 510.12,68.37 510.13,67.88 510.14,67.39 510.15,66.90 510.16,66.41 510.17,65.92 510.18,65.43 510.18,64.94 510.19,64.45 510.19,63.96 510.20,63.47 510.20,62.98 510.20,62.49 510.20,62.00 Z" fill="#00468B" stroke="#000" stroke-width="0.85" stroke-linejoin="round"/>
<line x1="510.20" y1="79.20" x2="510.20" y2="149.90" stroke="#000" stroke-width="1.15" />
<rect x="507.80" y="97.80" width="4.80" height="20.40" fill="#fff" stroke="#000" stroke-width="1.0" />
<line x1="507.80" y1="103.30" x2="512.60" y2="103.30" stroke="#000" stroke-width="1.0" />
<path d="M533.30,63.00 533.30,63.48 533.30,63.97 533.30,64.45 533.31,64.94 533.31,65.42 533.32,65.91 533.33,66.39 533.33,66.88 533.34,67.36 533.35,67.85 533.36,68.33 533.37,68.82 533.38,69.31 533.40,69.79 533.41,70.28 533.43,70.76 533.44,71.25 533.46,71.73 533.47,72.22 533.49,72.70 533.51,73.19 533.53,73.67 533.55,74.16 533.57,74.64 533.59,75.12 533.62,75.61 533.64,76.09 533.66,76.58 533.69,77.06 533.71,77.55 533.74,78.03 533.76,78.52 533.79,79.00 533.80,79.20 533.82,79.49 533.85,79.97 533.90,80.46 533.95,80.94 534.00,81.43 534.07,81.91 534.14,82.40 534.21,82.89 534.29,83.37 534.38,83.86 534.47,84.34 534.57,84.83 534.67,85.31 534.78,85.80 534.89,86.28 535.00,86.77 535.11,87.25 535.23,87.73 535.30,88.00 535.36,88.22 535.51,88.70 535.69,89.19 535.88,89.67 536.09,90.16 536.31,90.64 536.53,91.13 536.74,91.61 536.90,92.00 536.94,92.10 537.16,92.59 537.42,93.07 537.68,93.56 537.94,94.04 538.18,94.53 538.40,95.01 538.56,95.50 538.67,95.98 538.70,96.40 538.70,96.47 538.69,96.95 538.67,97.44 538.64,97.92 538.59,98.41 538.54,98.89 538.49,99.38 538.43,99.86 538.38,100.34 538.32,100.83 538.30,101.00 538.26,101.31 538.20,101.80 538.14,102.28 538.07,102.77 537.99,103.25 537.91,103.74 537.83,104.22 537.75,104.71 537.66,105.19 537.57,105.68 537.48,106.16 537.39,106.65 537.30,107.13 537.21,107.62 537.12,108.10 537.04,108.59 536.95,109.08 536.87,109.56 536.80,110.00 536.79,110.05 536.72,110.53 536.64,111.02 536.56,111.50 536.48,111.98 536.39,112.47 536.31,112.95 536.23,113.44 536.15,113.92 536.08,114.41 536.00,114.90 535.92,115.38 535.85,115.87 535.78,116.35 535.71,116.84 535.65,117.32 535.59,117.81 535.53,118.29 535.50,118.60 535.48,118.78 535.43,119.26 535.38,119.75 535.34,120.23 535.29,120.72 535.25,121.20 535.21,121.69 535.17,122.17 535.13,122.66 535.09,123.14 535.05,123.62 535.01,124.11 534.98,124.59 534.94,125.08 534.91,125.56 534.87,126.05 534.84,126.53 534.80,127.02 534.77,127.50 534.74,127.99 534.70,128.47 534.67,128.96 534.64,129.44 534.60,129.93 534.60,130.00 534.57,130.42 534.54,130.90 534.50,131.38 534.47,131.87 534.43,132.36 534.40,132.84 534.37,133.32 534.33,133.81 534.30,134.30 534.26,134.78 534.23,135.26 534.20,135.75 534.17,136.24 534.13,136.72 534.10,137.20 534.07,137.69 534.04,138.18 534.01,138.66 533.98,139.14 533.95,139.63 533.93,140.12 533.90,140.60 533.87,141.08 533.85,141.57 533.83,142.06 533.80,142.54 533.78,143.03 533.76,143.51 533.75,143.80 533.74,144.00 533.72,144.48 533.71,144.97 533.69,145.45 533.67,145.94 533.65,146.42 533.63,146.91 533.62,147.39 533.60,147.88 533.58,148.36 533.56,148.84 533.55,149.33 533.53,149.81 533.52,150.30 533.50,150.78 533.48,151.27 533.47,151.75 533.46,152.24 533.44,152.72 533.43,153.21 533.42,153.69 533.40,154.18 533.39,154.67 533.38,155.15 533.37,155.63 533.36,156.12 533.35,156.61 533.34,157.09 533.33,157.57 533.32,158.06 533.32,158.55 533.31,159.03 533.30,159.51 533.30,160.00 L533.30,160.00 533.30,159.51 533.29,159.03 533.28,158.55 533.28,158.06 533.27,157.57 533.26,157.09 533.25,156.61 533.24,156.12 533.23,155.63 533.22,155.15 533.21,154.67 533.20,154.18 533.18,153.69 533.17,153.21 533.16,152.72 533.14,152.24 533.13,151.75 533.12,151.27 533.10,150.78 533.08,150.30 533.07,149.81 533.05,149.33 533.04,148.84 533.02,148.36 533.00,147.88 532.98,147.39 532.97,146.91 532.95,146.42 532.93,145.94 532.91,145.45 532.89,144.97 532.88,144.48 532.86,144.00 532.85,143.80 532.84,143.51 532.82,143.03 532.80,142.54 532.77,142.06 532.75,141.57 532.73,141.08 532.70,140.60 532.67,140.12 532.65,139.63 532.62,139.14 532.59,138.66 532.56,138.18 532.53,137.69 532.50,137.20 532.47,136.72 532.43,136.24 532.40,135.75 532.37,135.26 532.34,134.78 532.30,134.30 532.27,133.81 532.23,133.32 532.20,132.84 532.17,132.36 532.13,131.87 532.10,131.38 532.06,130.90 532.03,130.42 532.00,130.00 532.00,129.93 531.96,129.44 531.93,128.96 531.90,128.47 531.86,127.99 531.83,127.50 531.80,127.02 531.76,126.53 531.73,126.05 531.69,125.56 531.66,125.08 531.62,124.59 531.59,124.11 531.55,123.62 531.51,123.14 531.47,122.66 531.43,122.17 531.39,121.69 531.35,121.20 531.31,120.72 531.26,120.23 531.22,119.75 531.17,119.26 531.12,118.78 531.10,118.60 531.07,118.29 531.01,117.81 530.95,117.32 530.89,116.84 530.82,116.35 530.75,115.87 530.68,115.38 530.60,114.90 530.52,114.41 530.45,113.92 530.37,113.44 530.29,112.95 530.21,112.47 530.12,111.98 530.04,111.50 529.96,111.02 529.88,110.53 529.81,110.05 529.80,110.00 529.73,109.56 529.65,109.08 529.56,108.59 529.48,108.10 529.39,107.62 529.30,107.13 529.21,106.65 529.12,106.16 529.03,105.68 528.94,105.19 528.85,104.71 528.77,104.22 528.69,103.74 528.61,103.25 528.53,102.77 528.46,102.28 528.40,101.80 528.34,101.31 528.30,101.00 528.28,100.83 528.22,100.34 528.17,99.86 528.11,99.38 528.06,98.89 528.01,98.41 527.96,97.92 527.93,97.44 527.91,96.95 527.90,96.47 527.90,96.40 527.93,95.98 528.04,95.50 528.20,95.01 528.42,94.53 528.66,94.04 528.92,93.56 529.18,93.07 529.44,92.59 529.66,92.10 529.70,92.00 529.86,91.61 530.07,91.13 530.29,90.64 530.51,90.16 530.72,89.67 530.91,89.19 531.09,88.70 531.24,88.22 531.30,88.00 531.37,87.73 531.49,87.25 531.60,86.77 531.71,86.28 531.82,85.80 531.93,85.31 532.03,84.83 532.13,84.34 532.22,83.86 532.31,83.37 532.39,82.89 532.46,82.40 532.53,81.91 532.60,81.43 532.65,80.94 532.70,80.46 532.75,79.97 532.78,79.49 532.80,79.20 532.81,79.00 532.84,78.52 532.86,78.03 532.89,77.55 532.91,77.06 532.94,76.58 532.96,76.09 532.98,75.61 533.01,75.12 533.03,74.64 533.05,74.16 533.07,73.67 533.09,73.19 533.11,72.70 533.13,72.22 533.14,71.73 533.16,71.25 533.17,70.76 533.19,70.28 533.20,69.79 533.22,69.31 533.23,68.82 533.24,68.33 533.25,67.85 533.26,67.36 533.27,66.88 533.27,66.39 533.28,65.91 533.29,65.42 533.29,64.94 533.30,64.45 533.30,63.97 533.30,63.48 533.30,63.00 Z" fill="#ED0000" stroke="#000" stroke-width="0.85" stroke-linejoin="round"/>
<line x1="533.30" y1="79.20" x2="533.30" y2="145.00" stroke="#000" stroke-width="1.15" />
<rect x="530.90" y="100.40" width="4.80" height="18.20" fill="#fff" stroke="#000" stroke-width="1.0" />
<line x1="530.90" y1="105.10" x2="535.70" y2="105.10" stroke="#000" stroke-width="1.0" />
<path d="M556.20,83.10 556.23,83.30 556.27,83.50 556.31,83.71 556.34,83.91 556.38,84.11 556.42,84.31 556.46,84.52 556.50,84.72 556.54,84.92 556.58,85.12 556.62,85.33 556.66,85.53 556.71,85.73 556.75,85.93 556.79,86.14 556.84,86.34 556.88,86.54 556.93,86.74 556.98,86.95 557.02,87.15 557.07,87.35 557.12,87.55 557.17,87.76 557.20,87.90 557.21,87.96 557.26,88.16 557.31,88.36 557.36,88.57 557.41,88.77 557.45,88.97 557.50,89.17 557.55,89.38 557.60,89.58 557.64,89.78 557.69,89.98 557.74,90.19 557.79,90.39 557.85,90.59 557.90,90.79 557.96,91.00 558.01,91.20 558.07,91.40 558.14,91.60 558.20,91.81 558.27,92.01 558.33,92.21 558.41,92.41 558.48,92.62 558.56,92.82 558.64,93.02 558.72,93.22 558.80,93.40 558.81,93.43 558.91,93.63 559.01,93.83 559.13,94.03 559.25,94.24 559.39,94.44 559.53,94.64 559.68,94.84 559.83,95.05 560.00,95.25 560.17,95.45 560.35,95.66 560.54,95.86 560.73,96.06 560.93,96.26 561.13,96.46 561.34,96.67 561.56,96.87 561.70,97.00 561.78,97.07 562.06,97.27 562.39,97.48 562.77,97.68 563.19,97.88 563.63,98.08 564.08,98.29 564.54,98.49 564.99,98.69 565.43,98.89 565.85,99.10 566.22,99.30 566.55,99.50 566.82,99.70 567.03,99.91 567.16,100.11 567.20,100.30 567.20,100.31 567.16,100.51 567.04,100.72 566.87,100.92 566.65,101.12 566.40,101.32 566.13,101.53 565.85,101.73 565.57,101.93 565.30,102.13 565.06,102.34 564.90,102.50 564.86,102.54 564.68,102.74 564.49,102.94 564.31,103.15 564.14,103.35 563.96,103.55 563.79,103.75 563.62,103.96 563.45,104.16 563.28,104.36 563.12,104.56 562.96,104.77 562.81,104.97 562.65,105.17 562.50,105.38 562.36,105.58 562.21,105.78 562.20,105.80 562.07,105.98 561.93,106.19 561.79,106.39 561.64,106.59 561.50,106.79 561.36,106.99 561.22,107.20 561.08,107.40 560.94,107.60 560.80,107.80 560.67,108.01 560.53,108.21 560.40,108.41 560.27,108.61 560.15,108.82 560.02,109.02 559.90,109.22 559.79,109.42 559.67,109.63 559.56,109.83 559.46,110.03 559.35,110.23 559.26,110.44 559.17,110.64 559.08,110.84 559.00,111.04 558.92,111.25 558.90,111.30 558.85,111.45 558.78,111.65 558.71,111.85 558.64,112.06 558.58,112.26 558.52,112.46 558.46,112.66 558.40,112.87 558.34,113.07 558.28,113.27 558.23,113.47 558.17,113.68 558.12,113.88 558.07,114.08 558.02,114.28 557.97,114.49 557.93,114.69 557.88,114.89 557.83,115.09 557.79,115.30 557.74,115.50 557.70,115.70 557.66,115.91 557.61,116.11 557.57,116.31 557.53,116.51 557.49,116.72 557.44,116.92 557.40,117.12 557.36,117.32 557.32,117.52 557.28,117.73 557.24,117.93 557.20,118.10 557.19,118.13 557.15,118.33 557.11,118.54 557.07,118.74 557.03,118.94 556.99,119.14 556.95,119.35 556.91,119.55 556.87,119.75 556.83,119.95 556.79,120.16 556.75,120.36 556.71,120.56 556.68,120.76 556.64,120.97 556.60,121.17 556.57,121.37 556.53,121.57 556.50,121.78 556.46,121.98 556.43,122.18 556.39,122.38 556.36,122.59 556.33,122.79 556.29,122.99 556.26,123.19 556.23,123.40 556.20,123.60 L556.20,123.60 556.17,123.40 556.14,123.19 556.11,122.99 556.07,122.79 556.04,122.59 556.01,122.38 555.97,122.18 555.94,121.98 555.90,121.78 555.87,121.57 555.83,121.37 555.80,121.17 555.76,120.97 555.72,120.76 555.69,120.56 555.65,120.36 555.61,120.16 555.57,119.95 555.53,119.75 555.49,119.55 555.45,119.35 555.41,119.14 555.37,118.94 555.33,118.74 555.29,118.54 555.25,118.33 555.21,118.13 555.20,118.10 555.16,117.93 555.12,117.73 555.08,117.52 555.04,117.32 555.00,117.12 554.96,116.92 554.91,116.72 554.87,116.51 554.83,116.31 554.79,116.11 554.74,115.91 554.70,115.70 554.66,115.50 554.61,115.30 554.57,115.09 554.52,114.89 554.47,114.69 554.43,114.49 554.38,114.28 554.33,114.08 554.28,113.88 554.23,113.68 554.17,113.47 554.12,113.27 554.06,113.07 554.00,112.87 553.94,112.66 553.88,112.46 553.82,112.26 553.76,112.06 553.69,111.85 553.62,111.65 553.55,111.45 553.50,111.30 553.48,111.25 553.40,111.04 553.32,110.84 553.23,110.64 553.14,110.44 553.05,110.23 552.94,110.03 552.84,109.83 552.73,109.63 552.61,109.42 552.50,109.22 552.38,109.02 552.25,108.82 552.13,108.61 552.00,108.41 551.87,108.21 551.73,108.01 551.60,107.80 551.46,107.60 551.32,107.40 551.18,107.20 551.04,106.99 550.90,106.79 550.76,106.59 550.61,106.39 550.47,106.19 550.33,105.98 550.20,105.80 550.19,105.78 550.04,105.58 549.90,105.38 549.75,105.17 549.59,104.97 549.44,104.77 549.28,104.56 549.12,104.36 548.95,104.16 548.78,103.96 548.61,103.75 548.44,103.55 548.26,103.35 548.09,103.15 547.91,102.94 547.72,102.74 547.54,102.54 547.50,102.50 547.34,102.34 547.10,102.13 546.83,101.93 546.55,101.73 546.27,101.53 546.00,101.32 545.75,101.12 545.53,100.92 545.36,100.72 545.24,100.51 545.20,100.31 545.20,100.30 545.24,100.11 545.37,99.91 545.58,99.70 545.85,99.50 546.18,99.30 546.55,99.10 546.97,98.89 547.41,98.69 547.86,98.49 548.32,98.29 548.77,98.08 549.21,97.88 549.63,97.68 550.01,97.48 550.34,97.27 550.62,97.07 550.70,97.00 550.84,96.87 551.06,96.67 551.27,96.46 551.47,96.26 551.67,96.06 551.86,95.86 552.05,95.66 552.23,95.45 552.40,95.25 552.57,95.05 552.72,94.84 552.87,94.64 553.01,94.44 553.15,94.24 553.27,94.03 553.39,93.83 553.49,93.63 553.59,93.43 553.60,93.40 553.68,93.22 553.76,93.02 553.84,92.82 553.92,92.62 553.99,92.41 554.07,92.21 554.13,92.01 554.20,91.81 554.26,91.60 554.33,91.40 554.39,91.20 554.44,91.00 554.50,90.79 554.55,90.59 554.61,90.39 554.66,90.19 554.71,89.98 554.76,89.78 554.80,89.58 554.85,89.38 554.90,89.17 554.95,88.97 554.99,88.77 555.04,88.57 555.09,88.36 555.14,88.16 555.19,87.96 555.20,87.90 555.23,87.76 555.28,87.55 555.33,87.35 555.38,87.15 555.42,86.95 555.47,86.74 555.52,86.54 555.56,86.34 555.61,86.14 555.65,85.93 555.69,85.73 555.74,85.53 555.78,85.33 555.82,85.12 555.86,84.92 555.90,84.72 555.94,84.52 555.98,84.31 556.02,84.11 556.06,83.91 556.09,83.71 556.13,83.50 556.17,83.30 556.20,83.10 Z" fill="#42B540" stroke="#000" stroke-width="0.85" stroke-linejoin="round"/>
<line x1="556.20" y1="90.60" x2="556.20" y2="115.40" stroke="#000" stroke-width="1.15" />
<rect x="553.80" y="98.90" width="4.80" height="7.60" fill="#fff" stroke="#000" stroke-width="1.0" />
<line x1="553.80" y1="102.70" x2="558.60" y2="102.70" stroke="#000" stroke-width="1.0" />
<path d="M578.90,78.90 578.90,79.20 578.91,79.50 578.92,79.80 578.93,80.10 578.95,80.40 578.97,80.70 579.00,81.00 579.02,81.30 579.05,81.60 579.09,81.90 579.13,82.19 579.17,82.49 579.21,82.79 579.26,83.09 579.31,83.39 579.36,83.69 579.41,83.99 579.47,84.29 579.53,84.59 579.59,84.89 579.65,85.19 579.72,85.49 579.78,85.79 579.85,86.09 579.92,86.39 580.00,86.69 580.07,86.99 580.14,87.29 580.22,87.59 580.30,87.89 580.30,87.90 580.38,88.18 580.49,88.48 580.62,88.78 580.77,89.08 580.94,89.38 581.11,89.68 581.30,89.98 581.50,90.28 581.70,90.58 581.91,90.88 582.13,91.18 582.34,91.48 582.56,91.78 582.77,92.08 582.97,92.38 583.17,92.68 583.35,92.98 583.53,93.28 583.60,93.40 583.70,93.58 583.87,93.88 584.06,94.17 584.25,94.47 584.44,94.77 584.64,95.07 584.84,95.37 585.04,95.67 585.24,95.97 585.43,96.27 585.62,96.57 585.79,96.87 585.96,97.17 586.12,97.47 586.26,97.77 586.38,98.07 586.49,98.37 586.58,98.67 586.64,98.97 586.68,99.27 586.70,99.57 586.70,99.60 586.69,99.87 586.67,100.16 586.64,100.46 586.59,100.76 586.53,101.06 586.46,101.36 586.37,101.66 586.28,101.96 586.18,102.26 586.08,102.56 585.96,102.86 585.84,103.16 585.72,103.46 585.59,103.76 585.46,104.06 585.33,104.36 585.20,104.66 585.06,104.96 584.93,105.26 584.80,105.56 584.70,105.80 584.68,105.86 584.54,106.15 584.38,106.45 584.21,106.75 584.02,107.05 583.83,107.35 583.62,107.65 583.41,107.95 583.20,108.25 582.99,108.55 582.78,108.85 582.58,109.15 582.38,109.45 582.20,109.75 582.02,110.05 581.87,110.35 581.73,110.65 581.61,110.95 581.51,111.25 581.50,111.30 581.44,111.55 581.36,111.85 581.30,112.14 581.23,112.44 581.17,112.74 581.10,113.04 581.05,113.34 580.99,113.64 580.94,113.94 580.89,114.24 580.84,114.54 580.79,114.84 580.75,115.14 580.71,115.44 580.67,115.74 580.63,116.04 580.59,116.34 580.56,116.64 580.52,116.94 580.49,117.24 580.46,117.54 580.43,117.84 580.40,118.10 580.40,118.13 580.37,118.43 580.34,118.73 580.31,119.03 580.29,119.33 580.26,119.63 580.24,119.93 580.22,120.23 580.20,120.53 580.17,120.83 580.15,121.13 580.13,121.43 580.11,121.73 580.09,122.03 580.08,122.33 580.06,122.63 580.04,122.93 580.02,123.23 580.00,123.53 579.98,123.83 579.96,124.12 579.94,124.42 579.92,124.72 579.90,125.00 579.90,125.02 579.88,125.32 579.86,125.62 579.83,125.92 579.81,126.22 579.79,126.52 579.77,126.82 579.75,127.12 579.73,127.42 579.71,127.72 579.68,128.02 579.66,128.32 579.64,128.62 579.62,128.92 579.60,129.22 579.58,129.52 579.56,129.81 579.54,130.11 579.51,130.41 579.49,130.71 579.47,131.01 579.45,131.31 579.43,131.61 579.41,131.91 579.40,132.00 579.38,132.21 579.36,132.51 579.34,132.81 579.32,133.11 579.30,133.41 579.28,133.71 579.25,134.01 579.23,134.31 579.21,134.61 579.19,134.91 579.17,135.21 579.14,135.51 579.12,135.81 579.10,136.10 579.08,136.40 579.06,136.70 579.03,137.00 579.01,137.30 578.99,137.60 578.97,137.90 578.94,138.20 578.92,138.50 578.90,138.80 L578.90,138.80 578.88,138.50 578.86,138.20 578.83,137.90 578.81,137.60 578.79,137.30 578.77,137.00 578.74,136.70 578.72,136.40 578.70,136.10 578.68,135.81 578.66,135.51 578.63,135.21 578.61,134.91 578.59,134.61 578.57,134.31 578.55,134.01 578.52,133.71 578.50,133.41 578.48,133.11 578.46,132.81 578.44,132.51 578.42,132.21 578.40,132.00 578.39,131.91 578.37,131.61 578.35,131.31 578.33,131.01 578.31,130.71 578.29,130.41 578.26,130.11 578.24,129.81 578.22,129.52 578.20,129.22 578.18,128.92 578.16,128.62 578.14,128.32 578.12,128.02 578.09,127.72 578.07,127.42 578.05,127.12 578.03,126.82 578.01,126.52 577.99,126.22 577.97,125.92 577.94,125.62 577.92,125.32 577.90,125.02 577.90,125.00 577.88,124.72 577.86,124.42 577.84,124.12 577.82,123.83 577.80,123.53 577.78,123.23 577.76,122.93 577.74,122.63 577.72,122.33 577.71,122.03 577.69,121.73 577.67,121.43 577.65,121.13 577.63,120.83 577.60,120.53 577.58,120.23 577.56,119.93 577.54,119.63 577.51,119.33 577.49,119.03 577.46,118.73 577.43,118.43 577.40,118.13 577.40,118.10 577.37,117.84 577.34,117.54 577.31,117.24 577.28,116.94 577.24,116.64 577.21,116.34 577.17,116.04 577.13,115.74 577.09,115.44 577.05,115.14 577.01,114.84 576.96,114.54 576.91,114.24 576.86,113.94 576.81,113.64 576.75,113.34 576.70,113.04 576.63,112.74 576.57,112.44 576.50,112.14 576.44,111.85 576.36,111.55 576.30,111.30 576.29,111.25 576.19,110.95 576.07,110.65 575.93,110.35 575.78,110.05 575.60,109.75 575.42,109.45 575.22,109.15 575.02,108.85 574.81,108.55 574.60,108.25 574.39,107.95 574.18,107.65 573.97,107.35 573.78,107.05 573.59,106.75 573.42,106.45 573.26,106.15 573.12,105.86 573.10,105.80 573.00,105.56 572.87,105.26 572.74,104.96 572.60,104.66 572.47,104.36 572.34,104.06 572.21,103.76 572.08,103.46 571.96,103.16 571.84,102.86 571.72,102.56 571.62,102.26 571.52,101.96 571.43,101.66 571.34,101.36 571.27,101.06 571.21,100.76 571.16,100.46 571.13,100.16 571.11,99.87 571.10,99.60 571.10,99.57 571.12,99.27 571.16,98.97 571.22,98.67 571.31,98.37 571.42,98.07 571.54,97.77 571.68,97.47 571.84,97.17 572.01,96.87 572.18,96.57 572.37,96.27 572.56,95.97 572.76,95.67 572.96,95.37 573.16,95.07 573.36,94.77 573.55,94.47 573.74,94.17 573.93,93.88 574.10,93.58 574.20,93.40 574.27,93.28 574.45,92.98 574.63,92.68 574.83,92.38 575.03,92.08 575.24,91.78 575.46,91.48 575.67,91.18 575.89,90.88 576.10,90.58 576.30,90.28 576.50,89.98 576.69,89.68 576.86,89.38 577.03,89.08 577.18,88.78 577.31,88.48 577.42,88.18 577.50,87.90 577.50,87.89 577.58,87.59 577.66,87.29 577.73,86.99 577.80,86.69 577.88,86.39 577.95,86.09 578.02,85.79 578.08,85.49 578.15,85.19 578.21,84.89 578.27,84.59 578.33,84.29 578.39,83.99 578.44,83.69 578.49,83.39 578.54,83.09 578.59,82.79 578.63,82.49 578.67,82.19 578.71,81.90 578.75,81.60 578.78,81.30 578.80,81.00 578.83,80.70 578.85,80.40 578.87,80.10 578.88,79.80 578.89,79.50 578.90,79.20 578.90,78.90 Z" fill="#0099B4" stroke="#000" stroke-width="0.85" stroke-linejoin="round"/>
<line x1="578.90" y1="87.90" x2="578.90" y2="129.10" stroke="#000" stroke-width="1.15" />
<rect x="576.50" y="98.20" width="4.80" height="13.10" fill="#fff" stroke="#000" stroke-width="1.0" />
<line x1="576.50" y1="103.30" x2="581.30" y2="103.30" stroke="#000" stroke-width="1.0" />
<path d="M601.70,75.10 601.70,75.45 601.70,75.80 601.71,76.16 601.71,76.51 601.72,76.86 601.73,77.21 601.74,77.57 601.76,77.92 601.77,78.27 601.79,78.62 601.81,78.98 601.83,79.33 601.85,79.68 601.87,80.03 601.89,80.39 601.92,80.74 601.95,81.09 601.98,81.44 602.01,81.80 602.04,82.15 602.07,82.50 602.11,82.85 602.14,83.21 602.18,83.56 602.22,83.91 602.26,84.26 602.30,84.62 602.34,84.97 602.39,85.32 602.43,85.67 602.48,86.03 602.53,86.38 602.57,86.73 602.62,87.08 602.68,87.44 602.70,87.60 602.73,87.79 602.81,88.14 602.91,88.49 603.03,88.85 603.17,89.20 603.33,89.55 603.50,89.91 603.68,90.26 603.86,90.61 604.06,90.96 604.25,91.31 604.45,91.67 604.65,92.02 604.84,92.37 605.03,92.72 605.20,93.08 605.37,93.43 605.40,93.50 605.53,93.78 605.70,94.13 605.88,94.49 606.07,94.84 606.27,95.19 606.47,95.54 606.67,95.90 606.87,96.25 607.07,96.60 607.27,96.95 607.47,97.31 607.66,97.66 607.84,98.01 608.02,98.36 608.18,98.72 608.33,99.07 608.47,99.42 608.59,99.77 608.69,100.13 608.78,100.48 608.84,100.83 608.88,101.19 608.90,101.54 608.90,101.60 608.89,101.89 608.84,102.24 608.75,102.59 608.64,102.95 608.49,103.30 608.33,103.65 608.14,104.00 607.93,104.36 607.72,104.71 607.49,105.06 607.26,105.41 607.02,105.77 606.79,106.12 606.55,106.47 606.33,106.82 606.12,107.18 605.92,107.53 605.74,107.88 605.60,108.20 605.59,108.23 605.44,108.59 605.29,108.94 605.14,109.29 604.99,109.64 604.84,110.00 604.69,110.35 604.55,110.70 604.41,111.05 604.27,111.41 604.14,111.76 604.02,112.11 603.90,112.47 603.79,112.82 603.69,113.17 603.60,113.52 603.53,113.88 603.50,114.00 603.45,114.23 603.39,114.58 603.32,114.93 603.25,115.28 603.18,115.64 603.12,115.99 603.05,116.34 602.99,116.69 602.94,117.05 602.89,117.40 602.84,117.75 602.80,118.10 602.77,118.46 602.74,118.81 602.72,119.16 602.71,119.51 602.70,119.87 602.70,119.90 602.71,120.22 602.72,120.57 602.75,120.92 602.78,121.28 602.81,121.63 602.85,121.98 602.89,122.33 602.93,122.69 602.96,123.04 602.99,123.39 603.00,123.50 603.02,123.75 603.04,124.10 603.07,124.45 603.09,124.80 603.11,125.16 603.14,125.51 603.16,125.86 603.17,126.21 603.19,126.56 603.20,126.92 603.20,127.27 603.20,127.30 603.20,127.62 603.19,127.97 603.18,128.33 603.16,128.68 603.14,129.03 603.12,129.38 603.09,129.74 603.06,130.09 603.02,130.44 602.98,130.79 602.95,131.15 602.91,131.50 602.86,131.85 602.82,132.20 602.78,132.56 602.74,132.91 602.69,133.26 602.65,133.62 602.61,133.97 602.57,134.32 602.53,134.67 602.49,135.02 602.46,135.38 602.42,135.73 602.40,136.00 602.39,136.08 602.36,136.44 602.34,136.79 602.31,137.14 602.28,137.49 602.25,137.84 602.22,138.20 602.20,138.55 602.17,138.90 602.14,139.25 602.12,139.61 602.09,139.96 602.06,140.31 602.04,140.66 602.01,141.02 601.99,141.37 601.96,141.72 601.94,142.07 601.91,142.43 601.89,142.78 601.86,143.13 601.84,143.49 601.81,143.84 601.79,144.19 601.77,144.54 601.74,144.89 601.72,145.25 601.70,145.60 L601.70,145.60 601.68,145.25 601.66,144.89 601.63,144.54 601.61,144.19 601.59,143.84 601.56,143.49 601.54,143.13 601.51,142.78 601.49,142.43 601.46,142.07 601.44,141.72 601.41,141.37 601.39,141.02 601.36,140.66 601.34,140.31 601.31,139.96 601.28,139.61 601.26,139.25 601.23,138.90 601.20,138.55 601.18,138.20 601.15,137.84 601.12,137.49 601.09,137.14 601.06,136.79 601.04,136.44 601.01,136.08 601.00,136.00 600.98,135.73 600.94,135.38 600.91,135.02 600.87,134.67 600.83,134.32 600.79,133.97 600.75,133.62 600.71,133.26 600.66,132.91 600.62,132.56 600.58,132.20 600.54,131.85 600.49,131.50 600.45,131.15 600.42,130.79 600.38,130.44 600.34,130.09 600.31,129.74 600.28,129.38 600.26,129.03 600.24,128.68 600.22,128.33 600.21,127.97 600.20,127.62 600.20,127.30 600.20,127.27 600.20,126.92 600.21,126.56 600.23,126.21 600.24,125.86 600.26,125.51 600.29,125.16 600.31,124.80 600.33,124.45 600.36,124.10 600.38,123.75 600.40,123.50 600.41,123.39 600.44,123.04 600.47,122.69 600.51,122.33 600.55,121.98 600.59,121.63 600.62,121.28 600.65,120.92 600.68,120.57 600.69,120.22 600.70,119.90 600.70,119.87 600.69,119.51 600.68,119.16 600.66,118.81 600.63,118.46 600.60,118.10 600.56,117.75 600.51,117.40 600.46,117.05 600.41,116.69 600.35,116.34 600.28,115.99 600.22,115.64 600.15,115.28 600.08,114.93 600.01,114.58 599.95,114.23 599.90,114.00 599.87,113.88 599.80,113.52 599.71,113.17 599.61,112.82 599.50,112.47 599.38,112.11 599.26,111.76 599.13,111.41 598.99,111.05 598.85,110.70 598.71,110.35 598.56,110.00 598.41,109.64 598.26,109.29 598.11,108.94 597.96,108.59 597.81,108.23 597.80,108.20 597.66,107.88 597.48,107.53 597.28,107.18 597.07,106.82 596.85,106.47 596.61,106.12 596.38,105.77 596.14,105.41 595.91,105.06 595.68,104.71 595.47,104.36 595.26,104.00 595.07,103.65 594.91,103.30 594.76,102.95 594.65,102.59 594.56,102.24 594.51,101.89 594.50,101.60 594.50,101.54 594.52,101.19 594.56,100.83 594.62,100.48 594.71,100.13 594.81,99.77 594.93,99.42 595.07,99.07 595.22,98.72 595.38,98.36 595.56,98.01 595.74,97.66 595.93,97.31 596.13,96.95 596.33,96.60 596.53,96.25 596.73,95.90 596.93,95.54 597.13,95.19 597.33,94.84 597.52,94.49 597.70,94.13 597.87,93.78 598.00,93.50 598.03,93.43 598.20,93.08 598.37,92.72 598.56,92.37 598.75,92.02 598.95,91.67 599.15,91.31 599.34,90.96 599.54,90.61 599.72,90.26 599.90,89.91 600.07,89.55 600.23,89.20 600.37,88.85 600.49,88.49 600.59,88.14 600.67,87.79 600.70,87.60 600.72,87.44 600.78,87.08 600.83,86.73 600.87,86.38 600.92,86.03 600.97,85.67 601.01,85.32 601.06,84.97 601.10,84.62 601.14,84.26 601.18,83.91 601.22,83.56 601.26,83.21 601.29,82.85 601.33,82.50 601.36,82.15 601.39,81.80 601.42,81.44 601.45,81.09 601.48,80.74 601.51,80.39 601.53,80.03 601.55,79.68 601.57,79.33 601.59,78.98 601.61,78.62 601.63,78.27 601.64,77.92 601.66,77.57 601.67,77.21 601.68,76.86 601.69,76.51 601.69,76.16 601.70,75.80 601.70,75.45 601.70,75.10 Z" fill="#925E9F" stroke="#000" stroke-width="0.85" stroke-linejoin="round"/>
<line x1="601.70" y1="90.60" x2="601.70" y2="119.90" stroke="#000" stroke-width="1.15" />
<rect x="599.30" y="99.40" width="4.80" height="10.20" fill="#fff" stroke="#000" stroke-width="1.0" />
<line x1="599.30" y1="104.50" x2="604.10" y2="104.50" stroke="#000" stroke-width="1.0" />
<path d="M624.60,63.60 624.60,64.22 624.60,64.84 624.61,65.46 624.62,66.08 624.62,66.70 624.64,67.33 624.65,67.95 624.66,68.57 624.68,69.19 624.70,69.81 624.72,70.43 624.74,71.05 624.76,71.67 624.79,72.29 624.81,72.92 624.84,73.54 624.87,74.16 624.90,74.78 624.94,75.40 624.97,76.02 625.01,76.64 625.04,77.26 625.08,77.88 625.12,78.50 625.16,79.12 625.21,79.75 625.25,80.37 625.30,80.99 625.35,81.61 625.39,82.23 625.44,82.85 625.50,83.47 625.55,84.09 625.60,84.70 625.60,84.71 625.67,85.34 625.75,85.96 625.86,86.58 625.98,87.20 626.11,87.82 626.25,88.44 626.40,89.06 626.56,89.68 626.72,90.30 626.80,90.60 626.89,90.92 627.12,91.55 627.39,92.17 627.69,92.79 627.99,93.41 628.28,94.03 628.54,94.65 628.74,95.27 628.87,95.89 628.90,96.40 628.90,96.51 628.89,97.13 628.88,97.75 628.85,98.38 628.82,99.00 628.78,99.62 628.74,100.24 628.70,100.86 628.66,101.48 628.61,102.10 628.60,102.30 628.57,102.72 628.52,103.34 628.46,103.97 628.39,104.59 628.32,105.21 628.24,105.83 628.16,106.45 628.08,107.07 628.00,107.69 627.92,108.31 627.84,108.93 627.77,109.55 627.70,110.18 627.63,110.80 627.60,111.10 627.57,111.42 627.51,112.04 627.46,112.66 627.40,113.28 627.35,113.90 627.30,114.52 627.25,115.14 627.20,115.76 627.16,116.39 627.11,117.01 627.06,117.63 627.01,118.25 626.96,118.87 626.91,119.49 626.86,120.11 626.81,120.73 626.75,121.35 626.69,121.97 626.63,122.60 626.60,122.90 626.57,123.22 626.49,123.84 626.41,124.46 626.32,125.08 626.24,125.70 626.15,126.32 626.07,126.94 625.99,127.56 625.92,128.18 625.90,128.40 625.86,128.81 625.80,129.43 625.74,130.05 625.69,130.67 625.63,131.29 625.58,131.91 625.53,132.53 625.49,133.15 625.45,133.77 625.42,134.39 625.40,135.00 625.40,135.02 625.38,135.64 625.36,136.26 625.34,136.88 625.33,137.50 625.31,138.12 625.30,138.74 625.29,139.36 625.28,139.98 625.27,140.60 625.26,141.23 625.25,141.85 625.24,142.47 625.23,143.09 625.22,143.71 625.21,144.33 625.20,144.95 625.20,145.00 625.19,145.57 625.18,146.19 625.18,146.81 625.17,147.44 625.16,148.06 625.16,148.68 625.15,149.30 625.14,149.92 625.14,150.54 625.13,151.16 625.13,151.78 625.12,152.40 625.11,153.02 625.10,153.65 625.10,154.00 625.10,154.27 625.09,154.89 625.08,155.51 625.07,156.13 625.06,156.75 625.05,157.37 625.04,157.99 625.04,158.61 625.03,159.23 625.02,159.86 625.01,160.48 625.00,161.10 624.99,161.72 624.98,162.34 624.97,162.96 624.96,163.58 624.95,164.20 624.94,164.82 624.93,165.44 624.92,166.07 624.91,166.69 624.90,167.30 624.90,167.31 624.89,167.93 624.88,168.55 624.87,169.17 624.86,169.79 624.85,170.41 624.84,171.03 624.84,171.65 624.83,172.28 624.82,172.90 624.81,173.52 624.80,174.14 624.79,174.76 624.78,175.38 624.77,176.00 624.76,176.62 624.75,177.24 624.74,177.86 624.74,178.49 624.73,179.11 624.72,179.73 624.71,180.35 624.70,180.97 624.69,181.59 624.68,182.21 624.67,182.83 624.66,183.45 624.65,184.07 624.64,184.70 624.64,185.32 624.63,185.94 624.62,186.56 624.61,187.18 624.60,187.80 L624.60,187.80 624.59,187.18 624.58,186.56 624.57,185.94 624.56,185.32 624.56,184.70 624.55,184.07 624.54,183.45 624.53,182.83 624.52,182.21 624.51,181.59 624.50,180.97 624.49,180.35 624.48,179.73 624.47,179.11 624.46,178.49 624.46,177.86 624.45,177.24 624.44,176.62 624.43,176.00 624.42,175.38 624.41,174.76 624.40,174.14 624.39,173.52 624.38,172.90 624.37,172.28 624.36,171.65 624.36,171.03 624.35,170.41 624.34,169.79 624.33,169.17 624.32,168.55 624.31,167.93 624.30,167.31 624.30,167.30 624.29,166.69 624.28,166.07 624.27,165.44 624.26,164.82 624.25,164.20 624.24,163.58 624.23,162.96 624.22,162.34 624.21,161.72 624.20,161.10 624.19,160.48 624.18,159.86 624.17,159.23 624.16,158.61 624.16,157.99 624.15,157.37 624.14,156.75 624.13,156.13 624.12,155.51 624.11,154.89 624.10,154.27 624.10,154.00 624.10,153.65 624.09,153.02 624.08,152.40 624.07,151.78 624.07,151.16 624.06,150.54 624.06,149.92 624.05,149.30 624.04,148.68 624.04,148.06 624.03,147.44 624.02,146.81 624.02,146.19 624.01,145.57 624.00,145.00 624.00,144.95 623.99,144.33 623.98,143.71 623.97,143.09 623.96,142.47 623.95,141.85 623.94,141.23 623.93,140.60 623.92,139.98 623.91,139.36 623.90,138.74 623.89,138.12 623.87,137.50 623.86,136.88 623.84,136.26 623.82,135.64 623.80,135.02 623.80,135.00 623.78,134.39 623.75,133.77 623.71,133.15 623.67,132.53 623.62,131.91 623.57,131.29 623.51,130.67 623.46,130.05 623.40,129.43 623.34,128.81 623.30,128.40 623.28,128.18 623.21,127.56 623.13,126.94 623.05,126.32 622.96,125.70 622.88,125.08 622.79,124.46 622.71,123.84 622.63,123.22 622.60,122.90 622.57,122.60 622.51,121.97 622.45,121.35 622.39,120.73 622.34,120.11 622.29,119.49 622.24,118.87 622.19,118.25 622.14,117.63 622.09,117.01 622.04,116.39 622.00,115.76 621.95,115.14 621.90,114.52 621.85,113.90 621.80,113.28 621.74,112.66 621.69,112.04 621.63,111.42 621.60,111.10 621.57,110.80 621.50,110.18 621.43,109.55 621.36,108.93 621.28,108.31 621.20,107.69 621.12,107.07 621.04,106.45 620.96,105.83 620.88,105.21 620.81,104.59 620.74,103.97 620.68,103.34 620.63,102.72 620.60,102.30 620.59,102.10 620.54,101.48 620.50,100.86 620.46,100.24 620.42,99.62 620.38,99.00 620.35,98.38 620.32,97.75 620.31,97.13 620.30,96.51 620.30,96.40 620.33,95.89 620.46,95.27 620.66,94.65 620.92,94.03 621.21,93.41 621.51,92.79 621.81,92.17 622.08,91.55 622.31,90.92 622.40,90.60 622.48,90.30 622.64,89.68 622.80,89.06 622.95,88.44 623.09,87.82 623.22,87.20 623.34,86.58 623.45,85.96 623.53,85.34 623.60,84.71 623.60,84.70 623.65,84.09 623.70,83.47 623.76,82.85 623.81,82.23 623.85,81.61 623.90,80.99 623.95,80.37 623.99,79.75 624.04,79.12 624.08,78.50 624.12,77.88 624.16,77.26 624.19,76.64 624.23,76.02 624.26,75.40 624.30,74.78 624.33,74.16 624.36,73.54 624.39,72.92 624.41,72.29 624.44,71.67 624.46,71.05 624.48,70.43 624.50,69.81 624.52,69.19 624.54,68.57 624.55,67.95 624.56,67.33 624.58,66.70 624.58,66.08 624.59,65.46 624.60,64.84 624.60,64.22 624.60,63.60 Z" fill="#FDAF91" stroke="#000" stroke-width="0.85" stroke-linejoin="round"/>
<line x1="624.60" y1="84.00" x2="624.60" y2="167.30" stroke="#000" stroke-width="1.15" />
<rect x="622.20" y="100.10" width="4.80" height="28.30" fill="#fff" stroke="#000" stroke-width="1.0" />
<line x1="622.20" y1="105.00" x2="627.00" y2="105.00" stroke="#000" stroke-width="1.0" />
<path d="M647.50,52.80 647.50,53.45 647.50,54.11 647.50,54.76 647.51,55.41 647.51,56.06 647.52,56.72 647.52,57.37 647.53,58.02 647.54,58.68 647.55,59.33 647.56,59.98 647.57,60.64 647.58,61.29 647.59,61.94 647.60,62.59 647.62,63.25 647.63,63.90 647.65,64.55 647.66,65.21 647.68,65.86 647.70,66.51 647.72,67.17 647.73,67.82 647.75,68.47 647.77,69.12 647.79,69.78 647.81,70.43 647.84,71.08 647.86,71.74 647.88,72.39 647.90,72.90 647.91,73.04 647.94,73.70 647.97,74.35 648.02,75.00 648.07,75.66 648.13,76.31 648.20,76.96 648.27,77.61 648.34,78.27 648.42,78.92 648.51,79.57 648.59,80.23 648.68,80.88 648.76,81.53 648.85,82.19 648.94,82.84 649.00,83.30 649.03,83.49 649.12,84.14 649.22,84.80 649.32,85.45 649.43,86.10 649.55,86.76 649.66,87.41 649.78,88.06 649.90,88.72 650.02,89.37 650.15,90.02 650.26,90.67 650.38,91.33 650.50,91.98 650.50,92.00 650.62,92.63 650.75,93.29 650.90,93.94 651.05,94.59 651.20,95.25 651.33,95.90 651.46,96.55 651.56,97.20 651.64,97.86 651.69,98.51 651.70,99.00 651.70,99.16 651.69,99.82 651.68,100.47 651.65,101.12 651.62,101.78 651.58,102.43 651.53,103.08 651.48,103.73 651.43,104.39 651.37,105.04 651.31,105.69 651.25,106.35 651.19,107.00 651.12,107.65 651.06,108.31 650.99,108.96 650.93,109.61 650.90,110.00 650.88,110.26 650.82,110.92 650.75,111.57 650.68,112.22 650.61,112.88 650.53,113.53 650.46,114.18 650.38,114.84 650.30,115.49 650.21,116.14 650.13,116.79 650.05,117.45 649.97,118.10 649.89,118.75 649.81,119.41 649.74,120.06 649.66,120.71 649.59,121.37 649.53,122.02 649.46,122.67 649.41,123.32 649.40,123.40 649.35,123.98 649.30,124.63 649.24,125.28 649.19,125.94 649.14,126.59 649.10,127.24 649.06,127.90 649.02,128.55 649.00,129.00 648.99,129.20 648.97,129.85 648.94,130.51 648.92,131.16 648.91,131.81 648.89,132.47 648.87,133.12 648.86,133.77 648.84,134.43 648.83,135.08 648.81,135.73 648.80,136.38 648.78,137.04 648.76,137.69 648.74,138.34 648.72,139.00 648.70,139.40 648.69,139.65 648.65,140.30 648.61,140.96 648.56,141.61 648.51,142.26 648.46,142.91 648.41,143.57 648.36,144.22 648.32,144.87 648.30,145.20 648.28,145.53 648.24,146.18 648.20,146.83 648.16,147.49 648.13,148.14 648.09,148.79 648.05,149.44 648.01,150.10 647.98,150.75 647.95,151.40 647.92,152.06 647.89,152.71 647.86,153.36 647.84,154.02 647.82,154.67 647.80,155.32 647.80,155.50 647.79,155.97 647.78,156.63 647.77,157.28 647.75,157.93 647.74,158.59 647.73,159.24 647.72,159.89 647.71,160.55 647.70,161.20 647.69,161.85 647.68,162.50 647.67,163.16 647.66,163.81 647.65,164.46 647.64,165.12 647.63,165.77 647.62,166.42 647.61,167.08 647.60,167.73 647.59,168.38 647.59,169.03 647.58,169.69 647.57,170.34 647.57,170.99 647.56,171.65 647.55,172.30 647.55,172.95 647.54,173.61 647.54,174.26 647.53,174.91 647.53,175.56 647.52,176.22 647.52,176.87 647.52,177.52 647.51,178.18 647.51,178.83 647.51,179.48 647.50,180.14 647.50,180.79 647.50,181.44 647.50,182.09 647.50,182.75 647.50,183.40 647.50,183.40 L647.50,183.40 647.50,183.40 647.50,182.75 647.50,182.09 647.50,181.44 647.50,180.79 647.50,180.14 647.49,179.48 647.49,178.83 647.49,178.18 647.48,177.52 647.48,176.87 647.48,176.22 647.47,175.56 647.47,174.91 647.46,174.26 647.46,173.61 647.45,172.95 647.45,172.30 647.44,171.65 647.43,170.99 647.43,170.34 647.42,169.69 647.41,169.03 647.41,168.38 647.40,167.73 647.39,167.08 647.38,166.42 647.37,165.77 647.36,165.12 647.35,164.46 647.34,163.81 647.33,163.16 647.32,162.50 647.31,161.85 647.30,161.20 647.29,160.55 647.28,159.89 647.27,159.24 647.26,158.59 647.25,157.93 647.23,157.28 647.22,156.63 647.21,155.97 647.20,155.50 647.20,155.32 647.18,154.67 647.16,154.02 647.14,153.36 647.11,152.71 647.08,152.06 647.05,151.40 647.02,150.75 646.99,150.10 646.95,149.44 646.91,148.79 646.87,148.14 646.84,147.49 646.80,146.83 646.76,146.18 646.72,145.53 646.70,145.20 646.68,144.87 646.64,144.22 646.59,143.57 646.54,142.91 646.49,142.26 646.44,141.61 646.39,140.96 646.35,140.30 646.31,139.65 646.30,139.40 646.28,139.00 646.26,138.34 646.24,137.69 646.22,137.04 646.20,136.38 646.19,135.73 646.17,135.08 646.16,134.43 646.14,133.77 646.13,133.12 646.11,132.47 646.09,131.81 646.08,131.16 646.06,130.51 646.03,129.85 646.01,129.20 646.00,129.00 645.98,128.55 645.94,127.90 645.90,127.24 645.86,126.59 645.81,125.94 645.76,125.28 645.70,124.63 645.65,123.98 645.60,123.40 645.59,123.32 645.54,122.67 645.47,122.02 645.41,121.37 645.34,120.71 645.26,120.06 645.19,119.41 645.11,118.75 645.03,118.10 644.95,117.45 644.87,116.79 644.79,116.14 644.70,115.49 644.62,114.84 644.54,114.18 644.47,113.53 644.39,112.88 644.32,112.22 644.25,111.57 644.18,110.92 644.12,110.26 644.10,110.00 644.07,109.61 644.01,108.96 643.94,108.31 643.88,107.65 643.81,107.00 643.75,106.35 643.69,105.69 643.63,105.04 643.57,104.39 643.52,103.73 643.47,103.08 643.42,102.43 643.38,101.78 643.35,101.12 643.32,100.47 643.31,99.82 643.30,99.16 643.30,99.00 643.31,98.51 643.36,97.86 643.44,97.20 643.54,96.55 643.67,95.90 643.80,95.25 643.95,94.59 644.10,93.94 644.25,93.29 644.38,92.63 644.50,92.00 644.50,91.98 644.62,91.33 644.74,90.67 644.85,90.02 644.98,89.37 645.10,88.72 645.22,88.06 645.34,87.41 645.45,86.76 645.57,86.10 645.68,85.45 645.78,84.80 645.88,84.14 645.97,83.49 646.00,83.30 646.06,82.84 646.15,82.19 646.24,81.53 646.32,80.88 646.41,80.23 646.49,79.57 646.58,78.92 646.66,78.27 646.73,77.61 646.80,76.96 646.87,76.31 646.93,75.66 646.98,75.00 647.03,74.35 647.06,73.70 647.09,73.04 647.10,72.90 647.12,72.39 647.14,71.74 647.16,71.08 647.19,70.43 647.21,69.78 647.23,69.12 647.25,68.47 647.27,67.82 647.28,67.17 647.30,66.51 647.32,65.86 647.34,65.21 647.35,64.55 647.37,63.90 647.38,63.25 647.40,62.59 647.41,61.94 647.42,61.29 647.43,60.64 647.44,59.98 647.45,59.33 647.46,58.68 647.47,58.02 647.48,57.37 647.48,56.72 647.49,56.06 647.49,55.41 647.50,54.76 647.50,54.11 647.50,53.45 647.50,52.80 Z" fill="#AD002A" stroke="#000" stroke-width="0.85" stroke-linejoin="round"/>
<line x1="647.50" y1="72.90" x2="647.50" y2="155.50" stroke="#000" stroke-width="1.15" />
<rect x="645.10" y="100.40" width="4.80" height="23.00" fill="#fff" stroke="#000" stroke-width="1.0" />
<line x1="645.10" y1="105.20" x2="649.90" y2="105.20" stroke="#000" stroke-width="1.0" />
<path d="M670.40,71.50 670.40,71.83 670.40,72.15 670.41,72.47 670.42,72.80 670.42,73.12 670.44,73.45 670.45,73.78 670.46,74.10 670.48,74.42 670.49,74.75 670.51,75.08 670.53,75.40 670.56,75.72 670.58,76.05 670.61,76.38 670.63,76.70 670.66,77.03 670.69,77.35 670.72,77.67 670.75,78.00 670.78,78.33 670.82,78.65 670.85,78.97 670.89,79.30 670.92,79.62 670.96,79.95 671.00,80.28 671.04,80.60 671.08,80.92 671.12,81.25 671.17,81.58 671.21,81.90 671.25,82.22 671.30,82.55 671.34,82.88 671.39,83.20 671.40,83.30 671.43,83.53 671.49,83.85 671.56,84.17 671.63,84.50 671.71,84.83 671.80,85.15 671.89,85.47 671.99,85.80 672.10,86.12 672.21,86.45 672.32,86.78 672.43,87.10 672.55,87.42 672.67,87.75 672.79,88.08 672.91,88.40 673.03,88.72 673.16,89.05 673.27,89.38 673.39,89.70 673.51,90.03 673.60,90.30 673.62,90.35 673.73,90.67 673.86,91.00 673.99,91.33 674.12,91.65 674.26,91.97 674.41,92.30 674.56,92.62 674.71,92.95 674.87,93.28 675.03,93.60 675.19,93.92 675.35,94.25 675.51,94.58 675.67,94.90 675.83,95.22 675.99,95.55 676.14,95.88 676.29,96.20 676.43,96.53 676.57,96.85 676.71,97.17 676.83,97.50 676.95,97.83 677.07,98.15 677.17,98.47 677.26,98.80 677.35,99.12 677.42,99.45 677.48,99.78 677.53,100.10 677.57,100.42 677.59,100.75 677.60,101.08 677.60,101.10 677.59,101.40 677.57,101.72 677.53,102.05 677.48,102.38 677.42,102.70 677.34,103.03 677.26,103.35 677.16,103.67 677.06,104.00 676.94,104.33 676.82,104.65 676.69,104.97 676.55,105.30 676.41,105.62 676.27,105.95 676.12,106.28 675.97,106.60 675.82,106.92 675.67,107.25 675.52,107.58 675.37,107.90 675.22,108.22 675.07,108.55 674.93,108.88 674.79,109.20 674.66,109.53 674.54,109.85 674.42,110.17 674.31,110.50 674.21,110.83 674.11,111.15 674.10,111.20 674.03,111.47 673.94,111.80 673.86,112.12 673.77,112.45 673.69,112.78 673.60,113.10 673.52,113.42 673.43,113.75 673.35,114.08 673.27,114.40 673.18,114.72 673.10,115.05 673.02,115.38 672.94,115.70 672.87,116.03 672.79,116.35 672.72,116.67 672.65,117.00 672.58,117.33 672.51,117.65 672.44,117.97 672.38,118.30 672.32,118.62 672.26,118.95 672.21,119.28 672.16,119.60 672.11,119.92 672.06,120.25 672.02,120.58 671.98,120.90 671.94,121.22 671.91,121.55 671.90,121.70 671.88,121.88 671.86,122.20 671.83,122.53 671.80,122.85 671.78,123.17 671.75,123.50 671.73,123.83 671.72,124.15 671.71,124.47 671.70,124.80 671.70,125.00 671.70,125.12 671.71,125.45 671.72,125.78 671.74,126.10 671.77,126.42 671.80,126.75 671.82,127.08 671.85,127.40 671.87,127.72 671.89,128.05 671.90,128.38 671.90,128.60 671.90,128.70 671.89,129.03 671.86,129.35 671.82,129.68 671.77,130.00 671.72,130.32 671.66,130.65 671.60,130.97 671.53,131.30 671.47,131.62 671.41,131.95 671.40,132.00 671.35,132.28 671.29,132.60 671.23,132.93 671.16,133.25 671.10,133.57 671.03,133.90 670.96,134.22 670.88,134.55 670.81,134.88 670.73,135.20 670.65,135.53 670.57,135.85 670.49,136.18 670.40,136.50 L670.40,136.50 670.31,136.18 670.23,135.85 670.15,135.53 670.07,135.20 669.99,134.88 669.92,134.55 669.84,134.22 669.77,133.90 669.70,133.57 669.64,133.25 669.57,132.93 669.51,132.60 669.45,132.28 669.40,132.00 669.39,131.95 669.33,131.62 669.27,131.30 669.20,130.97 669.14,130.65 669.08,130.32 669.03,130.00 668.98,129.68 668.94,129.35 668.91,129.03 668.90,128.70 668.90,128.60 668.90,128.38 668.91,128.05 668.93,127.72 668.95,127.40 668.98,127.08 669.00,126.75 669.03,126.42 669.06,126.10 669.08,125.78 669.09,125.45 669.10,125.12 669.10,125.00 669.10,124.80 669.09,124.47 669.08,124.15 669.07,123.83 669.05,123.50 669.02,123.17 669.00,122.85 668.97,122.53 668.94,122.20 668.92,121.88 668.90,121.70 668.89,121.55 668.86,121.22 668.82,120.90 668.78,120.58 668.74,120.25 668.69,119.92 668.64,119.60 668.59,119.28 668.54,118.95 668.48,118.62 668.42,118.30 668.36,117.97 668.29,117.65 668.22,117.33 668.15,117.00 668.08,116.67 668.01,116.35 667.93,116.03 667.86,115.70 667.78,115.38 667.70,115.05 667.62,114.72 667.53,114.40 667.45,114.08 667.37,113.75 667.28,113.42 667.20,113.10 667.11,112.78 667.03,112.45 666.94,112.12 666.86,111.80 666.77,111.47 666.70,111.20 666.69,111.15 666.59,110.83 666.49,110.50 666.38,110.17 666.26,109.85 666.14,109.53 666.01,109.20 665.87,108.88 665.73,108.55 665.58,108.22 665.43,107.90 665.28,107.58 665.13,107.25 664.98,106.92 664.83,106.60 664.68,106.28 664.53,105.95 664.39,105.62 664.25,105.30 664.11,104.97 663.98,104.65 663.86,104.33 663.74,104.00 663.64,103.67 663.54,103.35 663.46,103.03 663.38,102.70 663.32,102.38 663.27,102.05 663.23,101.72 663.21,101.40 663.20,101.10 663.20,101.08 663.21,100.75 663.23,100.42 663.27,100.10 663.32,99.78 663.38,99.45 663.45,99.12 663.54,98.80 663.63,98.47 663.73,98.15 663.85,97.83 663.97,97.50 664.09,97.17 664.23,96.85 664.37,96.53 664.51,96.20 664.66,95.88 664.81,95.55 664.97,95.22 665.13,94.90 665.29,94.58 665.45,94.25 665.61,93.92 665.77,93.60 665.93,93.28 666.09,92.95 666.24,92.62 666.39,92.30 666.54,91.97 666.68,91.65 666.81,91.33 666.94,91.00 667.07,90.67 667.18,90.35 667.20,90.30 667.29,90.03 667.41,89.70 667.53,89.38 667.64,89.05 667.77,88.72 667.89,88.40 668.01,88.08 668.13,87.75 668.25,87.42 668.37,87.10 668.48,86.78 668.59,86.45 668.70,86.12 668.81,85.80 668.91,85.47 669.00,85.15 669.09,84.83 669.17,84.50 669.24,84.17 669.31,83.85 669.37,83.53 669.40,83.30 669.41,83.20 669.46,82.88 669.50,82.55 669.55,82.22 669.59,81.90 669.63,81.58 669.68,81.25 669.72,80.92 669.76,80.60 669.80,80.28 669.84,79.95 669.88,79.62 669.91,79.30 669.95,78.97 669.98,78.65 670.02,78.33 670.05,78.00 670.08,77.67 670.11,77.35 670.14,77.03 670.17,76.70 670.19,76.38 670.22,76.05 670.24,75.72 670.27,75.40 670.29,75.08 670.31,74.75 670.32,74.42 670.34,74.10 670.35,73.78 670.36,73.45 670.38,73.12 670.38,72.80 670.39,72.47 670.40,72.15 670.40,71.83 670.40,71.50 Z" fill="#ADB6B6" stroke="#000" stroke-width="0.85" stroke-linejoin="round"/>
<line x1="670.40" y1="82.50" x2="670.40" y2="125.10" stroke="#000" stroke-width="1.15" />
<rect x="668.00" y="98.10" width="4.80" height="11.40" fill="#fff" stroke="#000" stroke-width="1.0" />
<line x1="668.00" y1="103.40" x2="672.80" y2="103.40" stroke="#000" stroke-width="1.0" />
<line x1="496.70" y1="40.10" x2="496.70" y2="200.90" stroke="#a0a0a0" stroke-width="1.0" />
<line x1="496.20" y1="200.40" x2="683.50" y2="200.40" stroke="#8a8a8a" stroke-width="1.0" />
<line x1="510.30" y1="200.40" x2="510.30" y2="202.70" stroke="#333" stroke-width="0.9" />
<line x1="533.16" y1="200.40" x2="533.16" y2="202.70" stroke="#333" stroke-width="0.9" />
<line x1="556.02" y1="200.40" x2="556.02" y2="202.70" stroke="#333" stroke-width="0.9" />
<line x1="578.88" y1="200.40" x2="578.88" y2="202.70" stroke="#333" stroke-width="0.9" />
<line x1="601.74" y1="200.40" x2="601.74" y2="202.70" stroke="#333" stroke-width="0.9" />
<line x1="624.60" y1="200.40" x2="624.60" y2="202.70" stroke="#333" stroke-width="0.9" />
<line x1="647.46" y1="200.40" x2="647.46" y2="202.70" stroke="#333" stroke-width="0.9" />
<line x1="670.32" y1="200.40" x2="670.32" y2="202.70" stroke="#333" stroke-width="0.9" />
<line x1="494.40" y1="62.20" x2="496.70" y2="62.20" stroke="#333" stroke-width="0.9" />
<text x="492.30" y="64.80" font-size="7.8" fill="#4d4d4d" text-anchor="end" >100</text>
<line x1="494.40" y1="100.50" x2="496.70" y2="100.50" stroke="#333" stroke-width="0.9" />
<text x="492.30" y="103.10" font-size="7.8" fill="#4d4d4d" text-anchor="end" >0</text>
<line x1="494.40" y1="138.80" x2="496.70" y2="138.80" stroke="#333" stroke-width="0.9" />
<text x="492.30" y="141.40" font-size="7.8" fill="#4d4d4d" text-anchor="end" >-100</text>
<line x1="494.40" y1="177.20" x2="496.70" y2="177.20" stroke="#333" stroke-width="0.9" />
<text x="492.30" y="179.80" font-size="7.8" fill="#4d4d4d" text-anchor="end" >-200</text>
<text transform="translate(509.10,204.30) rotate(-45)" x="0" y="5.47" font-size="7.6" fill="#4d4d4d" text-anchor="end">L1_ILL_P</text>
<text transform="translate(531.96,204.30) rotate(-45)" x="0" y="5.47" font-size="7.6" fill="#4d4d4d" text-anchor="end">L1_ILL_R</text>
<text transform="translate(554.82,204.30) rotate(-45)" x="0" y="5.47" font-size="7.6" fill="#4d4d4d" text-anchor="end">L2_DNB_P</text>
<text transform="translate(577.68,204.30) rotate(-45)" x="0" y="5.47" font-size="7.6" fill="#4d4d4d" text-anchor="end">L2_DNB_R</text>
<text transform="translate(600.54,204.30) rotate(-45)" x="0" y="5.47" font-size="7.6" fill="#4d4d4d" text-anchor="end">L3_ILL_P</text>
<text transform="translate(623.40,204.30) rotate(-45)" x="0" y="5.47" font-size="7.6" fill="#4d4d4d" text-anchor="end">L3_ILL_R</text>
<text transform="translate(646.26,204.30) rotate(-45)" x="0" y="5.47" font-size="7.6" fill="#4d4d4d" text-anchor="end">L3_DNB_P</text>
<text transform="translate(669.12,204.30) rotate(-45)" x="0" y="5.47" font-size="7.6" fill="#4d4d4d" text-anchor="end">L3_DNB_R</text>
<text transform="translate(473.0,120.2) rotate(-90)" font-size="9.3" fill="#000" text-anchor="middle">ME (%)</text>
<rect x="32.50" y="288.50" width="145.30" height="16.30" fill="#d9d9d9" stroke="#555" stroke-width="1.0" />
<line x1="32.50" y1="304.80" x2="177.80" y2="304.80" stroke="#444" stroke-width="1.4" />
<text x="104.55" y="300.10" font-size="8.0" fill="#222" text-anchor="middle" >Mix1</text>
<line x1="177.80" y1="304.80" x2="177.80" y2="509.30" stroke="#a8a8a8" stroke-width="1.2" />
<line x1="42.70" y1="340.19" x2="42.70" y2="414.28" stroke="#00468B" stroke-width="1.1" />
<line x1="42.70" y1="468.38" x2="42.70" y2="486.50" stroke="#00468B" stroke-width="1.1" />
<line x1="39.20" y1="340.19" x2="46.20" y2="340.19" stroke="#00468B" stroke-width="1.1" />
<line x1="39.20" y1="486.50" x2="46.20" y2="486.50" stroke="#00468B" stroke-width="1.1" />
<rect x="36.50" y="414.28" width="12.40" height="54.10" fill="#fff" stroke="#00468B" stroke-width="1.1" />
<line x1="36.50" y1="445.99" x2="48.90" y2="445.99" stroke="#00468B" stroke-width="1.1" />
<line x1="60.50" y1="411.08" x2="60.50" y2="447.59" stroke="#ED0000" stroke-width="1.1" />
<line x1="60.50" y1="471.58" x2="60.50" y2="485.17" stroke="#ED0000" stroke-width="1.1" />
<line x1="57.00" y1="411.08" x2="64.00" y2="411.08" stroke="#ED0000" stroke-width="1.1" />
<line x1="57.00" y1="485.17" x2="64.00" y2="485.17" stroke="#ED0000" stroke-width="1.1" />
<rect x="54.30" y="447.59" width="12.40" height="23.99" fill="#fff" stroke="#ED0000" stroke-width="1.1" />
<line x1="54.30" y1="460.92" x2="66.70" y2="460.92" stroke="#ED0000" stroke-width="1.1" />
<line x1="78.30" y1="344.19" x2="78.30" y2="410.28" stroke="#42B540" stroke-width="1.1" />
<line x1="78.30" y1="466.25" x2="78.30" y2="485.97" stroke="#42B540" stroke-width="1.1" />
<line x1="74.80" y1="344.19" x2="81.80" y2="344.19" stroke="#42B540" stroke-width="1.1" />
<line x1="74.80" y1="485.97" x2="81.80" y2="485.97" stroke="#42B540" stroke-width="1.1" />
<rect x="72.10" y="410.28" width="12.40" height="55.97" fill="#fff" stroke="#42B540" stroke-width="1.1" />
<line x1="72.10" y1="441.46" x2="84.50" y2="441.46" stroke="#42B540" stroke-width="1.1" />
<line x1="96.10" y1="449.72" x2="96.10" y2="469.18" stroke="#0099B4" stroke-width="1.1" />
<line x1="96.10" y1="483.84" x2="96.10" y2="486.50" stroke="#0099B4" stroke-width="1.1" />
<line x1="92.60" y1="449.72" x2="99.60" y2="449.72" stroke="#0099B4" stroke-width="1.1" />
<line x1="92.60" y1="486.50" x2="99.60" y2="486.50" stroke="#0099B4" stroke-width="1.1" />
<rect x="89.90" y="469.18" width="12.40" height="14.66" fill="#fff" stroke="#0099B4" stroke-width="1.1" />
<line x1="89.90" y1="479.31" x2="102.30" y2="479.31" stroke="#0099B4" stroke-width="1.1" />
<line x1="113.90" y1="386.03" x2="113.90" y2="435.33" stroke="#925E9F" stroke-width="1.1" />
<line x1="113.90" y1="469.18" x2="113.90" y2="485.17" stroke="#925E9F" stroke-width="1.1" />
<line x1="110.40" y1="386.03" x2="117.40" y2="386.03" stroke="#925E9F" stroke-width="1.1" />
<line x1="110.40" y1="485.17" x2="117.40" y2="485.17" stroke="#925E9F" stroke-width="1.1" />
<rect x="107.70" y="435.33" width="12.40" height="33.85" fill="#fff" stroke="#925E9F" stroke-width="1.1" />
<line x1="107.70" y1="458.78" x2="120.10" y2="458.78" stroke="#925E9F" stroke-width="1.1" />
<line x1="131.70" y1="415.61" x2="131.70" y2="448.39" stroke="#FDAF91" stroke-width="1.1" />
<line x1="131.70" y1="471.31" x2="131.70" y2="485.70" stroke="#FDAF91" stroke-width="1.1" />
<line x1="128.20" y1="415.61" x2="135.20" y2="415.61" stroke="#FDAF91" stroke-width="1.1" />
<line x1="128.20" y1="485.70" x2="135.20" y2="485.70" stroke="#FDAF91" stroke-width="1.1" />
<rect x="125.50" y="448.39" width="12.40" height="22.92" fill="#fff" stroke="#FDAF91" stroke-width="1.1" />
<line x1="125.50" y1="458.78" x2="137.90" y2="458.78" stroke="#FDAF91" stroke-width="1.1" />
<line x1="149.50" y1="385.23" x2="149.50" y2="436.40" stroke="#AD002A" stroke-width="1.1" />
<line x1="149.50" y1="471.31" x2="149.50" y2="483.84" stroke="#AD002A" stroke-width="1.1" />
<line x1="146.00" y1="385.23" x2="153.00" y2="385.23" stroke="#AD002A" stroke-width="1.1" />
<line x1="146.00" y1="483.84" x2="153.00" y2="483.84" stroke="#AD002A" stroke-width="1.1" />
<rect x="143.30" y="436.40" width="12.40" height="34.91" fill="#fff" stroke="#AD002A" stroke-width="1.1" />
<line x1="143.30" y1="458.78" x2="155.70" y2="458.78" stroke="#AD002A" stroke-width="1.1" />
<line x1="167.30" y1="416.68" x2="167.30" y2="448.39" stroke="#ADB6B6" stroke-width="1.1" />
<line x1="167.30" y1="470.78" x2="167.30" y2="484.90" stroke="#ADB6B6" stroke-width="1.1" />
<line x1="163.80" y1="416.68" x2="170.80" y2="416.68" stroke="#ADB6B6" stroke-width="1.1" />
<line x1="163.80" y1="484.90" x2="170.80" y2="484.90" stroke="#ADB6B6" stroke-width="1.1" />
<rect x="161.10" y="448.39" width="12.40" height="22.39" fill="#fff" stroke="#ADB6B6" stroke-width="1.1" />
<line x1="161.10" y1="460.12" x2="173.50" y2="460.12" stroke="#ADB6B6" stroke-width="1.1" />
<line x1="32.50" y1="304.80" x2="32.50" y2="509.80" stroke="#666" stroke-width="1.0" />
<line x1="32.00" y1="509.30" x2="177.80" y2="509.30" stroke="#666" stroke-width="1.0" />
<line x1="42.70" y1="509.30" x2="42.70" y2="512.60" stroke="#444" stroke-width="0.9" />
<line x1="60.50" y1="509.30" x2="60.50" y2="512.60" stroke="#444" stroke-width="0.9" />
<line x1="78.30" y1="509.30" x2="78.30" y2="512.60" stroke="#444" stroke-width="0.9" />
<line x1="96.10" y1="509.30" x2="96.10" y2="512.60" stroke="#444" stroke-width="0.9" />
<line x1="113.90" y1="509.30" x2="113.90" y2="512.60" stroke="#444" stroke-width="0.9" />
<line x1="131.70" y1="509.30" x2="131.70" y2="512.60" stroke="#444" stroke-width="0.9" />
<line x1="149.50" y1="509.30" x2="149.50" y2="512.60" stroke="#444" stroke-width="0.9" />
<line x1="167.30" y1="509.30" x2="167.30" y2="512.60" stroke="#444" stroke-width="0.9" />
<text transform="translate(43.60,515.70) rotate(-45)" x="0" y="5.47" font-size="7.6" fill="#4d4d4d" text-anchor="end">L1_ILL_P</text>
<text transform="translate(61.40,515.70) rotate(-45)" x="0" y="5.47" font-size="7.6" fill="#4d4d4d" text-anchor="end">L1_ILL_R</text>
<text transform="translate(79.20,515.70) rotate(-45)" x="0" y="5.47" font-size="7.6" fill="#4d4d4d" text-anchor="end">L2_DNB_P</text>
<text transform="translate(97.00,515.70) rotate(-45)" x="0" y="5.47" font-size="7.6" fill="#4d4d4d" text-anchor="end">L2_DNB_R</text>
<text transform="translate(114.80,515.70) rotate(-45)" x="0" y="5.47" font-size="7.6" fill="#4d4d4d" text-anchor="end">L3_ILL_P</text>
<text transform="translate(132.60,515.70) rotate(-45)" x="0" y="5.47" font-size="7.6" fill="#4d4d4d" text-anchor="end">L3_ILL_R</text>
<text transform="translate(150.40,515.70) rotate(-45)" x="0" y="5.47" font-size="7.6" fill="#4d4d4d" text-anchor="end">L3_DNB_P</text>
<text transform="translate(168.20,515.70) rotate(-45)" x="0" y="5.47" font-size="7.6" fill="#4d4d4d" text-anchor="end">L3_DNB_R</text>
<rect x="183.60" y="288.50" width="146.00" height="16.30" fill="#d9d9d9" stroke="#555" stroke-width="1.0" />
<line x1="183.60" y1="304.80" x2="329.60" y2="304.80" stroke="#444" stroke-width="1.4" />
<text x="256.00" y="300.10" font-size="8.0" fill="#222" text-anchor="middle" >Mix2</text>
<line x1="329.60" y1="304.80" x2="329.60" y2="509.30" stroke="#a8a8a8" stroke-width="1.2" />
<line x1="194.20" y1="355.12" x2="194.20" y2="423.07" stroke="#00468B" stroke-width="1.1" />
<line x1="194.20" y1="468.65" x2="194.20" y2="484.90" stroke="#00468B" stroke-width="1.1" />
<line x1="190.70" y1="355.12" x2="197.70" y2="355.12" stroke="#00468B" stroke-width="1.1" />
<line x1="190.70" y1="484.90" x2="197.70" y2="484.90" stroke="#00468B" stroke-width="1.1" />
<rect x="188.00" y="423.07" width="12.40" height="45.57" fill="#fff" stroke="#00468B" stroke-width="1.1" />
<line x1="188.00" y1="451.59" x2="200.40" y2="451.59" stroke="#00468B" stroke-width="1.1" />
<line x1="211.96" y1="420.68" x2="211.96" y2="449.72" stroke="#ED0000" stroke-width="1.1" />
<line x1="211.96" y1="471.58" x2="211.96" y2="485.17" stroke="#ED0000" stroke-width="1.1" />
<line x1="208.46" y1="420.68" x2="215.46" y2="420.68" stroke="#ED0000" stroke-width="1.1" />
<line x1="208.46" y1="485.17" x2="215.46" y2="485.17" stroke="#ED0000" stroke-width="1.1" />
<rect x="205.76" y="449.72" width="12.40" height="21.85" fill="#fff" stroke="#ED0000" stroke-width="1.1" />
<line x1="205.76" y1="460.12" x2="218.16" y2="460.12" stroke="#ED0000" stroke-width="1.1" />
<line x1="229.72" y1="343.12" x2="229.72" y2="415.08" stroke="#42B540" stroke-width="1.1" />
<line x1="229.72" y1="471.58" x2="229.72" y2="484.90" stroke="#42B540" stroke-width="1.1" />
<line x1="226.22" y1="343.12" x2="233.22" y2="343.12" stroke="#42B540" stroke-width="1.1" />
<line x1="226.22" y1="484.90" x2="233.22" y2="484.90" stroke="#42B540" stroke-width="1.1" />
<rect x="223.52" y="415.08" width="12.40" height="56.50" fill="#fff" stroke="#42B540" stroke-width="1.1" />
<line x1="223.52" y1="444.39" x2="235.92" y2="444.39" stroke="#42B540" stroke-width="1.1" />
<line x1="247.48" y1="454.79" x2="247.48" y2="469.18" stroke="#0099B4" stroke-width="1.1" />
<line x1="247.48" y1="479.84" x2="247.48" y2="485.97" stroke="#0099B4" stroke-width="1.1" />
<line x1="243.98" y1="454.79" x2="250.98" y2="454.79" stroke="#0099B4" stroke-width="1.1" />
<line x1="243.98" y1="485.97" x2="250.98" y2="485.97" stroke="#0099B4" stroke-width="1.1" />
<rect x="241.28" y="469.18" width="12.40" height="10.66" fill="#fff" stroke="#0099B4" stroke-width="1.1" />
<line x1="241.28" y1="475.57" x2="253.68" y2="475.57" stroke="#0099B4" stroke-width="1.1" />
<line x1="265.24" y1="378.30" x2="265.24" y2="433.20" stroke="#925E9F" stroke-width="1.1" />
<line x1="265.24" y1="470.24" x2="265.24" y2="485.97" stroke="#925E9F" stroke-width="1.1" />
<line x1="261.74" y1="378.30" x2="268.74" y2="378.30" stroke="#925E9F" stroke-width="1.1" />
<line x1="261.74" y1="485.97" x2="268.74" y2="485.97" stroke="#925E9F" stroke-width="1.1" />
<rect x="259.04" y="433.20" width="12.40" height="37.04" fill="#fff" stroke="#925E9F" stroke-width="1.1" />
<line x1="259.04" y1="453.99" x2="271.44" y2="453.99" stroke="#925E9F" stroke-width="1.1" />
<line x1="283.00" y1="407.88" x2="283.00" y2="440.40" stroke="#FDAF91" stroke-width="1.1" />
<line x1="283.00" y1="471.31" x2="283.00" y2="485.97" stroke="#FDAF91" stroke-width="1.1" />
<line x1="279.50" y1="407.88" x2="286.50" y2="407.88" stroke="#FDAF91" stroke-width="1.1" />
<line x1="279.50" y1="485.97" x2="286.50" y2="485.97" stroke="#FDAF91" stroke-width="1.1" />
<rect x="276.80" y="440.40" width="12.40" height="30.91" fill="#fff" stroke="#FDAF91" stroke-width="1.1" />
<line x1="276.80" y1="455.59" x2="289.20" y2="455.59" stroke="#FDAF91" stroke-width="1.1" />
<line x1="300.76" y1="403.35" x2="300.76" y2="439.06" stroke="#AD002A" stroke-width="1.1" />
<line x1="300.76" y1="471.31" x2="300.76" y2="486.23" stroke="#AD002A" stroke-width="1.1" />
<line x1="297.26" y1="403.35" x2="304.26" y2="403.35" stroke="#AD002A" stroke-width="1.1" />
<line x1="297.26" y1="486.23" x2="304.26" y2="486.23" stroke="#AD002A" stroke-width="1.1" />
<rect x="294.56" y="439.06" width="12.40" height="32.25" fill="#fff" stroke="#AD002A" stroke-width="1.1" />
<line x1="294.56" y1="456.12" x2="306.96" y2="456.12" stroke="#AD002A" stroke-width="1.1" />
<line x1="318.52" y1="402.29" x2="318.52" y2="443.59" stroke="#ADB6B6" stroke-width="1.1" />
<line x1="318.52" y1="472.38" x2="318.52" y2="485.97" stroke="#ADB6B6" stroke-width="1.1" />
<line x1="315.02" y1="402.29" x2="322.02" y2="402.29" stroke="#ADB6B6" stroke-width="1.1" />
<line x1="315.02" y1="485.97" x2="322.02" y2="485.97" stroke="#ADB6B6" stroke-width="1.1" />
<rect x="312.32" y="443.59" width="12.40" height="28.78" fill="#fff" stroke="#ADB6B6" stroke-width="1.1" />
<line x1="312.32" y1="458.78" x2="324.72" y2="458.78" stroke="#ADB6B6" stroke-width="1.1" />
<line x1="183.60" y1="304.80" x2="183.60" y2="509.80" stroke="#666" stroke-width="1.0" />
<line x1="183.10" y1="509.30" x2="329.60" y2="509.30" stroke="#666" stroke-width="1.0" />
<line x1="194.20" y1="509.30" x2="194.20" y2="512.60" stroke="#444" stroke-width="0.9" />
<line x1="211.96" y1="509.30" x2="211.96" y2="512.60" stroke="#444" stroke-width="0.9" />
<line x1="229.72" y1="509.30" x2="229.72" y2="512.60" stroke="#444" stroke-width="0.9" />
<line x1="247.48" y1="509.30" x2="247.48" y2="512.60" stroke="#444" stroke-width="0.9" />
<line x1="265.24" y1="509.30" x2="265.24" y2="512.60" stroke="#444" stroke-width="0.9" />
<line x1="283.00" y1="509.30" x2="283.00" y2="512.60" stroke="#444" stroke-width="0.9" />
<line x1="300.76" y1="509.30" x2="300.76" y2="512.60" stroke="#444" stroke-width="0.9" />
<line x1="318.52" y1="509.30" x2="318.52" y2="512.60" stroke="#444" stroke-width="0.9" />
<text transform="translate(195.10,515.70) rotate(-45)" x="0" y="5.47" font-size="7.6" fill="#4d4d4d" text-anchor="end">L1_ILL_P</text>
<text transform="translate(212.86,515.70) rotate(-45)" x="0" y="5.47" font-size="7.6" fill="#4d4d4d" text-anchor="end">L1_ILL_R</text>
<text transform="translate(230.62,515.70) rotate(-45)" x="0" y="5.47" font-size="7.6" fill="#4d4d4d" text-anchor="end">L2_DNB_P</text>
<text transform="translate(248.38,515.70) rotate(-45)" x="0" y="5.47" font-size="7.6" fill="#4d4d4d" text-anchor="end">L2_DNB_R</text>
<text transform="translate(266.14,515.70) rotate(-45)" x="0" y="5.47" font-size="7.6" fill="#4d4d4d" text-anchor="end">L3_ILL_P</text>
<text transform="translate(283.90,515.70) rotate(-45)" x="0" y="5.47" font-size="7.6" fill="#4d4d4d" text-anchor="end">L3_ILL_R</text>
<text transform="translate(301.66,515.70) rotate(-45)" x="0" y="5.47" font-size="7.6" fill="#4d4d4d" text-anchor="end">L3_DNB_P</text>
<text transform="translate(319.42,515.70) rotate(-45)" x="0" y="5.47" font-size="7.6" fill="#4d4d4d" text-anchor="end">L3_DNB_R</text>
<text x="181.00" y="282.30" font-size="9.3" fill="#000" text-anchor="middle" >Root Mean Square Error</text>
<line x1="30.20" y1="487.30" x2="32.50" y2="487.30" stroke="#444" stroke-width="0.9" />
<text x="27.40" y="489.90" font-size="7.8" fill="#4d4d4d" text-anchor="end" >0</text>
<line x1="30.20" y1="434.00" x2="32.50" y2="434.00" stroke="#444" stroke-width="0.9" />
<text x="27.40" y="436.60" font-size="7.8" fill="#4d4d4d" text-anchor="end" >2</text>
<line x1="30.20" y1="380.70" x2="32.50" y2="380.70" stroke="#444" stroke-width="0.9" />
<text x="27.40" y="383.30" font-size="7.8" fill="#4d4d4d" text-anchor="end" >4</text>
<line x1="30.20" y1="327.40" x2="32.50" y2="327.40" stroke="#444" stroke-width="0.9" />
<text x="27.40" y="330.00" font-size="7.8" fill="#4d4d4d" text-anchor="end" >6</text>
<text transform="translate(16.4,405.5) rotate(-90)" font-size="9.7" fill="#000" text-anchor="middle">RMSE</text>
<text x="532.70" y="277.80" font-size="9.8" fill="#000" text-anchor="middle" >Spearman Correlation Coefficient</text>
<rect x="394.40" y="286.40" width="276.20" height="17.70" fill="#d4d4d4" stroke="#999" stroke-width="1.0" />
<line x1="533.50" y1="286.40" x2="533.50" y2="304.10" stroke="#aaa" stroke-width="1.0" />
<line x1="533.50" y1="304.10" x2="533.50" y2="505.60" stroke="#c8c8c8" stroke-width="1.0" />
<line x1="670.60" y1="304.10" x2="670.60" y2="505.60" stroke="#9a9a9a" stroke-width="1.0" />
<text x="466.10" y="299.60" font-size="10.2" fill="#222" text-anchor="middle" >Mix1</text>
<text x="604.20" y="299.60" font-size="10.2" fill="#222" text-anchor="middle" >Mix2</text>
<rect x="400.20" y="356.16" width="11.60" height="149.44" fill="#00468B" stroke="none" stroke-width="1" />
<rect x="416.32" y="354.14" width="11.60" height="151.46" fill="#ED0000" stroke="none" stroke-width="1" />
<rect x="432.44" y="374.32" width="11.60" height="131.28" fill="#42B540" stroke="none" stroke-width="1" />
<rect x="448.56" y="334.63" width="11.60" height="170.97" fill="#0099B4" stroke="none" stroke-width="1" />
<rect x="464.68" y="351.45" width="11.60" height="154.15" fill="#925E9F" stroke="none" stroke-width="1" />
<rect x="480.80" y="365.58" width="11.60" height="140.02" fill="#FDAF91" stroke="none" stroke-width="1" />
<rect x="496.92" y="352.12" width="11.60" height="153.48" fill="#AD002A" stroke="none" stroke-width="1" />
<rect x="513.04" y="366.25" width="11.60" height="139.35" fill="#ADB6B6" stroke="none" stroke-width="1" />
<rect x="540.50" y="391.81" width="11.60" height="113.79" fill="#00468B" stroke="none" stroke-width="1" />
<rect x="556.62" y="381.19" width="11.60" height="124.41" fill="#ED0000" stroke="none" stroke-width="1" />
<rect x="572.74" y="405.94" width="11.60" height="99.66" fill="#42B540" stroke="none" stroke-width="1" />
<rect x="588.86" y="379.03" width="11.60" height="126.57" fill="#0099B4" stroke="none" stroke-width="1" />
<rect x="604.98" y="379.03" width="11.60" height="126.57" fill="#925E9F" stroke="none" stroke-width="1" />
<rect x="621.10" y="396.52" width="11.60" height="109.08" fill="#FDAF91" stroke="none" stroke-width="1" />
<rect x="637.22" y="381.19" width="11.60" height="124.41" fill="#AD002A" stroke="none" stroke-width="1" />
<rect x="653.34" y="390.47" width="11.60" height="115.13" fill="#ADB6B6" stroke="none" stroke-width="1" />
<line x1="394.40" y1="379.50" x2="670.60" y2="379.50" stroke="#222" stroke-width="1.0" stroke-dasharray="2.8,1.8"/>
<line x1="394.40" y1="304.10" x2="394.40" y2="506.10" stroke="#999" stroke-width="1.1" />
<line x1="393.90" y1="505.90" x2="670.60" y2="505.90" stroke="#9a9a9a" stroke-width="1.1" />
<line x1="406.00" y1="505.60" x2="406.00" y2="508.00" stroke="#666" stroke-width="0.9" />
<line x1="422.12" y1="505.60" x2="422.12" y2="508.00" stroke="#666" stroke-width="0.9" />
<line x1="438.24" y1="505.60" x2="438.24" y2="508.00" stroke="#666" stroke-width="0.9" />
<line x1="454.36" y1="505.60" x2="454.36" y2="508.00" stroke="#666" stroke-width="0.9" />
<line x1="470.48" y1="505.60" x2="470.48" y2="508.00" stroke="#666" stroke-width="0.9" />
<line x1="486.60" y1="505.60" x2="486.60" y2="508.00" stroke="#666" stroke-width="0.9" />
<line x1="502.72" y1="505.60" x2="502.72" y2="508.00" stroke="#666" stroke-width="0.9" />
<line x1="518.84" y1="505.60" x2="518.84" y2="508.00" stroke="#666" stroke-width="0.9" />
<line x1="546.30" y1="505.60" x2="546.30" y2="508.00" stroke="#666" stroke-width="0.9" />
<line x1="562.42" y1="505.60" x2="562.42" y2="508.00" stroke="#666" stroke-width="0.9" />
<line x1="578.54" y1="505.60" x2="578.54" y2="508.00" stroke="#666" stroke-width="0.9" />
<line x1="594.66" y1="505.60" x2="594.66" y2="508.00" stroke="#666" stroke-width="0.9" />
<line x1="610.78" y1="505.60" x2="610.78" y2="508.00" stroke="#666" stroke-width="0.9" />
<line x1="626.90" y1="505.60" x2="626.90" y2="508.00" stroke="#666" stroke-width="0.9" />
<line x1="643.02" y1="505.60" x2="643.02" y2="508.00" stroke="#666" stroke-width="0.9" />
<line x1="659.14" y1="505.60" x2="659.14" y2="508.00" stroke="#666" stroke-width="0.9" />
<line x1="391.70" y1="505.50" x2="394.40" y2="505.50" stroke="#777" stroke-width="0.9" />
<text x="390.30" y="508.90" font-size="9.3" fill="#222" text-anchor="end" >0.70</text>
<line x1="391.70" y1="471.86" x2="394.40" y2="471.86" stroke="#777" stroke-width="0.9" />
<text x="390.30" y="475.26" font-size="9.3" fill="#222" text-anchor="end" >0.75</text>
<line x1="391.70" y1="438.23" x2="394.40" y2="438.23" stroke="#777" stroke-width="0.9" />
<text x="390.30" y="441.63" font-size="9.3" fill="#222" text-anchor="end" >0.80</text>
<line x1="391.70" y1="404.59" x2="394.40" y2="404.59" stroke="#777" stroke-width="0.9" />
<text x="390.30" y="407.99" font-size="9.3" fill="#222" text-anchor="end" >0.85</text>
<line x1="391.70" y1="370.96" x2="394.40" y2="370.96" stroke="#777" stroke-width="0.9" />
<text x="390.30" y="374.36" font-size="9.3" fill="#222" text-anchor="end" >0.90</text>
<line x1="391.70" y1="337.32" x2="394.40" y2="337.32" stroke="#777" stroke-width="0.9" />
<text x="390.30" y="340.72" font-size="9.3" fill="#222" text-anchor="end" >0.95</text>
<line x1="391.70" y1="303.69" x2="394.40" y2="303.69" stroke="#777" stroke-width="0.9" />
<text x="390.30" y="307.09" font-size="9.3" fill="#222" text-anchor="end" >1.00</text>
<text transform="translate(364.5,407.2) rotate(-90)" font-size="11.8" fill="#000" text-anchor="middle">RC</text>
<text transform="translate(404.60,511.70) rotate(-45)" x="0" y="5.54" font-size="7.7" fill="#333" text-anchor="end">L1_ILL_P</text>
<text transform="translate(420.72,511.70) rotate(-45)" x="0" y="5.54" font-size="7.7" fill="#333" text-anchor="end">L1_ILL_R</text>
<text transform="translate(436.84,511.70) rotate(-45)" x="0" y="5.54" font-size="7.7" fill="#333" text-anchor="end">L2_DNB_P</text>
<text transform="translate(452.96,511.70) rotate(-45)" x="0" y="5.54" font-size="7.7" fill="#333" text-anchor="end">L2_DNB_R</text>
<text transform="translate(469.08,511.70) rotate(-45)" x="0" y="5.54" font-size="7.7" fill="#333" text-anchor="end">L3_ILL_P</text>
<text transform="translate(485.20,511.70) rotate(-45)" x="0" y="5.54" font-size="7.7" fill="#333" text-anchor="end">L3_ILL_R</text>
<text transform="translate(501.32,511.70) rotate(-45)" x="0" y="5.54" font-size="7.7" fill="#333" text-anchor="end">L3_DNB_P</text>
<text transform="translate(517.44,511.70) rotate(-45)" x="0" y="5.54" font-size="7.7" fill="#333" text-anchor="end">L3_DNB_R</text>
<text transform="translate(544.90,511.70) rotate(-45)" x="0" y="5.54" font-size="7.7" fill="#333" text-anchor="end">L1_ILL_P</text>
<text transform="translate(561.02,511.70) rotate(-45)" x="0" y="5.54" font-size="7.7" fill="#333" text-anchor="end">L1_ILL_R</text>
<text transform="translate(577.14,511.70) rotate(-45)" x="0" y="5.54" font-size="7.7" fill="#333" text-anchor="end">L2_DNB_P</text>
<text transform="translate(593.26,511.70) rotate(-45)" x="0" y="5.54" font-size="7.7" fill="#333" text-anchor="end">L2_DNB_R</text>
<text transform="translate(609.38,511.70) rotate(-45)" x="0" y="5.54" font-size="7.7" fill="#333" text-anchor="end">L3_ILL_P</text>
<text transform="translate(625.50,511.70) rotate(-45)" x="0" y="5.54" font-size="7.7" fill="#333" text-anchor="end">L3_ILL_R</text>
<text transform="translate(641.62,511.70) rotate(-45)" x="0" y="5.54" font-size="7.7" fill="#333" text-anchor="end">L3_DNB_P</text>
<text transform="translate(657.74,511.70) rotate(-45)" x="0" y="5.54" font-size="7.7" fill="#333" text-anchor="end">L3_DNB_R</text>
</svg></body></html>
